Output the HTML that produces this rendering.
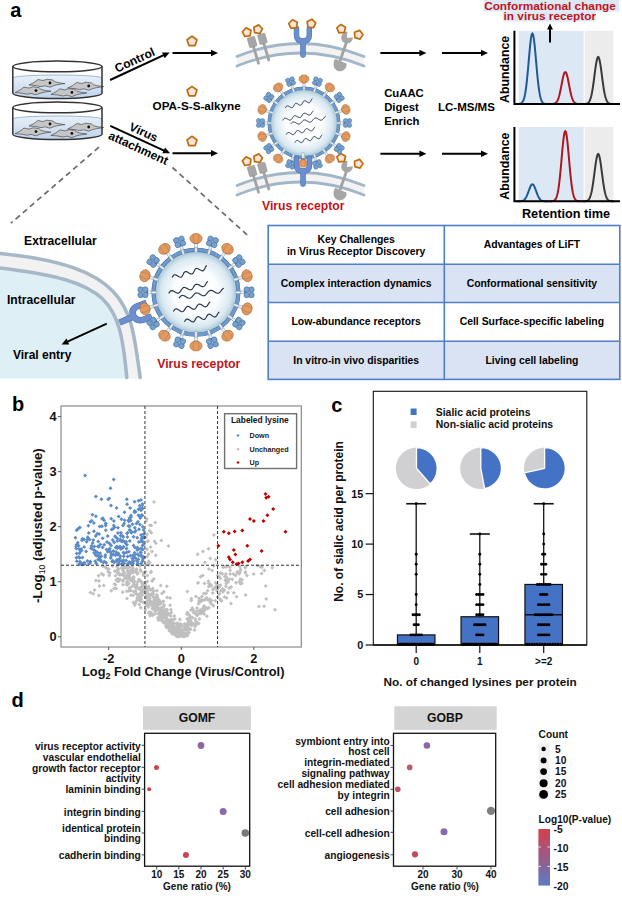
<!DOCTYPE html>
<html><head><meta charset="utf-8"><style>
html,body{margin:0;padding:0;background:#fff;width:622px;height:900px;overflow:hidden}
svg{display:block}
text{font-family:"Liberation Sans",sans-serif}
</style></head><body>
<svg width="622" height="900" viewBox="0 0 622 900">
<defs>
<linearGradient id="liq" x1="0" y1="0" x2="0" y2="1"><stop offset="0" stop-color="#eaf1f9"/><stop offset="1" stop-color="#bdd3ed"/></linearGradient>
<radialGradient id="vir" cx="0.5" cy="0.5" r="0.5"><stop offset="0" stop-color="#ffffff"/><stop offset="0.55" stop-color="#fbfdfe"/><stop offset="0.85" stop-color="#d9e8f0"/><stop offset="1" stop-color="#a8c6d9"/></radialGradient>
<linearGradient id="cbar" x1="0" y1="0" x2="0" y2="1"><stop offset="0" stop-color="#d2404a"/><stop offset="0.5" stop-color="#9b5a86"/><stop offset="1" stop-color="#5a7cc4"/></linearGradient>
</defs>
<rect width="622" height="900" fill="#fff"/>
<text x="10.2" y="17.2" font-size="20" font-weight="bold" fill="#000" text-anchor="start" >a</text>
<path d="M12.799999999999997,66.4 L12.799999999999997,93.2 A44.6,5.3 0 0 0 102.0,93.2 L102.0,66.4 Z" fill="#fff"/>
<path d="M12.799999999999997,78.0 A44.6,3 0 0 1 102.0,78.0 L102.0,93.2 A44.6,5.3 0 0 1 12.799999999999997,93.2 Z" fill="url(#liq)"/>
<path d="M12.799999999999997,78.0 A44.6,3 0 0 1 102.0,78.0" fill="none" stroke="#8fb0d4" stroke-width="0.9"/>
<g transform="translate(50,83.0)"><path d="M-21,2 L-16,-0.5 L-12,-3.5 L-7,-2.5 L-3,-3.8 L3,-3 L5,-1.2 L9,-0.2 L15,0.6 L8,1.6 L4,2.6 L0,4.2 L-5,2.8 L-9,3.6 L-14,2.6 Z" fill="#c6c6c6" stroke="#4d4d4d" stroke-width="0.7" stroke-linejoin="round"/><circle cx="0" cy="0" r="1.4" fill="#111"/></g>
<g transform="translate(88.7,86.0)"><path d="M-21,2 L-16,-0.5 L-12,-3.5 L-7,-2.5 L-3,-3.8 L3,-3 L5,-1.2 L9,-0.2 L15,0.6 L8,1.6 L4,2.6 L0,4.2 L-5,2.8 L-9,3.6 L-14,2.6 Z" fill="#c6c6c6" stroke="#4d4d4d" stroke-width="0.7" stroke-linejoin="round"/><circle cx="0" cy="0" r="1.4" fill="#111"/></g>
<g transform="translate(36,90.60000000000001)"><path d="M-21,2 L-16,-0.5 L-12,-3.5 L-7,-2.5 L-3,-3.8 L3,-3 L5,-1.2 L9,-0.2 L15,0.6 L8,1.6 L4,2.6 L0,4.2 L-5,2.8 L-9,3.6 L-14,2.6 Z" fill="#c6c6c6" stroke="#4d4d4d" stroke-width="0.7" stroke-linejoin="round"/><circle cx="0" cy="0" r="1.4" fill="#111"/></g>
<g transform="translate(71.9,92.4)"><path d="M-21,2 L-16,-0.5 L-12,-3.5 L-7,-2.5 L-3,-3.8 L3,-3 L5,-1.2 L9,-0.2 L15,0.6 L8,1.6 L4,2.6 L0,4.2 L-5,2.8 L-9,3.6 L-14,2.6 Z" fill="#c6c6c6" stroke="#4d4d4d" stroke-width="0.7" stroke-linejoin="round"/><circle cx="0" cy="0" r="1.4" fill="#111"/></g>
<ellipse cx="57.4" cy="66.4" rx="44.6" ry="5.3" fill="#fff" stroke="#333" stroke-width="1.5"/>
<path d="M12.799999999999997,66.4 L12.799999999999997,93.2 A44.6,5.3 0 0 0 102.0,93.2 L102.0,66.4" fill="none" stroke="#333" stroke-width="1.5"/>
<path d="M12.799999999999997,107.4 L12.799999999999997,134.20000000000002 A44.6,5.3 0 0 0 102.0,134.20000000000002 L102.0,107.4 Z" fill="#fff"/>
<path d="M12.799999999999997,119.0 A44.6,3 0 0 1 102.0,119.0 L102.0,134.20000000000002 A44.6,5.3 0 0 1 12.799999999999997,134.20000000000002 Z" fill="url(#liq)"/>
<path d="M12.799999999999997,119.0 A44.6,3 0 0 1 102.0,119.0" fill="none" stroke="#8fb0d4" stroke-width="0.9"/>
<g transform="translate(50,124.0)"><path d="M-21,2 L-16,-0.5 L-12,-3.5 L-7,-2.5 L-3,-3.8 L3,-3 L5,-1.2 L9,-0.2 L15,0.6 L8,1.6 L4,2.6 L0,4.2 L-5,2.8 L-9,3.6 L-14,2.6 Z" fill="#c6c6c6" stroke="#4d4d4d" stroke-width="0.7" stroke-linejoin="round"/><circle cx="0" cy="0" r="1.4" fill="#111"/></g>
<g transform="translate(88.7,127.0)"><path d="M-21,2 L-16,-0.5 L-12,-3.5 L-7,-2.5 L-3,-3.8 L3,-3 L5,-1.2 L9,-0.2 L15,0.6 L8,1.6 L4,2.6 L0,4.2 L-5,2.8 L-9,3.6 L-14,2.6 Z" fill="#c6c6c6" stroke="#4d4d4d" stroke-width="0.7" stroke-linejoin="round"/><circle cx="0" cy="0" r="1.4" fill="#111"/></g>
<g transform="translate(36,131.6)"><path d="M-21,2 L-16,-0.5 L-12,-3.5 L-7,-2.5 L-3,-3.8 L3,-3 L5,-1.2 L9,-0.2 L15,0.6 L8,1.6 L4,2.6 L0,4.2 L-5,2.8 L-9,3.6 L-14,2.6 Z" fill="#c6c6c6" stroke="#4d4d4d" stroke-width="0.7" stroke-linejoin="round"/><circle cx="0" cy="0" r="1.4" fill="#111"/></g>
<g transform="translate(71.9,133.4)"><path d="M-21,2 L-16,-0.5 L-12,-3.5 L-7,-2.5 L-3,-3.8 L3,-3 L5,-1.2 L9,-0.2 L15,0.6 L8,1.6 L4,2.6 L0,4.2 L-5,2.8 L-9,3.6 L-14,2.6 Z" fill="#c6c6c6" stroke="#4d4d4d" stroke-width="0.7" stroke-linejoin="round"/><circle cx="0" cy="0" r="1.4" fill="#111"/></g>
<ellipse cx="57.4" cy="107.4" rx="44.6" ry="5.3" fill="#fff" stroke="#333" stroke-width="1.5"/>
<path d="M12.799999999999997,107.4 L12.799999999999997,134.20000000000002 A44.6,5.3 0 0 0 102.0,134.20000000000002 L102.0,107.4" fill="none" stroke="#333" stroke-width="1.5"/>
<line x1="110.1" y1="80" x2="164.26" y2="54.92" stroke="#000" stroke-width="2"/>
<polygon points="169.70,52.40 164.71,58.29 161.98,52.39" fill="#000"/>
<line x1="110.3" y1="125.9" x2="164.65" y2="150.80" stroke="#000" stroke-width="2"/>
<polygon points="170.10,153.30 162.38,153.34 165.09,147.43" fill="#000"/>
<line x1="172.5" y1="53" x2="212.00" y2="53.00" stroke="#000" stroke-width="2"/>
<polygon points="218.00,53.00 211.00,56.25 211.00,49.75" fill="#000"/>
<line x1="172.5" y1="153.2" x2="212.00" y2="153.20" stroke="#000" stroke-width="2"/>
<polygon points="218.00,153.20 211.00,156.45 211.00,149.95" fill="#000"/>
<polygon points="192.00,36.20 196.95,39.79 195.06,45.61 188.94,45.61 187.05,39.79" fill="#fde3d6" stroke="#b96e12" stroke-width="1.7" stroke-linejoin="round"/>
<polygon points="192.00,86.40 196.95,89.99 195.06,95.81 188.94,95.81 187.05,89.99" fill="#fde3d6" stroke="#b96e12" stroke-width="1.7" stroke-linejoin="round"/>
<polygon points="192.00,136.30 196.95,139.89 195.06,145.71 188.94,145.71 187.05,139.89" fill="#fde3d6" stroke="#b96e12" stroke-width="1.7" stroke-linejoin="round"/>
<text x="0" y="0" font-size="12" font-weight="bold" fill="#000" text-anchor="start" transform="translate(117.1,72.7) rotate(-24.8)">Control</text>
<text x="0" y="0" font-size="12" font-weight="bold" fill="#000" text-anchor="start" transform="translate(128.3,129.7) rotate(24.6)">Virus</text>
<text x="0" y="0" font-size="12" font-weight="bold" fill="#000" text-anchor="start" transform="translate(107.6,138.5) rotate(24.6)">attachment</text>
<text x="152.6" y="110.2" font-size="11.7" font-weight="bold" fill="#000" text-anchor="start" >OPA-S-S-alkyne</text>
<path d="M237,56.5 Q300,30.5 364,56.5 L364,66 Q300,40 237,66 Z" fill="#f3f3f3"/>
<path d="M237,56.5 Q300,30.5 364,56.5" fill="none" stroke="#a2b6ca" stroke-width="2.8" stroke-linecap="round"/>
<path d="M237,66 Q300,40 364,66" fill="none" stroke="#a2b6ca" stroke-width="2.8" stroke-linecap="round"/>
<line x1="252.1" y1="42" x2="258.5" y2="63.2" stroke="#a3a3a3" stroke-width="2.8" stroke-linecap="round"/>
<rect x="-3.8" y="-5" width="7.6" height="10" rx="1" fill="#a6a6a6" stroke="#8c8c8c" stroke-width="0.5" transform="translate(252.1,42) rotate(-16)"/>
<line x1="262.4" y1="38.8" x2="268.8" y2="60" stroke="#a3a3a3" stroke-width="2.8" stroke-linecap="round"/>
<rect x="-3.8" y="-5" width="7.6" height="10" rx="1" fill="#a6a6a6" stroke="#8c8c8c" stroke-width="0.5" transform="translate(262.4,38.8) rotate(-16)"/>
<polygon points="246.10,27.87 250.96,30.24 250.21,35.60 244.88,36.53 242.34,31.76" fill="#fde3d6" stroke="#b96e12" stroke-width="1.7" stroke-linejoin="round"/>
<polygon points="258.70,24.87 262.46,28.76 259.92,33.53 254.59,32.60 253.84,27.24" fill="#fde3d6" stroke="#b96e12" stroke-width="1.7" stroke-linejoin="round"/>
<path d="M296.5,28.5 L296.5,35 Q296.5,41 303,41 Q309.3,41 309.3,35 L309.3,28.5 M303,41 L303,55" fill="none" stroke="#456fa8" stroke-width="5.4" stroke-linecap="round"/>
<path d="M296.5,28.5 L296.5,35 Q296.5,41 303,41 Q309.3,41 309.3,35 L309.3,28.5 M303,41 L303,55" fill="none" stroke="#6a8fcc" stroke-width="4.6" stroke-linecap="round"/>
<polygon points="292.56,19.74 297.33,22.28 296.40,27.61 291.04,28.36 288.67,23.50" fill="#fde3d6" stroke="#b96e12" stroke-width="1.7" stroke-linejoin="round"/>
<polygon points="311.84,19.14 315.73,22.90 313.36,27.76 308.00,27.01 307.07,21.68" fill="#fde3d6" stroke="#b96e12" stroke-width="1.7" stroke-linejoin="round"/>
<line x1="346.5" y1="42" x2="340" y2="61" stroke="#a3a3a3" stroke-width="2.8"/>
<path d="M346.9,38.1 L347.5,31.8 A5.8,5.8 0 1 0 352.8,37.2 Z" fill="#a6a6a6" transform="rotate(0)"/>
<path d="M335.3,59.3 L346.2,63.8 C346.5,69.5 342,71.5 338.5,70.8 C334,70 332.5,64 335.3,59.3 Z" fill="#a6a6a6" stroke="#8f8f8f" stroke-width="0.5"/>
<polygon points="340.90,24.42 345.53,27.20 344.32,32.47 338.93,32.94 336.82,27.97" fill="#fde3d6" stroke="#b96e12" stroke-width="1.7" stroke-linejoin="round"/>
<polygon points="359.59,30.36 362.99,34.56 360.05,39.09 354.83,37.69 354.54,32.29" fill="#fde3d6" stroke="#b96e12" stroke-width="1.7" stroke-linejoin="round"/>
<path d="M237,185.5 Q300,159.5 364,185.5 L364,195 Q300,169 237,195 Z" fill="#f3f3f3"/>
<path d="M237,185.5 Q300,159.5 364,185.5" fill="none" stroke="#a2b6ca" stroke-width="2.8" stroke-linecap="round"/>
<path d="M237,195 Q300,169 364,195" fill="none" stroke="#a2b6ca" stroke-width="2.8" stroke-linecap="round"/>
<line x1="252.1" y1="171" x2="258.5" y2="192.2" stroke="#a3a3a3" stroke-width="2.8" stroke-linecap="round"/>
<rect x="-3.8" y="-5" width="7.6" height="10" rx="1" fill="#a6a6a6" stroke="#8c8c8c" stroke-width="0.5" transform="translate(252.1,171) rotate(-16)"/>
<line x1="262.4" y1="167.8" x2="268.8" y2="189" stroke="#a3a3a3" stroke-width="2.8" stroke-linecap="round"/>
<rect x="-3.8" y="-5" width="7.6" height="10" rx="1" fill="#a6a6a6" stroke="#8c8c8c" stroke-width="0.5" transform="translate(262.4,167.8) rotate(-16)"/>
<polygon points="246.10,156.87 250.96,159.24 250.21,164.60 244.88,165.53 242.34,160.76" fill="#fde3d6" stroke="#b96e12" stroke-width="1.7" stroke-linejoin="round"/>
<polygon points="258.70,153.87 262.46,157.76 259.92,162.53 254.59,161.60 253.84,156.24" fill="#fde3d6" stroke="#b96e12" stroke-width="1.7" stroke-linejoin="round"/>
<line x1="346.5" y1="171" x2="340" y2="190" stroke="#a3a3a3" stroke-width="2.8"/>
<path d="M346.9,167.1 L347.5,160.8 A5.8,5.8 0 1 0 352.8,166.2 Z" fill="#a6a6a6" transform="rotate(0)"/>
<path d="M335.3,188.3 L346.2,192.8 C346.5,198.5 342,200.5 338.5,199.8 C334,199 332.5,193 335.3,188.3 Z" fill="#a6a6a6" stroke="#8f8f8f" stroke-width="0.5"/>
<polygon points="340.90,153.42 345.53,156.20 344.32,161.47 338.93,161.94 336.82,156.97" fill="#fde3d6" stroke="#b96e12" stroke-width="1.7" stroke-linejoin="round"/>
<polygon points="359.59,159.36 362.99,163.56 360.05,168.09 354.83,166.69 354.54,161.29" fill="#fde3d6" stroke="#b96e12" stroke-width="1.7" stroke-linejoin="round"/>
<g transform="translate(304.00,80.00) rotate(0) scale(1.0)"><rect x="-1.1" y="2.2" width="2.2" height="7.5" fill="#eef2f5" stroke="#8e9eac" stroke-width="0.45"/><rect x="-1.6" y="1.8" width="3.2" height="1.4" fill="#3d5f8f"/><ellipse cx="0" cy="-1" rx="5" ry="4.1" fill="#e39a60" stroke="#a9683a" stroke-width="0.5"/><path d="M-1.9,-5.2 Q-2.9,-1.2 -1.9,2.9 M1.9,-5.2 Q2.9,-1.2 1.9,2.9" fill="none" stroke="#c07a45" stroke-width="0.5"/></g><g transform="translate(317.29,82.10) rotate(18) scale(1.0)"><rect x="-1.1" y="2.2" width="2.2" height="7.5" fill="#eef2f5" stroke="#8e9eac" stroke-width="0.45"/><rect x="-1" y="1.5" width="2" height="2" fill="#3d5f8f"/><circle cx="-2.2" cy="-2.4" r="2.3" fill="#76a0cd" stroke="#46709f" stroke-width="0.5"/><circle cx="2.2" cy="-2.4" r="2.3" fill="#76a0cd" stroke="#46709f" stroke-width="0.5"/><circle cx="-2.2" cy="1.4" r="2.3" fill="#76a0cd" stroke="#46709f" stroke-width="0.5"/><circle cx="2.2" cy="1.4" r="2.3" fill="#76a0cd" stroke="#46709f" stroke-width="0.5"/></g><g transform="translate(329.27,88.21) rotate(36) scale(1.0)"><rect x="-1.1" y="2.2" width="2.2" height="7.5" fill="#eef2f5" stroke="#8e9eac" stroke-width="0.45"/><rect x="-1.6" y="1.8" width="3.2" height="1.4" fill="#3d5f8f"/><ellipse cx="0" cy="-1" rx="5" ry="4.1" fill="#e39a60" stroke="#a9683a" stroke-width="0.5"/><path d="M-1.9,-5.2 Q-2.9,-1.2 -1.9,2.9 M1.9,-5.2 Q2.9,-1.2 1.9,2.9" fill="none" stroke="#c07a45" stroke-width="0.5"/></g><g transform="translate(338.79,97.73) rotate(54) scale(1.0)"><rect x="-1.1" y="2.2" width="2.2" height="7.5" fill="#eef2f5" stroke="#8e9eac" stroke-width="0.45"/><rect x="-1" y="1.5" width="2" height="2" fill="#3d5f8f"/><circle cx="-2.2" cy="-2.4" r="2.3" fill="#76a0cd" stroke="#46709f" stroke-width="0.5"/><circle cx="2.2" cy="-2.4" r="2.3" fill="#76a0cd" stroke="#46709f" stroke-width="0.5"/><circle cx="-2.2" cy="1.4" r="2.3" fill="#76a0cd" stroke="#46709f" stroke-width="0.5"/><circle cx="2.2" cy="1.4" r="2.3" fill="#76a0cd" stroke="#46709f" stroke-width="0.5"/></g><g transform="translate(344.90,109.71) rotate(72) scale(1.0)"><rect x="-1.1" y="2.2" width="2.2" height="7.5" fill="#eef2f5" stroke="#8e9eac" stroke-width="0.45"/><rect x="-1.6" y="1.8" width="3.2" height="1.4" fill="#3d5f8f"/><ellipse cx="0" cy="-1" rx="5" ry="4.1" fill="#e39a60" stroke="#a9683a" stroke-width="0.5"/><path d="M-1.9,-5.2 Q-2.9,-1.2 -1.9,2.9 M1.9,-5.2 Q2.9,-1.2 1.9,2.9" fill="none" stroke="#c07a45" stroke-width="0.5"/></g><g transform="translate(347.00,123.00) rotate(90) scale(1.0)"><rect x="-1.1" y="2.2" width="2.2" height="7.5" fill="#eef2f5" stroke="#8e9eac" stroke-width="0.45"/><rect x="-1" y="1.5" width="2" height="2" fill="#3d5f8f"/><circle cx="-2.2" cy="-2.4" r="2.3" fill="#76a0cd" stroke="#46709f" stroke-width="0.5"/><circle cx="2.2" cy="-2.4" r="2.3" fill="#76a0cd" stroke="#46709f" stroke-width="0.5"/><circle cx="-2.2" cy="1.4" r="2.3" fill="#76a0cd" stroke="#46709f" stroke-width="0.5"/><circle cx="2.2" cy="1.4" r="2.3" fill="#76a0cd" stroke="#46709f" stroke-width="0.5"/></g><g transform="translate(344.90,136.29) rotate(108) scale(1.0)"><rect x="-1.1" y="2.2" width="2.2" height="7.5" fill="#eef2f5" stroke="#8e9eac" stroke-width="0.45"/><rect x="-1.6" y="1.8" width="3.2" height="1.4" fill="#3d5f8f"/><ellipse cx="0" cy="-1" rx="5" ry="4.1" fill="#e39a60" stroke="#a9683a" stroke-width="0.5"/><path d="M-1.9,-5.2 Q-2.9,-1.2 -1.9,2.9 M1.9,-5.2 Q2.9,-1.2 1.9,2.9" fill="none" stroke="#c07a45" stroke-width="0.5"/></g><g transform="translate(338.79,148.27) rotate(126) scale(1.0)"><rect x="-1.1" y="2.2" width="2.2" height="7.5" fill="#eef2f5" stroke="#8e9eac" stroke-width="0.45"/><rect x="-1" y="1.5" width="2" height="2" fill="#3d5f8f"/><circle cx="-2.2" cy="-2.4" r="2.3" fill="#76a0cd" stroke="#46709f" stroke-width="0.5"/><circle cx="2.2" cy="-2.4" r="2.3" fill="#76a0cd" stroke="#46709f" stroke-width="0.5"/><circle cx="-2.2" cy="1.4" r="2.3" fill="#76a0cd" stroke="#46709f" stroke-width="0.5"/><circle cx="2.2" cy="1.4" r="2.3" fill="#76a0cd" stroke="#46709f" stroke-width="0.5"/></g><g transform="translate(329.27,157.79) rotate(144) scale(1.0)"><rect x="-1.1" y="2.2" width="2.2" height="7.5" fill="#eef2f5" stroke="#8e9eac" stroke-width="0.45"/><rect x="-1.6" y="1.8" width="3.2" height="1.4" fill="#3d5f8f"/><ellipse cx="0" cy="-1" rx="5" ry="4.1" fill="#e39a60" stroke="#a9683a" stroke-width="0.5"/><path d="M-1.9,-5.2 Q-2.9,-1.2 -1.9,2.9 M1.9,-5.2 Q2.9,-1.2 1.9,2.9" fill="none" stroke="#c07a45" stroke-width="0.5"/></g><g transform="translate(317.29,163.90) rotate(162) scale(1.0)"><rect x="-1.1" y="2.2" width="2.2" height="7.5" fill="#eef2f5" stroke="#8e9eac" stroke-width="0.45"/><rect x="-1" y="1.5" width="2" height="2" fill="#3d5f8f"/><circle cx="-2.2" cy="-2.4" r="2.3" fill="#76a0cd" stroke="#46709f" stroke-width="0.5"/><circle cx="2.2" cy="-2.4" r="2.3" fill="#76a0cd" stroke="#46709f" stroke-width="0.5"/><circle cx="-2.2" cy="1.4" r="2.3" fill="#76a0cd" stroke="#46709f" stroke-width="0.5"/><circle cx="2.2" cy="1.4" r="2.3" fill="#76a0cd" stroke="#46709f" stroke-width="0.5"/></g><g transform="translate(290.71,163.90) rotate(198) scale(1.0)"><rect x="-1.1" y="2.2" width="2.2" height="7.5" fill="#eef2f5" stroke="#8e9eac" stroke-width="0.45"/><rect x="-1" y="1.5" width="2" height="2" fill="#3d5f8f"/><circle cx="-2.2" cy="-2.4" r="2.3" fill="#76a0cd" stroke="#46709f" stroke-width="0.5"/><circle cx="2.2" cy="-2.4" r="2.3" fill="#76a0cd" stroke="#46709f" stroke-width="0.5"/><circle cx="-2.2" cy="1.4" r="2.3" fill="#76a0cd" stroke="#46709f" stroke-width="0.5"/><circle cx="2.2" cy="1.4" r="2.3" fill="#76a0cd" stroke="#46709f" stroke-width="0.5"/></g><g transform="translate(278.73,157.79) rotate(216) scale(1.0)"><rect x="-1.1" y="2.2" width="2.2" height="7.5" fill="#eef2f5" stroke="#8e9eac" stroke-width="0.45"/><rect x="-1.6" y="1.8" width="3.2" height="1.4" fill="#3d5f8f"/><ellipse cx="0" cy="-1" rx="5" ry="4.1" fill="#e39a60" stroke="#a9683a" stroke-width="0.5"/><path d="M-1.9,-5.2 Q-2.9,-1.2 -1.9,2.9 M1.9,-5.2 Q2.9,-1.2 1.9,2.9" fill="none" stroke="#c07a45" stroke-width="0.5"/></g><g transform="translate(269.21,148.27) rotate(234) scale(1.0)"><rect x="-1.1" y="2.2" width="2.2" height="7.5" fill="#eef2f5" stroke="#8e9eac" stroke-width="0.45"/><rect x="-1" y="1.5" width="2" height="2" fill="#3d5f8f"/><circle cx="-2.2" cy="-2.4" r="2.3" fill="#76a0cd" stroke="#46709f" stroke-width="0.5"/><circle cx="2.2" cy="-2.4" r="2.3" fill="#76a0cd" stroke="#46709f" stroke-width="0.5"/><circle cx="-2.2" cy="1.4" r="2.3" fill="#76a0cd" stroke="#46709f" stroke-width="0.5"/><circle cx="2.2" cy="1.4" r="2.3" fill="#76a0cd" stroke="#46709f" stroke-width="0.5"/></g><g transform="translate(263.10,136.29) rotate(252) scale(1.0)"><rect x="-1.1" y="2.2" width="2.2" height="7.5" fill="#eef2f5" stroke="#8e9eac" stroke-width="0.45"/><rect x="-1.6" y="1.8" width="3.2" height="1.4" fill="#3d5f8f"/><ellipse cx="0" cy="-1" rx="5" ry="4.1" fill="#e39a60" stroke="#a9683a" stroke-width="0.5"/><path d="M-1.9,-5.2 Q-2.9,-1.2 -1.9,2.9 M1.9,-5.2 Q2.9,-1.2 1.9,2.9" fill="none" stroke="#c07a45" stroke-width="0.5"/></g><g transform="translate(261.00,123.00) rotate(270) scale(1.0)"><rect x="-1.1" y="2.2" width="2.2" height="7.5" fill="#eef2f5" stroke="#8e9eac" stroke-width="0.45"/><rect x="-1" y="1.5" width="2" height="2" fill="#3d5f8f"/><circle cx="-2.2" cy="-2.4" r="2.3" fill="#76a0cd" stroke="#46709f" stroke-width="0.5"/><circle cx="2.2" cy="-2.4" r="2.3" fill="#76a0cd" stroke="#46709f" stroke-width="0.5"/><circle cx="-2.2" cy="1.4" r="2.3" fill="#76a0cd" stroke="#46709f" stroke-width="0.5"/><circle cx="2.2" cy="1.4" r="2.3" fill="#76a0cd" stroke="#46709f" stroke-width="0.5"/></g><g transform="translate(263.10,109.71) rotate(288) scale(1.0)"><rect x="-1.1" y="2.2" width="2.2" height="7.5" fill="#eef2f5" stroke="#8e9eac" stroke-width="0.45"/><rect x="-1.6" y="1.8" width="3.2" height="1.4" fill="#3d5f8f"/><ellipse cx="0" cy="-1" rx="5" ry="4.1" fill="#e39a60" stroke="#a9683a" stroke-width="0.5"/><path d="M-1.9,-5.2 Q-2.9,-1.2 -1.9,2.9 M1.9,-5.2 Q2.9,-1.2 1.9,2.9" fill="none" stroke="#c07a45" stroke-width="0.5"/></g><g transform="translate(269.21,97.73) rotate(306) scale(1.0)"><rect x="-1.1" y="2.2" width="2.2" height="7.5" fill="#eef2f5" stroke="#8e9eac" stroke-width="0.45"/><rect x="-1" y="1.5" width="2" height="2" fill="#3d5f8f"/><circle cx="-2.2" cy="-2.4" r="2.3" fill="#76a0cd" stroke="#46709f" stroke-width="0.5"/><circle cx="2.2" cy="-2.4" r="2.3" fill="#76a0cd" stroke="#46709f" stroke-width="0.5"/><circle cx="-2.2" cy="1.4" r="2.3" fill="#76a0cd" stroke="#46709f" stroke-width="0.5"/><circle cx="2.2" cy="1.4" r="2.3" fill="#76a0cd" stroke="#46709f" stroke-width="0.5"/></g><g transform="translate(278.73,88.21) rotate(324) scale(1.0)"><rect x="-1.1" y="2.2" width="2.2" height="7.5" fill="#eef2f5" stroke="#8e9eac" stroke-width="0.45"/><rect x="-1.6" y="1.8" width="3.2" height="1.4" fill="#3d5f8f"/><ellipse cx="0" cy="-1" rx="5" ry="4.1" fill="#e39a60" stroke="#a9683a" stroke-width="0.5"/><path d="M-1.9,-5.2 Q-2.9,-1.2 -1.9,2.9 M1.9,-5.2 Q2.9,-1.2 1.9,2.9" fill="none" stroke="#c07a45" stroke-width="0.5"/></g><g transform="translate(290.71,82.10) rotate(342) scale(1.0)"><rect x="-1.1" y="2.2" width="2.2" height="7.5" fill="#eef2f5" stroke="#8e9eac" stroke-width="0.45"/><rect x="-1" y="1.5" width="2" height="2" fill="#3d5f8f"/><circle cx="-2.2" cy="-2.4" r="2.3" fill="#76a0cd" stroke="#46709f" stroke-width="0.5"/><circle cx="2.2" cy="-2.4" r="2.3" fill="#76a0cd" stroke="#46709f" stroke-width="0.5"/><circle cx="-2.2" cy="1.4" r="2.3" fill="#76a0cd" stroke="#46709f" stroke-width="0.5"/><circle cx="2.2" cy="1.4" r="2.3" fill="#76a0cd" stroke="#46709f" stroke-width="0.5"/></g>
<circle cx="304" cy="123" r="33.50" fill="url(#vir)"/>
<circle cx="304" cy="123" r="34.80" fill="none" stroke="#46709c" stroke-width="3.40"/>
<circle cx="304" cy="123" r="34.80" fill="none" stroke="#6e9bcb" stroke-width="2.50"/>
<g transform="translate(304.00,88.20) rotate(0) scale(1.0)"><rect x="-0.9" y="-2" width="1.8" height="4.5" fill="#eef2f5" stroke="#8e9eac" stroke-width="0.4"/></g><g transform="translate(314.75,89.90) rotate(18) scale(1.0)"><rect x="-0.9" y="-2" width="1.8" height="4.5" fill="#eef2f5" stroke="#8e9eac" stroke-width="0.4"/></g><g transform="translate(324.45,94.85) rotate(36) scale(1.0)"><rect x="-0.9" y="-2" width="1.8" height="4.5" fill="#eef2f5" stroke="#8e9eac" stroke-width="0.4"/></g><g transform="translate(332.15,102.55) rotate(54) scale(1.0)"><rect x="-0.9" y="-2" width="1.8" height="4.5" fill="#eef2f5" stroke="#8e9eac" stroke-width="0.4"/></g><g transform="translate(337.10,112.25) rotate(72) scale(1.0)"><rect x="-0.9" y="-2" width="1.8" height="4.5" fill="#eef2f5" stroke="#8e9eac" stroke-width="0.4"/></g><g transform="translate(338.80,123.00) rotate(90) scale(1.0)"><rect x="-0.9" y="-2" width="1.8" height="4.5" fill="#eef2f5" stroke="#8e9eac" stroke-width="0.4"/></g><g transform="translate(337.10,133.75) rotate(108) scale(1.0)"><rect x="-0.9" y="-2" width="1.8" height="4.5" fill="#eef2f5" stroke="#8e9eac" stroke-width="0.4"/></g><g transform="translate(332.15,143.45) rotate(126) scale(1.0)"><rect x="-0.9" y="-2" width="1.8" height="4.5" fill="#eef2f5" stroke="#8e9eac" stroke-width="0.4"/></g><g transform="translate(324.45,151.15) rotate(144) scale(1.0)"><rect x="-0.9" y="-2" width="1.8" height="4.5" fill="#eef2f5" stroke="#8e9eac" stroke-width="0.4"/></g><g transform="translate(314.75,156.10) rotate(162) scale(1.0)"><rect x="-0.9" y="-2" width="1.8" height="4.5" fill="#eef2f5" stroke="#8e9eac" stroke-width="0.4"/></g><g transform="translate(304.00,157.80) rotate(180) scale(1.0)"><rect x="-0.9" y="-2" width="1.8" height="4.5" fill="#eef2f5" stroke="#8e9eac" stroke-width="0.4"/></g><g transform="translate(293.25,156.10) rotate(198) scale(1.0)"><rect x="-0.9" y="-2" width="1.8" height="4.5" fill="#eef2f5" stroke="#8e9eac" stroke-width="0.4"/></g><g transform="translate(283.55,151.15) rotate(216) scale(1.0)"><rect x="-0.9" y="-2" width="1.8" height="4.5" fill="#eef2f5" stroke="#8e9eac" stroke-width="0.4"/></g><g transform="translate(275.85,143.45) rotate(234) scale(1.0)"><rect x="-0.9" y="-2" width="1.8" height="4.5" fill="#eef2f5" stroke="#8e9eac" stroke-width="0.4"/></g><g transform="translate(270.90,133.75) rotate(252) scale(1.0)"><rect x="-0.9" y="-2" width="1.8" height="4.5" fill="#eef2f5" stroke="#8e9eac" stroke-width="0.4"/></g><g transform="translate(269.20,123.00) rotate(270) scale(1.0)"><rect x="-0.9" y="-2" width="1.8" height="4.5" fill="#eef2f5" stroke="#8e9eac" stroke-width="0.4"/></g><g transform="translate(270.90,112.25) rotate(288) scale(1.0)"><rect x="-0.9" y="-2" width="1.8" height="4.5" fill="#eef2f5" stroke="#8e9eac" stroke-width="0.4"/></g><g transform="translate(275.85,102.55) rotate(306) scale(1.0)"><rect x="-0.9" y="-2" width="1.8" height="4.5" fill="#eef2f5" stroke="#8e9eac" stroke-width="0.4"/></g><g transform="translate(283.55,94.85) rotate(324) scale(1.0)"><rect x="-0.9" y="-2" width="1.8" height="4.5" fill="#eef2f5" stroke="#8e9eac" stroke-width="0.4"/></g><g transform="translate(293.25,89.90) rotate(342) scale(1.0)"><rect x="-0.9" y="-2" width="1.8" height="4.5" fill="#eef2f5" stroke="#8e9eac" stroke-width="0.4"/></g>
<polyline transform="translate(285.40,108.00) scale(1.0) rotate(-16.3)" points="0.00,-0.00 0.48,-0.53 0.95,-0.99 1.43,-1.35 1.90,-1.56 2.38,-1.59 2.85,-1.45 3.33,-1.14 3.81,-0.71 4.28,-0.20 4.76,0.33 5.23,0.83 5.71,1.23 6.18,1.50 6.66,1.60 7.14,1.52 7.61,1.27 8.09,0.89 8.56,0.40 9.04,-0.13 9.51,-0.65 9.99,-1.10 10.47,-1.42 10.94,-1.58 11.42,-1.57 11.89,-1.39 12.37,-1.05 12.84,-0.59 13.32,-0.07 13.80,0.46 14.27,0.94 14.75,1.31 15.22,1.54 15.70,1.60 16.17,1.47 16.65,1.19 17.13,0.77 17.60,0.27 18.08,-0.27 18.55,-0.77 19.03,-1.19 19.51,-1.47 19.98,-1.60 20.46,-1.54 20.93,-1.31 21.41,-0.94 21.88,-0.46 22.36,0.07 22.84,0.59 23.31,1.05 23.79,1.39 24.26,1.57 24.74,1.58 25.21,1.42 25.69,1.10 26.17,0.65 26.64,0.13 27.12,-0.40 27.59,-0.89 28.07,-1.27 28.54,-1.52" fill="none" stroke="#26314f" stroke-width="0.9"/>
<polyline transform="translate(282.70,120.40) scale(1.0) rotate(-14.5)" points="0.00,-0.00 0.53,-0.53 1.07,-0.99 1.60,-1.35 2.13,-1.56 2.67,-1.59 3.20,-1.45 3.74,-1.14 4.27,-0.71 4.80,-0.20 5.34,0.33 5.87,0.83 6.40,1.23 6.94,1.50 7.47,1.60 8.00,1.52 8.54,1.27 9.07,0.89 9.60,0.40 10.14,-0.13 10.67,-0.65 11.21,-1.10 11.74,-1.42 12.27,-1.58 12.81,-1.57 13.34,-1.39 13.87,-1.05 14.41,-0.59 14.94,-0.07 15.47,0.46 16.01,0.94 16.54,1.31 17.07,1.54 17.61,1.60 18.14,1.47 18.68,1.19 19.21,0.77 19.74,0.27 20.28,-0.27 20.81,-0.77 21.34,-1.19 21.88,-1.47 22.41,-1.60 22.94,-1.54 23.48,-1.31 24.01,-0.94 24.55,-0.46 25.08,0.07 25.61,0.59 26.15,1.05 26.68,1.39 27.21,1.57 27.75,1.58 28.28,1.42 28.81,1.10 29.35,0.65 29.88,0.13 30.41,-0.40 30.95,-0.89 31.48,-1.27 32.02,-1.52" fill="none" stroke="#26314f" stroke-width="0.9"/>
<polyline transform="translate(290.70,124.00) scale(1.0) rotate(-10.1)" points="0.00,-0.00 0.60,-0.53 1.20,-0.99 1.79,-1.35 2.39,-1.56 2.99,-1.59 3.59,-1.45 4.18,-1.14 4.78,-0.71 5.38,-0.20 5.98,0.33 6.57,0.83 7.17,1.23 7.77,1.50 8.37,1.60 8.96,1.52 9.56,1.27 10.16,0.89 10.76,0.40 11.35,-0.13 11.95,-0.65 12.55,-1.10 13.15,-1.42 13.75,-1.58 14.34,-1.57 14.94,-1.39 15.54,-1.05 16.14,-0.59 16.73,-0.07 17.33,0.46 17.93,0.94 18.53,1.31 19.12,1.54 19.72,1.60 20.32,1.47 20.92,1.19 21.51,0.77 22.11,0.27 22.71,-0.27 23.31,-0.77 23.91,-1.19 24.50,-1.47 25.10,-1.60 25.70,-1.54 26.30,-1.31 26.89,-0.94 27.49,-0.46 28.09,0.07 28.69,0.59 29.28,1.05 29.88,1.39 30.48,1.57 31.08,1.58 31.67,1.42 32.27,1.10 32.87,0.65 33.47,0.13 34.06,-0.40 34.66,-0.89 35.26,-1.27 35.86,-1.52" fill="none" stroke="#26314f" stroke-width="0.9"/>
<polyline transform="translate(286.30,134.50) scale(1.0) rotate(-11.8)" points="0.00,-0.00 0.50,-0.53 0.99,-0.99 1.49,-1.35 1.98,-1.56 2.48,-1.59 2.97,-1.45 3.47,-1.14 3.96,-0.71 4.46,-0.20 4.96,0.33 5.45,0.83 5.95,1.23 6.44,1.50 6.94,1.60 7.43,1.52 7.93,1.27 8.42,0.89 8.92,0.40 9.42,-0.13 9.91,-0.65 10.41,-1.10 10.90,-1.42 11.40,-1.58 11.89,-1.57 12.39,-1.39 12.88,-1.05 13.38,-0.59 13.88,-0.07 14.37,0.46 14.87,0.94 15.36,1.31 15.86,1.54 16.35,1.60 16.85,1.47 17.34,1.19 17.84,0.77 18.34,0.27 18.83,-0.27 19.33,-0.77 19.82,-1.19 20.32,-1.47 20.81,-1.60 21.31,-1.54 21.80,-1.31 22.30,-0.94 22.79,-0.46 23.29,0.07 23.79,0.59 24.28,1.05 24.78,1.39 25.27,1.57 25.77,1.58 26.26,1.42 26.76,1.10 27.25,0.65 27.75,0.13 28.25,-0.40 28.74,-0.89 29.24,-1.27 29.73,-1.52" fill="none" stroke="#26314f" stroke-width="0.9"/>
<polyline transform="translate(295.00,142.50) scale(1.0) rotate(-12.7)" points="0.00,-0.00 0.47,-0.53 0.94,-0.99 1.41,-1.35 1.88,-1.56 2.35,-1.59 2.82,-1.45 3.29,-1.14 3.76,-0.71 4.23,-0.20 4.70,0.33 5.17,0.83 5.64,1.23 6.11,1.50 6.58,1.60 7.05,1.52 7.52,1.27 7.99,0.89 8.46,0.40 8.93,-0.13 9.40,-0.65 9.87,-1.10 10.34,-1.42 10.81,-1.58 11.28,-1.57 11.75,-1.39 12.22,-1.05 12.69,-0.59 13.16,-0.07 13.63,0.46 14.10,0.94 14.56,1.31 15.03,1.54 15.50,1.60 15.97,1.47 16.44,1.19 16.91,0.77 17.38,0.27 17.85,-0.27 18.32,-0.77 18.79,-1.19 19.26,-1.47 19.73,-1.60 20.20,-1.54 20.67,-1.31 21.14,-0.94 21.61,-0.46 22.08,0.07 22.55,0.59 23.02,1.05 23.49,1.39 23.96,1.57 24.43,1.58 24.90,1.42 25.37,1.10 25.84,0.65 26.31,0.13 26.78,-0.40 27.25,-0.89 27.72,-1.27 28.19,-1.52" fill="none" stroke="#26314f" stroke-width="0.9"/>
<g transform="translate(303,161.8)"><rect x="-1.1" y="-9" width="2.2" height="6.5" fill="#eef2f5" stroke="#8e9eac" stroke-width="0.45"/><rect x="-1.8" y="-3.4" width="3.6" height="1.4" fill="#3d5f8f"/><ellipse cx="0" cy="1.6" rx="4.6" ry="3.8" fill="#eb9c5e" stroke="#a9683a" stroke-width="0.5"/><path d="M-1.7,-2 Q-2.5,1.6 -1.7,5.2 M1.7,-2 Q2.5,1.6 1.7,5.2" fill="none" stroke="#c07a45" stroke-width="0.5"/></g>
<path d="M296.5,158.5 L296.5,165 Q296.5,171 303,171 Q309.5,171 309.5,165 L309.5,158.5 M303,171 L303,184" fill="none" stroke="#456fa8" stroke-width="5.4" stroke-linecap="round"/>
<path d="M296.5,158.5 L296.5,165 Q296.5,171 303,171 Q309.5,171 309.5,165 L309.5,158.5 M303,171 L303,184" fill="none" stroke="#6a8fcc" stroke-width="4.4" stroke-linecap="round"/>
<text x="262" y="209.6" font-size="12.2" font-weight="bold" fill="#c0141c" text-anchor="start" >Virus receptor</text>
<line x1="380.4" y1="53" x2="420.40" y2="53.00" stroke="#000" stroke-width="2"/>
<polygon points="426.40,53.00 419.40,56.25 419.40,49.75" fill="#000"/>
<line x1="442" y1="53" x2="482.00" y2="53.00" stroke="#000" stroke-width="2"/>
<polygon points="488.00,53.00 481.00,56.25 481.00,49.75" fill="#000"/>
<line x1="380.4" y1="153.7" x2="420.40" y2="153.70" stroke="#000" stroke-width="2"/>
<polygon points="426.40,153.70 419.40,156.95 419.40,150.45" fill="#000"/>
<line x1="442" y1="153.7" x2="482.00" y2="153.70" stroke="#000" stroke-width="2"/>
<polygon points="488.00,153.70 481.00,156.95 481.00,150.45" fill="#000"/>
<text x="384.2" y="96.5" font-size="11.3" font-weight="bold" fill="#000" text-anchor="start" >CuAAC</text>
<text x="384.2" y="110.5" font-size="11.3" font-weight="bold" fill="#000" text-anchor="start" >Digest</text>
<text x="384.2" y="124.5" font-size="11.3" font-weight="bold" fill="#000" text-anchor="start" >Enrich</text>
<text x="438" y="110.5" font-size="11.5" font-weight="bold" fill="#000" text-anchor="start" >LC-MS/MS</text>
<rect x="518.6" y="30.8" width="65" height="73.2" fill="#dde8f5"/>
<rect x="584.8" y="30.8" width="28.5" height="73.2" fill="#ececec"/>
<polyline points="516.40,103.99 516.80,103.99 517.20,103.98 517.60,103.98 518.00,103.96 518.40,103.95 518.80,103.92 519.20,103.88 519.60,103.82 520.00,103.74 520.40,103.63 520.80,103.48 521.20,103.28 521.60,103.00 522.00,102.64 522.40,102.17 522.80,101.57 523.20,100.80 523.60,99.83 524.00,98.64 524.40,97.19 524.80,95.45 525.20,93.39 525.60,90.98 526.00,88.21 526.40,85.07 526.80,81.57 527.20,77.74 527.60,73.61 528.00,69.24 528.40,64.70 528.80,60.08 529.20,55.50 529.60,51.05 530.00,46.88 530.40,43.08 530.80,39.79 531.20,37.11 531.60,35.13 532.00,33.91 532.40,33.50 532.80,33.91 533.20,35.13 533.60,37.11 534.00,39.79 534.40,43.08 534.80,46.88 535.20,51.05 535.60,55.50 536.00,60.08 536.40,64.70 536.80,69.24 537.20,73.61 537.60,77.74 538.00,81.57 538.40,85.07 538.80,88.21 539.20,90.98 539.60,93.39 540.00,95.45 540.40,97.19 540.80,98.64 541.20,99.83 541.60,100.80 542.00,101.57 542.40,102.17 542.80,102.64 543.20,103.00 543.60,103.28 544.00,103.48 544.40,103.63 544.80,103.74 545.20,103.82 545.60,103.88 546.00,103.92 546.40,103.95 546.80,103.96 547.20,103.98 547.60,103.98 548.00,103.99 548.40,103.99" fill="none" stroke="#1f5a96" stroke-width="2"/>
<polyline points="549.30,104.00 549.70,104.00 550.10,103.99 550.50,103.99 550.90,103.98 551.30,103.98 551.70,103.96 552.10,103.94 552.50,103.92 552.90,103.88 553.30,103.83 553.70,103.77 554.10,103.67 554.50,103.55 554.90,103.38 555.30,103.17 555.70,102.90 556.10,102.55 556.50,102.11 556.90,101.57 557.30,100.91 557.70,100.12 558.10,99.18 558.50,98.09 558.90,96.83 559.30,95.41 559.70,93.82 560.10,92.08 560.50,90.21 560.90,88.22 561.30,86.16 561.70,84.07 562.10,81.98 562.50,79.97 562.90,78.07 563.30,76.35 563.70,74.86 564.10,73.64 564.50,72.74 564.90,72.19 565.30,72.00 565.70,72.19 566.10,72.74 566.50,73.64 566.90,74.86 567.30,76.35 567.70,78.07 568.10,79.97 568.50,81.98 568.90,84.07 569.30,86.16 569.70,88.22 570.10,90.21 570.50,92.08 570.90,93.82 571.30,95.41 571.70,96.83 572.10,98.09 572.50,99.18 572.90,100.12 573.30,100.91 573.70,101.57 574.10,102.11 574.50,102.55 574.90,102.90 575.30,103.17 575.70,103.38 576.10,103.55 576.50,103.67 576.90,103.77 577.30,103.83 577.70,103.88 578.10,103.92 578.50,103.94 578.90,103.96 579.30,103.98 579.70,103.98 580.10,103.99 580.50,103.99 580.90,104.00 581.30,104.00" fill="none" stroke="#b0161e" stroke-width="2"/>
<polyline points="582.20,104.00 582.60,103.99 583.00,103.99 583.40,103.98 583.80,103.98 584.20,103.96 584.60,103.95 585.00,103.92 585.40,103.88 585.80,103.83 586.20,103.76 586.60,103.66 587.00,103.52 587.40,103.34 587.80,103.10 588.20,102.78 588.60,102.38 589.00,101.86 589.40,101.22 589.80,100.43 590.20,99.46 590.60,98.30 591.00,96.92 591.40,95.32 591.80,93.47 592.20,91.38 592.60,89.05 593.00,86.49 593.40,83.74 593.80,80.83 594.20,77.80 594.60,74.72 595.00,71.66 595.40,68.70 595.80,65.92 596.20,63.39 596.60,61.20 597.00,59.41 597.40,58.09 597.80,57.27 598.20,57.00 598.60,57.27 599.00,58.09 599.40,59.41 599.80,61.20 600.20,63.39 600.60,65.92 601.00,68.70 601.40,71.66 601.80,74.72 602.20,77.80 602.60,80.83 603.00,83.74 603.40,86.49 603.80,89.05 604.20,91.38 604.60,93.47 605.00,95.32 605.40,96.92 605.80,98.30 606.20,99.46 606.60,100.43 607.00,101.22 607.40,101.86 607.80,102.38 608.20,102.78 608.60,103.10 609.00,103.34 609.40,103.52 609.80,103.66 610.20,103.76 610.60,103.83 611.00,103.88 611.40,103.92 611.80,103.95 612.20,103.96 612.60,103.98 613.00,103.98 613.40,103.99 613.80,103.99 614.20,104.00" fill="none" stroke="#3a3a3a" stroke-width="2"/>
<path d="M514.4,30.8 L514.4,104 L620,104" fill="none" stroke="#000" stroke-width="2"/>
<text x="0" y="0" font-size="12.3" font-weight="bold" fill="#000" text-anchor="middle" transform="translate(508.9,69.4) rotate(-90)">Abundance</text>
<rect x="518.6" y="127" width="65" height="74.30000000000001" fill="#dde8f5"/>
<rect x="584.8" y="127" width="28.5" height="74.30000000000001" fill="#ececec"/>
<polyline points="516.40,201.30 516.80,201.30 517.20,201.30 517.60,201.29 518.00,201.29 518.40,201.29 518.80,201.28 519.20,201.27 519.60,201.26 520.00,201.24 520.40,201.21 520.80,201.18 521.20,201.13 521.60,201.06 522.00,200.97 522.40,200.86 522.80,200.71 523.20,200.53 523.60,200.30 524.00,200.01 524.40,199.66 524.80,199.24 525.20,198.74 525.60,198.16 526.00,197.49 526.40,196.74 526.80,195.89 527.20,194.97 527.60,193.97 528.00,192.92 528.40,191.82 528.80,190.71 529.20,189.60 529.60,188.53 530.00,187.53 530.40,186.61 530.80,185.82 531.20,185.17 531.60,184.69 532.00,184.40 532.40,184.30 532.80,184.40 533.20,184.69 533.60,185.17 534.00,185.82 534.40,186.61 534.80,187.53 535.20,188.53 535.60,189.60 536.00,190.71 536.40,191.82 536.80,192.92 537.20,193.97 537.60,194.97 538.00,195.89 538.40,196.74 538.80,197.49 539.20,198.16 539.60,198.74 540.00,199.24 540.40,199.66 540.80,200.01 541.20,200.30 541.60,200.53 542.00,200.71 542.40,200.86 542.80,200.97 543.20,201.06 543.60,201.13 544.00,201.18 544.40,201.21 544.80,201.24 545.20,201.26 545.60,201.27 546.00,201.28 546.40,201.29 546.80,201.29 547.20,201.29 547.60,201.30 548.00,201.30 548.40,201.30" fill="none" stroke="#1f5a96" stroke-width="2"/>
<polyline points="549.30,201.29 549.70,201.29 550.10,201.28 550.50,201.28 550.90,201.26 551.30,201.25 551.70,201.22 552.10,201.18 552.50,201.12 552.90,201.04 553.30,200.94 553.70,200.79 554.10,200.58 554.50,200.31 554.90,199.95 555.30,199.48 555.70,198.88 556.10,198.11 556.50,197.16 556.90,195.97 557.30,194.53 557.70,192.80 558.10,190.75 558.50,188.35 558.90,185.60 559.30,182.48 559.70,179.00 560.10,175.19 560.50,171.08 560.90,166.74 561.30,162.22 561.70,157.63 562.10,153.07 562.50,148.65 562.90,144.50 563.30,140.73 563.70,137.46 564.10,134.79 564.50,132.82 564.90,131.61 565.30,131.20 565.70,131.61 566.10,132.82 566.50,134.79 566.90,137.46 567.30,140.73 567.70,144.50 568.10,148.65 568.50,153.07 568.90,157.63 569.30,162.22 569.70,166.74 570.10,171.08 570.50,175.19 570.90,179.00 571.30,182.48 571.70,185.60 572.10,188.35 572.50,190.75 572.90,192.80 573.30,194.53 573.70,195.97 574.10,197.16 574.50,198.11 574.90,198.88 575.30,199.48 575.70,199.95 576.10,200.31 576.50,200.58 576.90,200.79 577.30,200.94 577.70,201.04 578.10,201.12 578.50,201.18 578.90,201.22 579.30,201.25 579.70,201.26 580.10,201.28 580.50,201.28 580.90,201.29 581.30,201.29" fill="none" stroke="#b0161e" stroke-width="2"/>
<polyline points="582.20,201.30 582.60,201.29 583.00,201.29 583.40,201.28 583.80,201.28 584.20,201.26 584.60,201.24 585.00,201.22 585.40,201.18 585.80,201.13 586.20,201.05 586.60,200.95 587.00,200.82 587.40,200.63 587.80,200.39 588.20,200.07 588.60,199.67 589.00,199.15 589.40,198.50 589.80,197.71 590.20,196.73 590.60,195.56 591.00,194.18 591.40,192.56 591.80,190.70 592.20,188.60 592.60,186.25 593.00,183.68 593.40,180.91 593.80,177.98 594.20,174.93 594.60,171.84 595.00,168.76 595.40,165.78 595.80,162.97 596.20,160.43 596.60,158.22 597.00,156.42 597.40,155.09 597.80,154.28 598.20,154.00 598.60,154.28 599.00,155.09 599.40,156.42 599.80,158.22 600.20,160.43 600.60,162.97 601.00,165.78 601.40,168.76 601.80,171.84 602.20,174.93 602.60,177.98 603.00,180.91 603.40,183.68 603.80,186.25 604.20,188.60 604.60,190.70 605.00,192.56 605.40,194.18 605.80,195.56 606.20,196.73 606.60,197.71 607.00,198.50 607.40,199.15 607.80,199.67 608.20,200.07 608.60,200.39 609.00,200.63 609.40,200.82 609.80,200.95 610.20,201.05 610.60,201.13 611.00,201.18 611.40,201.22 611.80,201.24 612.20,201.26 612.60,201.28 613.00,201.28 613.40,201.29 613.80,201.29 614.20,201.30" fill="none" stroke="#3a3a3a" stroke-width="2"/>
<path d="M514.4,127 L514.4,201.3 L620,201.3" fill="none" stroke="#000" stroke-width="2"/>
<text x="0" y="0" font-size="12.3" font-weight="bold" fill="#000" text-anchor="middle" transform="translate(508.9,166.15) rotate(-90)">Abundance</text>
<rect x="484" y="0" width="135" height="11.5" fill="#dde8f5"/>
<rect x="503" y="11.5" width="93" height="10" fill="#dde8f5"/>
<text x="550" y="9.8" font-size="11.8" font-weight="bold" fill="#c0141c" text-anchor="middle" >Conformational change</text>
<text x="549.8" y="19.6" font-size="11.8" font-weight="bold" fill="#c0141c" text-anchor="middle" >in virus receptor</text>
<line x1="550" y1="42.4" x2="550.00" y2="28.50" stroke="#000" stroke-width="2"/>
<polygon points="550.00,23.50 553.00,29.50 547.00,29.50" fill="#000"/>
<text x="566" y="218" font-size="12.7" font-weight="bold" fill="#000" text-anchor="middle" >Retention time</text>
<line x1="98.9" y1="147.2" x2="10.9" y2="223.2" stroke="#6a6a6a" stroke-width="1.7" stroke-dasharray="5.5,4"/>
<line x1="172.5" y1="167.5" x2="248.4" y2="236" stroke="#6a6a6a" stroke-width="1.7" stroke-dasharray="5.5,4"/>
<path d="M0,267.9 C110.5,281.2 119.6,299.9 126.8,378.5 L0,378.5 Z" fill="#deeff6"/>
<path d="M0,253.4 C133.9,266.5 130.4,311.2 140.2,378.5 L126.8,378.5 C119.6,299.9 110.5,281.2 0,267.9 Z" fill="#f2f2f2"/>
<path d="M0,253.4 C133.9,266.5 130.4,311.2 140.2,377.5" fill="none" stroke="#a6b7c8" stroke-width="3.5" stroke-linecap="round"/>
<path d="M0,267.9 C110.5,281.2 119.6,299.9 126.8,377.5" fill="none" stroke="#a6b7c8" stroke-width="3.5" stroke-linecap="round"/>
<text x="24.1" y="244.8" font-size="12.1" font-weight="bold" fill="#000" text-anchor="start" >Extracellular</text>
<text x="7" y="303.8" font-size="12.1" font-weight="bold" fill="#000" text-anchor="start" >Intracellular</text>
<text x="12.9" y="358.8" font-size="12" font-weight="bold" fill="#000" text-anchor="start" >Viral entry</text>
<line x1="106.8" y1="323.6" x2="66.95" y2="341.90" stroke="#000" stroke-width="1.9"/>
<polygon points="61.50,344.40 66.51,338.53 69.22,344.43" fill="#000"/>
<path d="M119.5,322.6 L134,316.2 M146.5,302.8 L137.5,306.2 Q130.5,309.5 133.5,316 Q136.8,322 144,319.5 L151.8,316.5" fill="none" stroke="#4a6ea8" stroke-width="6.4" stroke-linecap="butt" stroke-linejoin="round"/>
<path d="M119.5,322.6 L134,316.2 M146.5,302.8 L137.5,306.2 Q130.5,309.5 133.5,316 Q136.8,322 144,319.5 L151.8,316.5" fill="none" stroke="#6d8fd0" stroke-width="5.4" stroke-linecap="butt" stroke-linejoin="round"/>
<g transform="translate(196.00,239.84) rotate(0) scale(1.22)"><rect x="-1.1" y="2.2" width="2.2" height="7.5" fill="#eef2f5" stroke="#8e9eac" stroke-width="0.45"/><rect x="-1.6" y="1.8" width="3.2" height="1.4" fill="#3d5f8f"/><ellipse cx="0" cy="-1" rx="5" ry="4.1" fill="#e39a60" stroke="#a9683a" stroke-width="0.5"/><path d="M-1.9,-5.2 Q-2.9,-1.2 -1.9,2.9 M1.9,-5.2 Q2.9,-1.2 1.9,2.9" fill="none" stroke="#c07a45" stroke-width="0.5"/></g><g transform="translate(212.21,242.41) rotate(18) scale(1.22)"><rect x="-1.1" y="2.2" width="2.2" height="7.5" fill="#eef2f5" stroke="#8e9eac" stroke-width="0.45"/><rect x="-1" y="1.5" width="2" height="2" fill="#3d5f8f"/><circle cx="-2.2" cy="-2.4" r="2.3" fill="#76a0cd" stroke="#46709f" stroke-width="0.5"/><circle cx="2.2" cy="-2.4" r="2.3" fill="#76a0cd" stroke="#46709f" stroke-width="0.5"/><circle cx="-2.2" cy="1.4" r="2.3" fill="#76a0cd" stroke="#46709f" stroke-width="0.5"/><circle cx="2.2" cy="1.4" r="2.3" fill="#76a0cd" stroke="#46709f" stroke-width="0.5"/></g><g transform="translate(226.84,249.86) rotate(36) scale(1.22)"><rect x="-1.1" y="2.2" width="2.2" height="7.5" fill="#eef2f5" stroke="#8e9eac" stroke-width="0.45"/><rect x="-1.6" y="1.8" width="3.2" height="1.4" fill="#3d5f8f"/><ellipse cx="0" cy="-1" rx="5" ry="4.1" fill="#e39a60" stroke="#a9683a" stroke-width="0.5"/><path d="M-1.9,-5.2 Q-2.9,-1.2 -1.9,2.9 M1.9,-5.2 Q2.9,-1.2 1.9,2.9" fill="none" stroke="#c07a45" stroke-width="0.5"/></g><g transform="translate(238.44,261.46) rotate(54) scale(1.22)"><rect x="-1.1" y="2.2" width="2.2" height="7.5" fill="#eef2f5" stroke="#8e9eac" stroke-width="0.45"/><rect x="-1" y="1.5" width="2" height="2" fill="#3d5f8f"/><circle cx="-2.2" cy="-2.4" r="2.3" fill="#76a0cd" stroke="#46709f" stroke-width="0.5"/><circle cx="2.2" cy="-2.4" r="2.3" fill="#76a0cd" stroke="#46709f" stroke-width="0.5"/><circle cx="-2.2" cy="1.4" r="2.3" fill="#76a0cd" stroke="#46709f" stroke-width="0.5"/><circle cx="2.2" cy="1.4" r="2.3" fill="#76a0cd" stroke="#46709f" stroke-width="0.5"/></g><g transform="translate(245.89,276.09) rotate(72) scale(1.22)"><rect x="-1.1" y="2.2" width="2.2" height="7.5" fill="#eef2f5" stroke="#8e9eac" stroke-width="0.45"/><rect x="-1.6" y="1.8" width="3.2" height="1.4" fill="#3d5f8f"/><ellipse cx="0" cy="-1" rx="5" ry="4.1" fill="#e39a60" stroke="#a9683a" stroke-width="0.5"/><path d="M-1.9,-5.2 Q-2.9,-1.2 -1.9,2.9 M1.9,-5.2 Q2.9,-1.2 1.9,2.9" fill="none" stroke="#c07a45" stroke-width="0.5"/></g><g transform="translate(248.46,292.30) rotate(90) scale(1.22)"><rect x="-1.1" y="2.2" width="2.2" height="7.5" fill="#eef2f5" stroke="#8e9eac" stroke-width="0.45"/><rect x="-1" y="1.5" width="2" height="2" fill="#3d5f8f"/><circle cx="-2.2" cy="-2.4" r="2.3" fill="#76a0cd" stroke="#46709f" stroke-width="0.5"/><circle cx="2.2" cy="-2.4" r="2.3" fill="#76a0cd" stroke="#46709f" stroke-width="0.5"/><circle cx="-2.2" cy="1.4" r="2.3" fill="#76a0cd" stroke="#46709f" stroke-width="0.5"/><circle cx="2.2" cy="1.4" r="2.3" fill="#76a0cd" stroke="#46709f" stroke-width="0.5"/></g><g transform="translate(245.89,308.51) rotate(108) scale(1.22)"><rect x="-1.1" y="2.2" width="2.2" height="7.5" fill="#eef2f5" stroke="#8e9eac" stroke-width="0.45"/><rect x="-1.6" y="1.8" width="3.2" height="1.4" fill="#3d5f8f"/><ellipse cx="0" cy="-1" rx="5" ry="4.1" fill="#e39a60" stroke="#a9683a" stroke-width="0.5"/><path d="M-1.9,-5.2 Q-2.9,-1.2 -1.9,2.9 M1.9,-5.2 Q2.9,-1.2 1.9,2.9" fill="none" stroke="#c07a45" stroke-width="0.5"/></g><g transform="translate(238.44,323.14) rotate(126) scale(1.22)"><rect x="-1.1" y="2.2" width="2.2" height="7.5" fill="#eef2f5" stroke="#8e9eac" stroke-width="0.45"/><rect x="-1" y="1.5" width="2" height="2" fill="#3d5f8f"/><circle cx="-2.2" cy="-2.4" r="2.3" fill="#76a0cd" stroke="#46709f" stroke-width="0.5"/><circle cx="2.2" cy="-2.4" r="2.3" fill="#76a0cd" stroke="#46709f" stroke-width="0.5"/><circle cx="-2.2" cy="1.4" r="2.3" fill="#76a0cd" stroke="#46709f" stroke-width="0.5"/><circle cx="2.2" cy="1.4" r="2.3" fill="#76a0cd" stroke="#46709f" stroke-width="0.5"/></g><g transform="translate(226.84,334.74) rotate(144) scale(1.22)"><rect x="-1.1" y="2.2" width="2.2" height="7.5" fill="#eef2f5" stroke="#8e9eac" stroke-width="0.45"/><rect x="-1.6" y="1.8" width="3.2" height="1.4" fill="#3d5f8f"/><ellipse cx="0" cy="-1" rx="5" ry="4.1" fill="#e39a60" stroke="#a9683a" stroke-width="0.5"/><path d="M-1.9,-5.2 Q-2.9,-1.2 -1.9,2.9 M1.9,-5.2 Q2.9,-1.2 1.9,2.9" fill="none" stroke="#c07a45" stroke-width="0.5"/></g><g transform="translate(212.21,342.19) rotate(162) scale(1.22)"><rect x="-1.1" y="2.2" width="2.2" height="7.5" fill="#eef2f5" stroke="#8e9eac" stroke-width="0.45"/><rect x="-1" y="1.5" width="2" height="2" fill="#3d5f8f"/><circle cx="-2.2" cy="-2.4" r="2.3" fill="#76a0cd" stroke="#46709f" stroke-width="0.5"/><circle cx="2.2" cy="-2.4" r="2.3" fill="#76a0cd" stroke="#46709f" stroke-width="0.5"/><circle cx="-2.2" cy="1.4" r="2.3" fill="#76a0cd" stroke="#46709f" stroke-width="0.5"/><circle cx="2.2" cy="1.4" r="2.3" fill="#76a0cd" stroke="#46709f" stroke-width="0.5"/></g><g transform="translate(196.00,344.76) rotate(180) scale(1.22)"><rect x="-1.1" y="2.2" width="2.2" height="7.5" fill="#eef2f5" stroke="#8e9eac" stroke-width="0.45"/><rect x="-1.6" y="1.8" width="3.2" height="1.4" fill="#3d5f8f"/><ellipse cx="0" cy="-1" rx="5" ry="4.1" fill="#e39a60" stroke="#a9683a" stroke-width="0.5"/><path d="M-1.9,-5.2 Q-2.9,-1.2 -1.9,2.9 M1.9,-5.2 Q2.9,-1.2 1.9,2.9" fill="none" stroke="#c07a45" stroke-width="0.5"/></g><g transform="translate(179.79,342.19) rotate(198) scale(1.22)"><rect x="-1.1" y="2.2" width="2.2" height="7.5" fill="#eef2f5" stroke="#8e9eac" stroke-width="0.45"/><rect x="-1" y="1.5" width="2" height="2" fill="#3d5f8f"/><circle cx="-2.2" cy="-2.4" r="2.3" fill="#76a0cd" stroke="#46709f" stroke-width="0.5"/><circle cx="2.2" cy="-2.4" r="2.3" fill="#76a0cd" stroke="#46709f" stroke-width="0.5"/><circle cx="-2.2" cy="1.4" r="2.3" fill="#76a0cd" stroke="#46709f" stroke-width="0.5"/><circle cx="2.2" cy="1.4" r="2.3" fill="#76a0cd" stroke="#46709f" stroke-width="0.5"/></g><g transform="translate(165.16,334.74) rotate(216) scale(1.22)"><rect x="-1.1" y="2.2" width="2.2" height="7.5" fill="#eef2f5" stroke="#8e9eac" stroke-width="0.45"/><rect x="-1.6" y="1.8" width="3.2" height="1.4" fill="#3d5f8f"/><ellipse cx="0" cy="-1" rx="5" ry="4.1" fill="#e39a60" stroke="#a9683a" stroke-width="0.5"/><path d="M-1.9,-5.2 Q-2.9,-1.2 -1.9,2.9 M1.9,-5.2 Q2.9,-1.2 1.9,2.9" fill="none" stroke="#c07a45" stroke-width="0.5"/></g><g transform="translate(153.56,323.14) rotate(234) scale(1.22)"><rect x="-1.1" y="2.2" width="2.2" height="7.5" fill="#eef2f5" stroke="#8e9eac" stroke-width="0.45"/><rect x="-1" y="1.5" width="2" height="2" fill="#3d5f8f"/><circle cx="-2.2" cy="-2.4" r="2.3" fill="#76a0cd" stroke="#46709f" stroke-width="0.5"/><circle cx="2.2" cy="-2.4" r="2.3" fill="#76a0cd" stroke="#46709f" stroke-width="0.5"/><circle cx="-2.2" cy="1.4" r="2.3" fill="#76a0cd" stroke="#46709f" stroke-width="0.5"/><circle cx="2.2" cy="1.4" r="2.3" fill="#76a0cd" stroke="#46709f" stroke-width="0.5"/></g><g transform="translate(146.11,308.51) rotate(252) scale(1.22)"><rect x="-1.1" y="2.2" width="2.2" height="7.5" fill="#eef2f5" stroke="#8e9eac" stroke-width="0.45"/><rect x="-1.6" y="1.8" width="3.2" height="1.4" fill="#3d5f8f"/><ellipse cx="0" cy="-1" rx="5" ry="4.1" fill="#e39a60" stroke="#a9683a" stroke-width="0.5"/><path d="M-1.9,-5.2 Q-2.9,-1.2 -1.9,2.9 M1.9,-5.2 Q2.9,-1.2 1.9,2.9" fill="none" stroke="#c07a45" stroke-width="0.5"/></g><g transform="translate(143.54,292.30) rotate(270) scale(1.22)"><rect x="-1.1" y="2.2" width="2.2" height="7.5" fill="#eef2f5" stroke="#8e9eac" stroke-width="0.45"/><rect x="-1" y="1.5" width="2" height="2" fill="#3d5f8f"/><circle cx="-2.2" cy="-2.4" r="2.3" fill="#76a0cd" stroke="#46709f" stroke-width="0.5"/><circle cx="2.2" cy="-2.4" r="2.3" fill="#76a0cd" stroke="#46709f" stroke-width="0.5"/><circle cx="-2.2" cy="1.4" r="2.3" fill="#76a0cd" stroke="#46709f" stroke-width="0.5"/><circle cx="2.2" cy="1.4" r="2.3" fill="#76a0cd" stroke="#46709f" stroke-width="0.5"/></g><g transform="translate(146.11,276.09) rotate(288) scale(1.22)"><rect x="-1.1" y="2.2" width="2.2" height="7.5" fill="#eef2f5" stroke="#8e9eac" stroke-width="0.45"/><rect x="-1.6" y="1.8" width="3.2" height="1.4" fill="#3d5f8f"/><ellipse cx="0" cy="-1" rx="5" ry="4.1" fill="#e39a60" stroke="#a9683a" stroke-width="0.5"/><path d="M-1.9,-5.2 Q-2.9,-1.2 -1.9,2.9 M1.9,-5.2 Q2.9,-1.2 1.9,2.9" fill="none" stroke="#c07a45" stroke-width="0.5"/></g><g transform="translate(153.56,261.46) rotate(306) scale(1.22)"><rect x="-1.1" y="2.2" width="2.2" height="7.5" fill="#eef2f5" stroke="#8e9eac" stroke-width="0.45"/><rect x="-1" y="1.5" width="2" height="2" fill="#3d5f8f"/><circle cx="-2.2" cy="-2.4" r="2.3" fill="#76a0cd" stroke="#46709f" stroke-width="0.5"/><circle cx="2.2" cy="-2.4" r="2.3" fill="#76a0cd" stroke="#46709f" stroke-width="0.5"/><circle cx="-2.2" cy="1.4" r="2.3" fill="#76a0cd" stroke="#46709f" stroke-width="0.5"/><circle cx="2.2" cy="1.4" r="2.3" fill="#76a0cd" stroke="#46709f" stroke-width="0.5"/></g><g transform="translate(165.16,249.86) rotate(324) scale(1.22)"><rect x="-1.1" y="2.2" width="2.2" height="7.5" fill="#eef2f5" stroke="#8e9eac" stroke-width="0.45"/><rect x="-1.6" y="1.8" width="3.2" height="1.4" fill="#3d5f8f"/><ellipse cx="0" cy="-1" rx="5" ry="4.1" fill="#e39a60" stroke="#a9683a" stroke-width="0.5"/><path d="M-1.9,-5.2 Q-2.9,-1.2 -1.9,2.9 M1.9,-5.2 Q2.9,-1.2 1.9,2.9" fill="none" stroke="#c07a45" stroke-width="0.5"/></g><g transform="translate(179.79,242.41) rotate(342) scale(1.22)"><rect x="-1.1" y="2.2" width="2.2" height="7.5" fill="#eef2f5" stroke="#8e9eac" stroke-width="0.45"/><rect x="-1" y="1.5" width="2" height="2" fill="#3d5f8f"/><circle cx="-2.2" cy="-2.4" r="2.3" fill="#76a0cd" stroke="#46709f" stroke-width="0.5"/><circle cx="2.2" cy="-2.4" r="2.3" fill="#76a0cd" stroke="#46709f" stroke-width="0.5"/><circle cx="-2.2" cy="1.4" r="2.3" fill="#76a0cd" stroke="#46709f" stroke-width="0.5"/><circle cx="2.2" cy="1.4" r="2.3" fill="#76a0cd" stroke="#46709f" stroke-width="0.5"/></g>
<circle cx="196" cy="292.3" r="40.87" fill="url(#vir)"/>
<circle cx="196" cy="292.3" r="42.46" fill="none" stroke="#46709c" stroke-width="4.15"/>
<circle cx="196" cy="292.3" r="42.46" fill="none" stroke="#6e9bcb" stroke-width="3.05"/>
<g transform="translate(196.00,249.84) rotate(0) scale(1.22)"><rect x="-0.9" y="-2" width="1.8" height="4.5" fill="#eef2f5" stroke="#8e9eac" stroke-width="0.4"/></g><g transform="translate(209.12,251.92) rotate(18) scale(1.22)"><rect x="-0.9" y="-2" width="1.8" height="4.5" fill="#eef2f5" stroke="#8e9eac" stroke-width="0.4"/></g><g transform="translate(220.96,257.95) rotate(36) scale(1.22)"><rect x="-0.9" y="-2" width="1.8" height="4.5" fill="#eef2f5" stroke="#8e9eac" stroke-width="0.4"/></g><g transform="translate(230.35,267.34) rotate(54) scale(1.22)"><rect x="-0.9" y="-2" width="1.8" height="4.5" fill="#eef2f5" stroke="#8e9eac" stroke-width="0.4"/></g><g transform="translate(236.38,279.18) rotate(72) scale(1.22)"><rect x="-0.9" y="-2" width="1.8" height="4.5" fill="#eef2f5" stroke="#8e9eac" stroke-width="0.4"/></g><g transform="translate(238.46,292.30) rotate(90) scale(1.22)"><rect x="-0.9" y="-2" width="1.8" height="4.5" fill="#eef2f5" stroke="#8e9eac" stroke-width="0.4"/></g><g transform="translate(236.38,305.42) rotate(108) scale(1.22)"><rect x="-0.9" y="-2" width="1.8" height="4.5" fill="#eef2f5" stroke="#8e9eac" stroke-width="0.4"/></g><g transform="translate(230.35,317.26) rotate(126) scale(1.22)"><rect x="-0.9" y="-2" width="1.8" height="4.5" fill="#eef2f5" stroke="#8e9eac" stroke-width="0.4"/></g><g transform="translate(220.96,326.65) rotate(144) scale(1.22)"><rect x="-0.9" y="-2" width="1.8" height="4.5" fill="#eef2f5" stroke="#8e9eac" stroke-width="0.4"/></g><g transform="translate(209.12,332.68) rotate(162) scale(1.22)"><rect x="-0.9" y="-2" width="1.8" height="4.5" fill="#eef2f5" stroke="#8e9eac" stroke-width="0.4"/></g><g transform="translate(196.00,334.76) rotate(180) scale(1.22)"><rect x="-0.9" y="-2" width="1.8" height="4.5" fill="#eef2f5" stroke="#8e9eac" stroke-width="0.4"/></g><g transform="translate(182.88,332.68) rotate(198) scale(1.22)"><rect x="-0.9" y="-2" width="1.8" height="4.5" fill="#eef2f5" stroke="#8e9eac" stroke-width="0.4"/></g><g transform="translate(171.04,326.65) rotate(216) scale(1.22)"><rect x="-0.9" y="-2" width="1.8" height="4.5" fill="#eef2f5" stroke="#8e9eac" stroke-width="0.4"/></g><g transform="translate(161.65,317.26) rotate(234) scale(1.22)"><rect x="-0.9" y="-2" width="1.8" height="4.5" fill="#eef2f5" stroke="#8e9eac" stroke-width="0.4"/></g><g transform="translate(155.62,305.42) rotate(252) scale(1.22)"><rect x="-0.9" y="-2" width="1.8" height="4.5" fill="#eef2f5" stroke="#8e9eac" stroke-width="0.4"/></g><g transform="translate(153.54,292.30) rotate(270) scale(1.22)"><rect x="-0.9" y="-2" width="1.8" height="4.5" fill="#eef2f5" stroke="#8e9eac" stroke-width="0.4"/></g><g transform="translate(155.62,279.18) rotate(288) scale(1.22)"><rect x="-0.9" y="-2" width="1.8" height="4.5" fill="#eef2f5" stroke="#8e9eac" stroke-width="0.4"/></g><g transform="translate(161.65,267.34) rotate(306) scale(1.22)"><rect x="-0.9" y="-2" width="1.8" height="4.5" fill="#eef2f5" stroke="#8e9eac" stroke-width="0.4"/></g><g transform="translate(171.04,257.95) rotate(324) scale(1.22)"><rect x="-0.9" y="-2" width="1.8" height="4.5" fill="#eef2f5" stroke="#8e9eac" stroke-width="0.4"/></g><g transform="translate(182.88,251.92) rotate(342) scale(1.22)"><rect x="-0.9" y="-2" width="1.8" height="4.5" fill="#eef2f5" stroke="#8e9eac" stroke-width="0.4"/></g>
<polyline transform="translate(172.19,277.60) scale(1.28) rotate(-16.3)" points="0.00,-0.00 0.48,-0.53 0.95,-0.99 1.43,-1.35 1.90,-1.56 2.38,-1.59 2.85,-1.45 3.33,-1.14 3.81,-0.71 4.28,-0.20 4.76,0.33 5.23,0.83 5.71,1.23 6.18,1.50 6.66,1.60 7.14,1.52 7.61,1.27 8.09,0.89 8.56,0.40 9.04,-0.13 9.51,-0.65 9.99,-1.10 10.47,-1.42 10.94,-1.58 11.42,-1.57 11.89,-1.39 12.37,-1.05 12.84,-0.59 13.32,-0.07 13.80,0.46 14.27,0.94 14.75,1.31 15.22,1.54 15.70,1.60 16.17,1.47 16.65,1.19 17.13,0.77 17.60,0.27 18.08,-0.27 18.55,-0.77 19.03,-1.19 19.51,-1.47 19.98,-1.60 20.46,-1.54 20.93,-1.31 21.41,-0.94 21.88,-0.46 22.36,0.07 22.84,0.59 23.31,1.05 23.79,1.39 24.26,1.57 24.74,1.58 25.21,1.42 25.69,1.10 26.17,0.65 26.64,0.13 27.12,-0.40 27.59,-0.89 28.07,-1.27 28.54,-1.52" fill="none" stroke="#26314f" stroke-width="0.9"/>
<polyline transform="translate(168.74,293.47) scale(1.28) rotate(-14.5)" points="0.00,-0.00 0.53,-0.53 1.07,-0.99 1.60,-1.35 2.13,-1.56 2.67,-1.59 3.20,-1.45 3.74,-1.14 4.27,-0.71 4.80,-0.20 5.34,0.33 5.87,0.83 6.40,1.23 6.94,1.50 7.47,1.60 8.00,1.52 8.54,1.27 9.07,0.89 9.60,0.40 10.14,-0.13 10.67,-0.65 11.21,-1.10 11.74,-1.42 12.27,-1.58 12.81,-1.57 13.34,-1.39 13.87,-1.05 14.41,-0.59 14.94,-0.07 15.47,0.46 16.01,0.94 16.54,1.31 17.07,1.54 17.61,1.60 18.14,1.47 18.68,1.19 19.21,0.77 19.74,0.27 20.28,-0.27 20.81,-0.77 21.34,-1.19 21.88,-1.47 22.41,-1.60 22.94,-1.54 23.48,-1.31 24.01,-0.94 24.55,-0.46 25.08,0.07 25.61,0.59 26.15,1.05 26.68,1.39 27.21,1.57 27.75,1.58 28.28,1.42 28.81,1.10 29.35,0.65 29.88,0.13 30.41,-0.40 30.95,-0.89 31.48,-1.27 32.02,-1.52" fill="none" stroke="#26314f" stroke-width="0.9"/>
<polyline transform="translate(178.98,298.08) scale(1.28) rotate(-10.1)" points="0.00,-0.00 0.60,-0.53 1.20,-0.99 1.79,-1.35 2.39,-1.56 2.99,-1.59 3.59,-1.45 4.18,-1.14 4.78,-0.71 5.38,-0.20 5.98,0.33 6.57,0.83 7.17,1.23 7.77,1.50 8.37,1.60 8.96,1.52 9.56,1.27 10.16,0.89 10.76,0.40 11.35,-0.13 11.95,-0.65 12.55,-1.10 13.15,-1.42 13.75,-1.58 14.34,-1.57 14.94,-1.39 15.54,-1.05 16.14,-0.59 16.73,-0.07 17.33,0.46 17.93,0.94 18.53,1.31 19.12,1.54 19.72,1.60 20.32,1.47 20.92,1.19 21.51,0.77 22.11,0.27 22.71,-0.27 23.31,-0.77 23.91,-1.19 24.50,-1.47 25.10,-1.60 25.70,-1.54 26.30,-1.31 26.89,-0.94 27.49,-0.46 28.09,0.07 28.69,0.59 29.28,1.05 29.88,1.39 30.48,1.57 31.08,1.58 31.67,1.42 32.27,1.10 32.87,0.65 33.47,0.13 34.06,-0.40 34.66,-0.89 35.26,-1.27 35.86,-1.52" fill="none" stroke="#26314f" stroke-width="0.9"/>
<polyline transform="translate(173.34,311.52) scale(1.28) rotate(-11.8)" points="0.00,-0.00 0.50,-0.53 0.99,-0.99 1.49,-1.35 1.98,-1.56 2.48,-1.59 2.97,-1.45 3.47,-1.14 3.96,-0.71 4.46,-0.20 4.96,0.33 5.45,0.83 5.95,1.23 6.44,1.50 6.94,1.60 7.43,1.52 7.93,1.27 8.42,0.89 8.92,0.40 9.42,-0.13 9.91,-0.65 10.41,-1.10 10.90,-1.42 11.40,-1.58 11.89,-1.57 12.39,-1.39 12.88,-1.05 13.38,-0.59 13.88,-0.07 14.37,0.46 14.87,0.94 15.36,1.31 15.86,1.54 16.35,1.60 16.85,1.47 17.34,1.19 17.84,0.77 18.34,0.27 18.83,-0.27 19.33,-0.77 19.82,-1.19 20.32,-1.47 20.81,-1.60 21.31,-1.54 21.80,-1.31 22.30,-0.94 22.79,-0.46 23.29,0.07 23.79,0.59 24.28,1.05 24.78,1.39 25.27,1.57 25.77,1.58 26.26,1.42 26.76,1.10 27.25,0.65 27.75,0.13 28.25,-0.40 28.74,-0.89 29.24,-1.27 29.73,-1.52" fill="none" stroke="#26314f" stroke-width="0.9"/>
<polyline transform="translate(184.48,321.76) scale(1.28) rotate(-12.7)" points="0.00,-0.00 0.47,-0.53 0.94,-0.99 1.41,-1.35 1.88,-1.56 2.35,-1.59 2.82,-1.45 3.29,-1.14 3.76,-0.71 4.23,-0.20 4.70,0.33 5.17,0.83 5.64,1.23 6.11,1.50 6.58,1.60 7.05,1.52 7.52,1.27 7.99,0.89 8.46,0.40 8.93,-0.13 9.40,-0.65 9.87,-1.10 10.34,-1.42 10.81,-1.58 11.28,-1.57 11.75,-1.39 12.22,-1.05 12.69,-0.59 13.16,-0.07 13.63,0.46 14.10,0.94 14.56,1.31 15.03,1.54 15.50,1.60 15.97,1.47 16.44,1.19 16.91,0.77 17.38,0.27 17.85,-0.27 18.32,-0.77 18.79,-1.19 19.26,-1.47 19.73,-1.60 20.20,-1.54 20.67,-1.31 21.14,-0.94 21.61,-0.46 22.08,0.07 22.55,0.59 23.02,1.05 23.49,1.39 23.96,1.57 24.43,1.58 24.90,1.42 25.37,1.10 25.84,0.65 26.31,0.13 26.78,-0.40 27.25,-0.89 27.72,-1.27 28.19,-1.52" fill="none" stroke="#26314f" stroke-width="0.9"/>
<text x="157.2" y="367.8" font-size="12.3" font-weight="bold" fill="#c0141c" text-anchor="start" >Virus receptor</text>
<rect x="268.2" y="264.3" width="351.59999999999997" height="38.19999999999999" fill="#dae3f3"/>
<rect x="268.2" y="341.3" width="351.59999999999997" height="38.099999999999966" fill="#dae3f3"/>
<rect x="268.2" y="225.5" width="351.59999999999997" height="153.89999999999998" fill="none" stroke="#4f7fc8" stroke-width="1.6"/>
<line x1="268.2" y1="264.3" x2="619.8" y2="264.3" stroke="#4f7fc8" stroke-width="1.6"/>
<line x1="268.2" y1="302.5" x2="619.8" y2="302.5" stroke="#4f7fc8" stroke-width="1.6"/>
<line x1="268.2" y1="341.3" x2="619.8" y2="341.3" stroke="#4f7fc8" stroke-width="1.6"/>
<line x1="444.3" y1="225.5" x2="444.3" y2="379.4" stroke="#4f7fc8" stroke-width="1.6"/>
<text x="356.2" y="242.9" font-size="10.4" font-weight="bold" fill="#000" text-anchor="middle" >Key Challenges</text>
<text x="356.2" y="254.5" font-size="10.4" font-weight="bold" fill="#000" text-anchor="middle" >in Virus Receptor Discovery</text>
<text x="531.9" y="248.4" font-size="10.4" font-weight="bold" fill="#000" text-anchor="middle" >Advantages of LiFT</text>
<text x="356.2" y="287.2" font-size="10.4" font-weight="bold" fill="#000" text-anchor="middle" >Complex interaction dynamics</text>
<text x="531.9" y="287.2" font-size="10.4" font-weight="bold" fill="#000" text-anchor="middle" >Conformational sensitivity</text>
<text x="356.2" y="325.2" font-size="10.4" font-weight="bold" fill="#000" text-anchor="middle" >Low-abundance receptors</text>
<text x="531.9" y="325.2" font-size="10.4" font-weight="bold" fill="#000" text-anchor="middle" >Cell Surface-specific labeling</text>
<text x="356.2" y="364.1" font-size="10.4" font-weight="bold" fill="#000" text-anchor="middle" >In vitro-in vivo disparities</text>
<text x="531.9" y="364.1" font-size="10.4" font-weight="bold" fill="#000" text-anchor="middle" >Living cell labeling</text>
<text x="12.1" y="410.6" font-size="20" font-weight="bold" fill="#000" text-anchor="start" >b</text>
<path d="M145.4,607.8l2.0,2.0l-2.0,2.0l-2.0,-2.0zM152.7,606.8l2.0,2.0l-2.0,2.0l-2.0,-2.0zM151.8,603.6l2.0,2.0l-2.0,2.0l-2.0,-2.0zM153.0,603.3l2.0,2.0l-2.0,2.0l-2.0,-2.0zM148.6,594.0l2.0,2.0l-2.0,2.0l-2.0,-2.0zM165.6,618.4l2.0,2.0l-2.0,2.0l-2.0,-2.0zM180.2,631.2l2.0,2.0l-2.0,2.0l-2.0,-2.0zM175.7,633.4l2.0,2.0l-2.0,2.0l-2.0,-2.0zM146.0,595.2l2.0,2.0l-2.0,2.0l-2.0,-2.0zM180.0,627.6l2.0,2.0l-2.0,2.0l-2.0,-2.0zM179.9,632.7l2.0,2.0l-2.0,2.0l-2.0,-2.0zM173.8,625.7l2.0,2.0l-2.0,2.0l-2.0,-2.0zM159.9,607.0l2.0,2.0l-2.0,2.0l-2.0,-2.0zM164.0,608.7l2.0,2.0l-2.0,2.0l-2.0,-2.0zM138.5,593.2l2.0,2.0l-2.0,2.0l-2.0,-2.0zM152.1,604.3l2.0,2.0l-2.0,2.0l-2.0,-2.0zM164.6,620.1l2.0,2.0l-2.0,2.0l-2.0,-2.0zM145.4,562.3l2.0,2.0l-2.0,2.0l-2.0,-2.0zM141.9,587.6l2.0,2.0l-2.0,2.0l-2.0,-2.0zM167.6,617.6l2.0,2.0l-2.0,2.0l-2.0,-2.0zM181.7,632.2l2.0,2.0l-2.0,2.0l-2.0,-2.0zM123.0,582.7l2.0,2.0l-2.0,2.0l-2.0,-2.0zM169.6,612.7l2.0,2.0l-2.0,2.0l-2.0,-2.0zM124.7,565.9l2.0,2.0l-2.0,2.0l-2.0,-2.0zM172.6,624.5l2.0,2.0l-2.0,2.0l-2.0,-2.0zM165.5,611.9l2.0,2.0l-2.0,2.0l-2.0,-2.0zM175.1,632.0l2.0,2.0l-2.0,2.0l-2.0,-2.0zM163.6,620.7l2.0,2.0l-2.0,2.0l-2.0,-2.0zM174.1,631.4l2.0,2.0l-2.0,2.0l-2.0,-2.0zM160.6,583.4l2.0,2.0l-2.0,2.0l-2.0,-2.0zM177.1,629.8l2.0,2.0l-2.0,2.0l-2.0,-2.0zM180.9,632.6l2.0,2.0l-2.0,2.0l-2.0,-2.0zM141.8,580.1l2.0,2.0l-2.0,2.0l-2.0,-2.0zM166.7,608.2l2.0,2.0l-2.0,2.0l-2.0,-2.0zM173.5,625.6l2.0,2.0l-2.0,2.0l-2.0,-2.0zM142.3,592.9l2.0,2.0l-2.0,2.0l-2.0,-2.0zM175.0,629.9l2.0,2.0l-2.0,2.0l-2.0,-2.0zM171.2,620.7l2.0,2.0l-2.0,2.0l-2.0,-2.0zM126.9,564.8l2.0,2.0l-2.0,2.0l-2.0,-2.0zM120.9,572.4l2.0,2.0l-2.0,2.0l-2.0,-2.0zM166.1,624.4l2.0,2.0l-2.0,2.0l-2.0,-2.0zM157.0,593.1l2.0,2.0l-2.0,2.0l-2.0,-2.0zM180.2,630.7l2.0,2.0l-2.0,2.0l-2.0,-2.0zM170.0,621.4l2.0,2.0l-2.0,2.0l-2.0,-2.0zM133.9,582.2l2.0,2.0l-2.0,2.0l-2.0,-2.0zM181.4,632.0l2.0,2.0l-2.0,2.0l-2.0,-2.0zM176.1,631.2l2.0,2.0l-2.0,2.0l-2.0,-2.0zM146.6,596.3l2.0,2.0l-2.0,2.0l-2.0,-2.0zM150.1,613.7l2.0,2.0l-2.0,2.0l-2.0,-2.0zM162.0,605.5l2.0,2.0l-2.0,2.0l-2.0,-2.0zM154.6,598.4l2.0,2.0l-2.0,2.0l-2.0,-2.0zM173.7,627.8l2.0,2.0l-2.0,2.0l-2.0,-2.0zM131.7,570.4l2.0,2.0l-2.0,2.0l-2.0,-2.0zM170.9,625.7l2.0,2.0l-2.0,2.0l-2.0,-2.0zM146.0,585.0l2.0,2.0l-2.0,2.0l-2.0,-2.0zM122.2,566.6l2.0,2.0l-2.0,2.0l-2.0,-2.0zM120.8,572.7l2.0,2.0l-2.0,2.0l-2.0,-2.0zM175.5,630.5l2.0,2.0l-2.0,2.0l-2.0,-2.0zM182.4,633.6l2.0,2.0l-2.0,2.0l-2.0,-2.0zM141.0,587.9l2.0,2.0l-2.0,2.0l-2.0,-2.0zM173.1,621.5l2.0,2.0l-2.0,2.0l-2.0,-2.0zM162.3,619.1l2.0,2.0l-2.0,2.0l-2.0,-2.0zM174.2,626.5l2.0,2.0l-2.0,2.0l-2.0,-2.0zM170.2,623.3l2.0,2.0l-2.0,2.0l-2.0,-2.0zM158.5,599.6l2.0,2.0l-2.0,2.0l-2.0,-2.0zM163.7,620.0l2.0,2.0l-2.0,2.0l-2.0,-2.0zM128.1,569.6l2.0,2.0l-2.0,2.0l-2.0,-2.0zM170.5,620.7l2.0,2.0l-2.0,2.0l-2.0,-2.0zM163.1,608.3l2.0,2.0l-2.0,2.0l-2.0,-2.0zM165.3,613.9l2.0,2.0l-2.0,2.0l-2.0,-2.0zM156.4,598.6l2.0,2.0l-2.0,2.0l-2.0,-2.0zM137.2,571.9l2.0,2.0l-2.0,2.0l-2.0,-2.0zM112.4,563.9l2.0,2.0l-2.0,2.0l-2.0,-2.0zM140.7,597.7l2.0,2.0l-2.0,2.0l-2.0,-2.0zM176.8,628.6l2.0,2.0l-2.0,2.0l-2.0,-2.0zM128.5,570.2l2.0,2.0l-2.0,2.0l-2.0,-2.0zM144.7,588.2l2.0,2.0l-2.0,2.0l-2.0,-2.0zM146.8,593.5l2.0,2.0l-2.0,2.0l-2.0,-2.0zM156.5,605.6l2.0,2.0l-2.0,2.0l-2.0,-2.0zM173.7,631.9l2.0,2.0l-2.0,2.0l-2.0,-2.0zM123.5,571.1l2.0,2.0l-2.0,2.0l-2.0,-2.0zM135.5,585.2l2.0,2.0l-2.0,2.0l-2.0,-2.0zM108.1,569.8l2.0,2.0l-2.0,2.0l-2.0,-2.0zM160.3,615.1l2.0,2.0l-2.0,2.0l-2.0,-2.0zM109.2,573.6l2.0,2.0l-2.0,2.0l-2.0,-2.0zM164.2,610.4l2.0,2.0l-2.0,2.0l-2.0,-2.0zM136.6,598.6l2.0,2.0l-2.0,2.0l-2.0,-2.0zM139.9,594.4l2.0,2.0l-2.0,2.0l-2.0,-2.0zM156.2,595.7l2.0,2.0l-2.0,2.0l-2.0,-2.0zM172.0,631.7l2.0,2.0l-2.0,2.0l-2.0,-2.0zM103.3,572.9l2.0,2.0l-2.0,2.0l-2.0,-2.0zM129.3,585.9l2.0,2.0l-2.0,2.0l-2.0,-2.0zM159.0,597.9l2.0,2.0l-2.0,2.0l-2.0,-2.0zM161.2,608.7l2.0,2.0l-2.0,2.0l-2.0,-2.0zM136.0,584.1l2.0,2.0l-2.0,2.0l-2.0,-2.0zM177.7,633.9l2.0,2.0l-2.0,2.0l-2.0,-2.0zM168.7,623.2l2.0,2.0l-2.0,2.0l-2.0,-2.0zM130.6,588.4l2.0,2.0l-2.0,2.0l-2.0,-2.0zM127.5,569.3l2.0,2.0l-2.0,2.0l-2.0,-2.0zM174.3,621.6l2.0,2.0l-2.0,2.0l-2.0,-2.0zM144.9,590.1l2.0,2.0l-2.0,2.0l-2.0,-2.0zM177.5,624.9l2.0,2.0l-2.0,2.0l-2.0,-2.0zM162.0,591.6l2.0,2.0l-2.0,2.0l-2.0,-2.0zM164.1,608.6l2.0,2.0l-2.0,2.0l-2.0,-2.0zM140.4,591.1l2.0,2.0l-2.0,2.0l-2.0,-2.0zM166.5,625.2l2.0,2.0l-2.0,2.0l-2.0,-2.0zM136.4,569.8l2.0,2.0l-2.0,2.0l-2.0,-2.0zM119.2,572.8l2.0,2.0l-2.0,2.0l-2.0,-2.0zM171.6,617.6l2.0,2.0l-2.0,2.0l-2.0,-2.0zM169.3,628.8l2.0,2.0l-2.0,2.0l-2.0,-2.0zM132.9,575.6l2.0,2.0l-2.0,2.0l-2.0,-2.0zM149.1,587.3l2.0,2.0l-2.0,2.0l-2.0,-2.0zM173.8,626.9l2.0,2.0l-2.0,2.0l-2.0,-2.0zM158.4,608.0l2.0,2.0l-2.0,2.0l-2.0,-2.0zM165.5,610.7l2.0,2.0l-2.0,2.0l-2.0,-2.0zM140.8,594.4l2.0,2.0l-2.0,2.0l-2.0,-2.0zM133.5,576.4l2.0,2.0l-2.0,2.0l-2.0,-2.0zM180.8,633.8l2.0,2.0l-2.0,2.0l-2.0,-2.0zM147.4,573.5l2.0,2.0l-2.0,2.0l-2.0,-2.0zM154.6,598.8l2.0,2.0l-2.0,2.0l-2.0,-2.0zM167.7,618.1l2.0,2.0l-2.0,2.0l-2.0,-2.0zM175.6,628.8l2.0,2.0l-2.0,2.0l-2.0,-2.0zM170.9,607.7l2.0,2.0l-2.0,2.0l-2.0,-2.0zM172.6,622.8l2.0,2.0l-2.0,2.0l-2.0,-2.0zM181.1,628.5l2.0,2.0l-2.0,2.0l-2.0,-2.0zM162.0,608.3l2.0,2.0l-2.0,2.0l-2.0,-2.0zM139.2,594.0l2.0,2.0l-2.0,2.0l-2.0,-2.0zM106.4,565.9l2.0,2.0l-2.0,2.0l-2.0,-2.0zM147.1,589.6l2.0,2.0l-2.0,2.0l-2.0,-2.0zM178.6,626.4l2.0,2.0l-2.0,2.0l-2.0,-2.0zM176.5,634.2l2.0,2.0l-2.0,2.0l-2.0,-2.0zM175.4,626.3l2.0,2.0l-2.0,2.0l-2.0,-2.0zM165.3,620.5l2.0,2.0l-2.0,2.0l-2.0,-2.0zM163.9,602.7l2.0,2.0l-2.0,2.0l-2.0,-2.0zM149.0,595.3l2.0,2.0l-2.0,2.0l-2.0,-2.0zM126.4,580.5l2.0,2.0l-2.0,2.0l-2.0,-2.0zM150.8,570.5l2.0,2.0l-2.0,2.0l-2.0,-2.0zM152.6,586.4l2.0,2.0l-2.0,2.0l-2.0,-2.0zM171.7,629.1l2.0,2.0l-2.0,2.0l-2.0,-2.0zM132.6,570.2l2.0,2.0l-2.0,2.0l-2.0,-2.0zM152.9,613.3l2.0,2.0l-2.0,2.0l-2.0,-2.0zM127.4,580.1l2.0,2.0l-2.0,2.0l-2.0,-2.0zM108.8,567.2l2.0,2.0l-2.0,2.0l-2.0,-2.0zM174.4,624.8l2.0,2.0l-2.0,2.0l-2.0,-2.0zM146.9,586.4l2.0,2.0l-2.0,2.0l-2.0,-2.0zM129.7,586.8l2.0,2.0l-2.0,2.0l-2.0,-2.0zM182.3,624.3l2.0,2.0l-2.0,2.0l-2.0,-2.0zM102.9,564.2l2.0,2.0l-2.0,2.0l-2.0,-2.0zM155.3,601.4l2.0,2.0l-2.0,2.0l-2.0,-2.0zM118.3,570.2l2.0,2.0l-2.0,2.0l-2.0,-2.0zM129.3,575.0l2.0,2.0l-2.0,2.0l-2.0,-2.0zM161.9,608.7l2.0,2.0l-2.0,2.0l-2.0,-2.0zM153.8,600.4l2.0,2.0l-2.0,2.0l-2.0,-2.0zM177.1,634.0l2.0,2.0l-2.0,2.0l-2.0,-2.0zM152.2,579.0l2.0,2.0l-2.0,2.0l-2.0,-2.0zM177.4,626.7l2.0,2.0l-2.0,2.0l-2.0,-2.0zM166.7,616.3l2.0,2.0l-2.0,2.0l-2.0,-2.0zM173.7,628.1l2.0,2.0l-2.0,2.0l-2.0,-2.0zM152.8,603.0l2.0,2.0l-2.0,2.0l-2.0,-2.0zM126.8,589.2l2.0,2.0l-2.0,2.0l-2.0,-2.0zM178.8,631.4l2.0,2.0l-2.0,2.0l-2.0,-2.0zM168.6,623.8l2.0,2.0l-2.0,2.0l-2.0,-2.0zM139.6,585.9l2.0,2.0l-2.0,2.0l-2.0,-2.0zM131.1,593.3l2.0,2.0l-2.0,2.0l-2.0,-2.0zM150.2,599.6l2.0,2.0l-2.0,2.0l-2.0,-2.0zM160.0,617.9l2.0,2.0l-2.0,2.0l-2.0,-2.0zM143.5,571.1l2.0,2.0l-2.0,2.0l-2.0,-2.0zM179.4,624.6l2.0,2.0l-2.0,2.0l-2.0,-2.0zM139.3,602.4l2.0,2.0l-2.0,2.0l-2.0,-2.0zM154.3,598.6l2.0,2.0l-2.0,2.0l-2.0,-2.0zM164.1,604.0l2.0,2.0l-2.0,2.0l-2.0,-2.0zM170.1,596.0l2.0,2.0l-2.0,2.0l-2.0,-2.0zM158.3,603.0l2.0,2.0l-2.0,2.0l-2.0,-2.0zM164.6,611.6l2.0,2.0l-2.0,2.0l-2.0,-2.0zM148.3,604.9l2.0,2.0l-2.0,2.0l-2.0,-2.0zM153.7,589.0l2.0,2.0l-2.0,2.0l-2.0,-2.0zM164.4,610.7l2.0,2.0l-2.0,2.0l-2.0,-2.0zM133.0,566.0l2.0,2.0l-2.0,2.0l-2.0,-2.0zM155.3,606.3l2.0,2.0l-2.0,2.0l-2.0,-2.0zM170.6,629.3l2.0,2.0l-2.0,2.0l-2.0,-2.0zM137.1,571.1l2.0,2.0l-2.0,2.0l-2.0,-2.0zM155.7,606.0l2.0,2.0l-2.0,2.0l-2.0,-2.0zM153.3,595.0l2.0,2.0l-2.0,2.0l-2.0,-2.0zM140.8,568.9l2.0,2.0l-2.0,2.0l-2.0,-2.0zM184.5,634.2l2.0,2.0l-2.0,2.0l-2.0,-2.0zM174.4,625.4l2.0,2.0l-2.0,2.0l-2.0,-2.0zM174.6,617.2l2.0,2.0l-2.0,2.0l-2.0,-2.0zM162.9,614.9l2.0,2.0l-2.0,2.0l-2.0,-2.0zM137.8,585.7l2.0,2.0l-2.0,2.0l-2.0,-2.0zM174.2,629.5l2.0,2.0l-2.0,2.0l-2.0,-2.0zM173.1,625.2l2.0,2.0l-2.0,2.0l-2.0,-2.0zM147.7,601.9l2.0,2.0l-2.0,2.0l-2.0,-2.0zM163.7,610.7l2.0,2.0l-2.0,2.0l-2.0,-2.0zM156.8,602.0l2.0,2.0l-2.0,2.0l-2.0,-2.0zM152.3,593.9l2.0,2.0l-2.0,2.0l-2.0,-2.0zM131.0,593.3l2.0,2.0l-2.0,2.0l-2.0,-2.0zM145.9,595.5l2.0,2.0l-2.0,2.0l-2.0,-2.0zM133.8,574.9l2.0,2.0l-2.0,2.0l-2.0,-2.0zM152.0,578.9l2.0,2.0l-2.0,2.0l-2.0,-2.0zM124.6,570.9l2.0,2.0l-2.0,2.0l-2.0,-2.0zM136.3,569.1l2.0,2.0l-2.0,2.0l-2.0,-2.0zM181.4,624.0l2.0,2.0l-2.0,2.0l-2.0,-2.0zM176.3,628.9l2.0,2.0l-2.0,2.0l-2.0,-2.0zM170.7,622.6l2.0,2.0l-2.0,2.0l-2.0,-2.0zM175.4,630.9l2.0,2.0l-2.0,2.0l-2.0,-2.0zM117.3,577.0l2.0,2.0l-2.0,2.0l-2.0,-2.0zM179.8,629.3l2.0,2.0l-2.0,2.0l-2.0,-2.0zM161.6,611.5l2.0,2.0l-2.0,2.0l-2.0,-2.0zM172.5,625.0l2.0,2.0l-2.0,2.0l-2.0,-2.0zM163.8,589.7l2.0,2.0l-2.0,2.0l-2.0,-2.0zM172.3,629.9l2.0,2.0l-2.0,2.0l-2.0,-2.0zM156.1,603.8l2.0,2.0l-2.0,2.0l-2.0,-2.0zM133.4,589.5l2.0,2.0l-2.0,2.0l-2.0,-2.0zM175.5,625.7l2.0,2.0l-2.0,2.0l-2.0,-2.0zM180.9,633.6l2.0,2.0l-2.0,2.0l-2.0,-2.0zM143.1,600.3l2.0,2.0l-2.0,2.0l-2.0,-2.0zM175.4,628.2l2.0,2.0l-2.0,2.0l-2.0,-2.0zM176.2,626.0l2.0,2.0l-2.0,2.0l-2.0,-2.0zM130.2,568.7l2.0,2.0l-2.0,2.0l-2.0,-2.0zM127.4,566.5l2.0,2.0l-2.0,2.0l-2.0,-2.0zM159.0,607.1l2.0,2.0l-2.0,2.0l-2.0,-2.0zM152.3,606.8l2.0,2.0l-2.0,2.0l-2.0,-2.0zM146.4,603.1l2.0,2.0l-2.0,2.0l-2.0,-2.0zM182.7,634.2l2.0,2.0l-2.0,2.0l-2.0,-2.0zM146.0,588.2l2.0,2.0l-2.0,2.0l-2.0,-2.0zM155.5,607.7l2.0,2.0l-2.0,2.0l-2.0,-2.0zM135.0,585.0l2.0,2.0l-2.0,2.0l-2.0,-2.0zM176.4,627.2l2.0,2.0l-2.0,2.0l-2.0,-2.0zM170.1,603.3l2.0,2.0l-2.0,2.0l-2.0,-2.0zM137.9,579.7l2.0,2.0l-2.0,2.0l-2.0,-2.0zM150.8,587.9l2.0,2.0l-2.0,2.0l-2.0,-2.0zM155.4,611.4l2.0,2.0l-2.0,2.0l-2.0,-2.0zM127.0,596.5l2.0,2.0l-2.0,2.0l-2.0,-2.0zM134.8,579.4l2.0,2.0l-2.0,2.0l-2.0,-2.0zM176.8,621.4l2.0,2.0l-2.0,2.0l-2.0,-2.0zM128.8,581.7l2.0,2.0l-2.0,2.0l-2.0,-2.0zM116.7,578.6l2.0,2.0l-2.0,2.0l-2.0,-2.0zM143.4,572.9l2.0,2.0l-2.0,2.0l-2.0,-2.0zM144.9,588.7l2.0,2.0l-2.0,2.0l-2.0,-2.0zM151.7,611.3l2.0,2.0l-2.0,2.0l-2.0,-2.0zM149.0,586.4l2.0,2.0l-2.0,2.0l-2.0,-2.0zM160.6,606.6l2.0,2.0l-2.0,2.0l-2.0,-2.0zM178.5,634.2l2.0,2.0l-2.0,2.0l-2.0,-2.0zM157.3,594.5l2.0,2.0l-2.0,2.0l-2.0,-2.0zM177.8,623.1l2.0,2.0l-2.0,2.0l-2.0,-2.0zM163.1,616.1l2.0,2.0l-2.0,2.0l-2.0,-2.0zM136.0,591.6l2.0,2.0l-2.0,2.0l-2.0,-2.0zM159.8,612.4l2.0,2.0l-2.0,2.0l-2.0,-2.0zM126.8,583.1l2.0,2.0l-2.0,2.0l-2.0,-2.0zM139.6,563.9l2.0,2.0l-2.0,2.0l-2.0,-2.0zM142.1,585.0l2.0,2.0l-2.0,2.0l-2.0,-2.0zM169.1,621.5l2.0,2.0l-2.0,2.0l-2.0,-2.0zM174.2,625.4l2.0,2.0l-2.0,2.0l-2.0,-2.0zM167.2,613.4l2.0,2.0l-2.0,2.0l-2.0,-2.0zM133.3,570.6l2.0,2.0l-2.0,2.0l-2.0,-2.0zM133.4,600.4l2.0,2.0l-2.0,2.0l-2.0,-2.0zM150.7,599.0l2.0,2.0l-2.0,2.0l-2.0,-2.0zM174.3,631.9l2.0,2.0l-2.0,2.0l-2.0,-2.0zM149.9,596.6l2.0,2.0l-2.0,2.0l-2.0,-2.0zM123.0,568.4l2.0,2.0l-2.0,2.0l-2.0,-2.0zM172.9,627.5l2.0,2.0l-2.0,2.0l-2.0,-2.0zM157.1,604.6l2.0,2.0l-2.0,2.0l-2.0,-2.0zM167.1,595.5l2.0,2.0l-2.0,2.0l-2.0,-2.0zM166.3,610.2l2.0,2.0l-2.0,2.0l-2.0,-2.0zM148.8,602.2l2.0,2.0l-2.0,2.0l-2.0,-2.0zM166.0,619.6l2.0,2.0l-2.0,2.0l-2.0,-2.0zM139.5,592.0l2.0,2.0l-2.0,2.0l-2.0,-2.0zM139.0,586.9l2.0,2.0l-2.0,2.0l-2.0,-2.0zM171.9,618.9l2.0,2.0l-2.0,2.0l-2.0,-2.0zM180.3,633.4l2.0,2.0l-2.0,2.0l-2.0,-2.0zM175.5,627.6l2.0,2.0l-2.0,2.0l-2.0,-2.0zM117.7,571.3l2.0,2.0l-2.0,2.0l-2.0,-2.0zM166.8,584.2l2.0,2.0l-2.0,2.0l-2.0,-2.0zM136.5,567.1l2.0,2.0l-2.0,2.0l-2.0,-2.0zM181.8,632.0l2.0,2.0l-2.0,2.0l-2.0,-2.0zM153.5,605.9l2.0,2.0l-2.0,2.0l-2.0,-2.0zM123.9,564.6l2.0,2.0l-2.0,2.0l-2.0,-2.0zM140.3,567.8l2.0,2.0l-2.0,2.0l-2.0,-2.0zM116.1,586.4l2.0,2.0l-2.0,2.0l-2.0,-2.0zM140.4,578.4l2.0,2.0l-2.0,2.0l-2.0,-2.0zM157.8,596.1l2.0,2.0l-2.0,2.0l-2.0,-2.0zM164.8,607.6l2.0,2.0l-2.0,2.0l-2.0,-2.0zM177.9,624.9l2.0,2.0l-2.0,2.0l-2.0,-2.0zM178.3,629.4l2.0,2.0l-2.0,2.0l-2.0,-2.0zM156.1,608.5l2.0,2.0l-2.0,2.0l-2.0,-2.0zM165.5,621.2l2.0,2.0l-2.0,2.0l-2.0,-2.0zM139.0,597.8l2.0,2.0l-2.0,2.0l-2.0,-2.0zM160.2,601.9l2.0,2.0l-2.0,2.0l-2.0,-2.0zM169.1,622.7l2.0,2.0l-2.0,2.0l-2.0,-2.0zM182.1,630.0l2.0,2.0l-2.0,2.0l-2.0,-2.0zM139.0,594.4l2.0,2.0l-2.0,2.0l-2.0,-2.0zM163.5,614.6l2.0,2.0l-2.0,2.0l-2.0,-2.0zM163.4,599.2l2.0,2.0l-2.0,2.0l-2.0,-2.0zM141.3,597.1l2.0,2.0l-2.0,2.0l-2.0,-2.0zM168.6,625.7l2.0,2.0l-2.0,2.0l-2.0,-2.0zM180.8,622.0l2.0,2.0l-2.0,2.0l-2.0,-2.0zM127.2,573.0l2.0,2.0l-2.0,2.0l-2.0,-2.0zM182.5,633.5l2.0,2.0l-2.0,2.0l-2.0,-2.0zM162.5,609.9l2.0,2.0l-2.0,2.0l-2.0,-2.0zM156.3,594.6l2.0,2.0l-2.0,2.0l-2.0,-2.0zM181.4,632.1l2.0,2.0l-2.0,2.0l-2.0,-2.0zM176.5,631.4l2.0,2.0l-2.0,2.0l-2.0,-2.0zM138.2,593.9l2.0,2.0l-2.0,2.0l-2.0,-2.0zM159.9,613.6l2.0,2.0l-2.0,2.0l-2.0,-2.0zM166.0,615.7l2.0,2.0l-2.0,2.0l-2.0,-2.0zM141.8,584.5l2.0,2.0l-2.0,2.0l-2.0,-2.0zM175.8,629.7l2.0,2.0l-2.0,2.0l-2.0,-2.0zM122.8,579.0l2.0,2.0l-2.0,2.0l-2.0,-2.0zM167.4,624.3l2.0,2.0l-2.0,2.0l-2.0,-2.0zM160.2,609.9l2.0,2.0l-2.0,2.0l-2.0,-2.0zM174.3,613.9l2.0,2.0l-2.0,2.0l-2.0,-2.0zM153.6,592.1l2.0,2.0l-2.0,2.0l-2.0,-2.0zM152.5,600.5l2.0,2.0l-2.0,2.0l-2.0,-2.0zM148.6,584.4l2.0,2.0l-2.0,2.0l-2.0,-2.0zM161.2,613.9l2.0,2.0l-2.0,2.0l-2.0,-2.0zM179.0,630.9l2.0,2.0l-2.0,2.0l-2.0,-2.0zM177.6,631.6l2.0,2.0l-2.0,2.0l-2.0,-2.0zM140.5,599.3l2.0,2.0l-2.0,2.0l-2.0,-2.0zM168.7,618.7l2.0,2.0l-2.0,2.0l-2.0,-2.0zM143.7,581.9l2.0,2.0l-2.0,2.0l-2.0,-2.0zM148.2,591.4l2.0,2.0l-2.0,2.0l-2.0,-2.0zM176.9,631.6l2.0,2.0l-2.0,2.0l-2.0,-2.0zM156.9,588.8l2.0,2.0l-2.0,2.0l-2.0,-2.0zM171.8,619.8l2.0,2.0l-2.0,2.0l-2.0,-2.0zM148.0,586.1l2.0,2.0l-2.0,2.0l-2.0,-2.0zM170.7,614.1l2.0,2.0l-2.0,2.0l-2.0,-2.0zM159.7,598.9l2.0,2.0l-2.0,2.0l-2.0,-2.0zM151.1,569.5l2.0,2.0l-2.0,2.0l-2.0,-2.0zM154.8,608.9l2.0,2.0l-2.0,2.0l-2.0,-2.0zM132.7,579.6l2.0,2.0l-2.0,2.0l-2.0,-2.0zM167.1,611.7l2.0,2.0l-2.0,2.0l-2.0,-2.0zM133.2,568.0l2.0,2.0l-2.0,2.0l-2.0,-2.0zM161.9,614.4l2.0,2.0l-2.0,2.0l-2.0,-2.0zM160.5,614.1l2.0,2.0l-2.0,2.0l-2.0,-2.0zM167.4,612.6l2.0,2.0l-2.0,2.0l-2.0,-2.0zM166.7,625.4l2.0,2.0l-2.0,2.0l-2.0,-2.0zM148.4,601.1l2.0,2.0l-2.0,2.0l-2.0,-2.0zM127.3,576.7l2.0,2.0l-2.0,2.0l-2.0,-2.0zM136.5,583.3l2.0,2.0l-2.0,2.0l-2.0,-2.0zM129.7,572.8l2.0,2.0l-2.0,2.0l-2.0,-2.0zM156.6,603.0l2.0,2.0l-2.0,2.0l-2.0,-2.0zM135.7,600.8l2.0,2.0l-2.0,2.0l-2.0,-2.0zM137.1,592.3l2.0,2.0l-2.0,2.0l-2.0,-2.0zM147.4,579.5l2.0,2.0l-2.0,2.0l-2.0,-2.0zM141.7,580.8l2.0,2.0l-2.0,2.0l-2.0,-2.0zM183.3,631.5l2.0,2.0l-2.0,2.0l-2.0,-2.0zM137.9,571.2l2.0,2.0l-2.0,2.0l-2.0,-2.0zM177.3,631.5l2.0,2.0l-2.0,2.0l-2.0,-2.0zM135.8,584.4l2.0,2.0l-2.0,2.0l-2.0,-2.0zM146.5,592.5l2.0,2.0l-2.0,2.0l-2.0,-2.0zM145.3,582.8l2.0,2.0l-2.0,2.0l-2.0,-2.0zM155.4,602.6l2.0,2.0l-2.0,2.0l-2.0,-2.0zM160.5,616.1l2.0,2.0l-2.0,2.0l-2.0,-2.0zM117.1,565.0l2.0,2.0l-2.0,2.0l-2.0,-2.0zM146.2,601.4l2.0,2.0l-2.0,2.0l-2.0,-2.0zM136.1,586.5l2.0,2.0l-2.0,2.0l-2.0,-2.0zM148.6,610.9l2.0,2.0l-2.0,2.0l-2.0,-2.0zM123.8,577.6l2.0,2.0l-2.0,2.0l-2.0,-2.0zM118.2,579.3l2.0,2.0l-2.0,2.0l-2.0,-2.0zM153.8,576.9l2.0,2.0l-2.0,2.0l-2.0,-2.0zM133.3,593.2l2.0,2.0l-2.0,2.0l-2.0,-2.0zM151.4,602.4l2.0,2.0l-2.0,2.0l-2.0,-2.0zM150.2,610.1l2.0,2.0l-2.0,2.0l-2.0,-2.0zM167.1,610.2l2.0,2.0l-2.0,2.0l-2.0,-2.0zM165.6,613.4l2.0,2.0l-2.0,2.0l-2.0,-2.0zM164.3,609.9l2.0,2.0l-2.0,2.0l-2.0,-2.0zM170.1,619.2l2.0,2.0l-2.0,2.0l-2.0,-2.0zM167.1,618.1l2.0,2.0l-2.0,2.0l-2.0,-2.0zM173.6,629.9l2.0,2.0l-2.0,2.0l-2.0,-2.0zM168.7,626.3l2.0,2.0l-2.0,2.0l-2.0,-2.0zM175.3,632.5l2.0,2.0l-2.0,2.0l-2.0,-2.0zM131.9,570.3l2.0,2.0l-2.0,2.0l-2.0,-2.0zM181.8,633.6l2.0,2.0l-2.0,2.0l-2.0,-2.0zM174.1,624.0l2.0,2.0l-2.0,2.0l-2.0,-2.0zM170.2,622.9l2.0,2.0l-2.0,2.0l-2.0,-2.0zM166.3,623.6l2.0,2.0l-2.0,2.0l-2.0,-2.0zM173.5,626.0l2.0,2.0l-2.0,2.0l-2.0,-2.0zM144.8,583.4l2.0,2.0l-2.0,2.0l-2.0,-2.0zM158.3,617.9l2.0,2.0l-2.0,2.0l-2.0,-2.0zM153.7,605.8l2.0,2.0l-2.0,2.0l-2.0,-2.0zM178.0,621.3l2.0,2.0l-2.0,2.0l-2.0,-2.0zM157.8,615.8l2.0,2.0l-2.0,2.0l-2.0,-2.0zM161.3,600.6l2.0,2.0l-2.0,2.0l-2.0,-2.0zM170.8,623.8l2.0,2.0l-2.0,2.0l-2.0,-2.0zM159.7,612.8l2.0,2.0l-2.0,2.0l-2.0,-2.0zM148.6,602.1l2.0,2.0l-2.0,2.0l-2.0,-2.0zM145.9,591.8l2.0,2.0l-2.0,2.0l-2.0,-2.0zM158.8,606.3l2.0,2.0l-2.0,2.0l-2.0,-2.0zM166.5,613.7l2.0,2.0l-2.0,2.0l-2.0,-2.0zM137.1,595.9l2.0,2.0l-2.0,2.0l-2.0,-2.0zM177.2,627.6l2.0,2.0l-2.0,2.0l-2.0,-2.0zM173.6,621.3l2.0,2.0l-2.0,2.0l-2.0,-2.0zM115.5,573.8l2.0,2.0l-2.0,2.0l-2.0,-2.0zM167.1,620.9l2.0,2.0l-2.0,2.0l-2.0,-2.0zM136.8,582.4l2.0,2.0l-2.0,2.0l-2.0,-2.0zM183.7,634.2l2.0,2.0l-2.0,2.0l-2.0,-2.0zM116.2,577.9l2.0,2.0l-2.0,2.0l-2.0,-2.0zM177.9,631.6l2.0,2.0l-2.0,2.0l-2.0,-2.0zM183.4,630.9l2.0,2.0l-2.0,2.0l-2.0,-2.0zM140.8,605.8l2.0,2.0l-2.0,2.0l-2.0,-2.0zM154.3,597.5l2.0,2.0l-2.0,2.0l-2.0,-2.0zM125.5,574.9l2.0,2.0l-2.0,2.0l-2.0,-2.0zM171.4,610.5l2.0,2.0l-2.0,2.0l-2.0,-2.0zM145.6,569.6l2.0,2.0l-2.0,2.0l-2.0,-2.0zM177.1,624.6l2.0,2.0l-2.0,2.0l-2.0,-2.0zM149.0,600.9l2.0,2.0l-2.0,2.0l-2.0,-2.0zM132.7,577.1l2.0,2.0l-2.0,2.0l-2.0,-2.0zM166.6,617.9l2.0,2.0l-2.0,2.0l-2.0,-2.0zM169.5,618.3l2.0,2.0l-2.0,2.0l-2.0,-2.0zM156.8,606.7l2.0,2.0l-2.0,2.0l-2.0,-2.0zM135.6,589.3l2.0,2.0l-2.0,2.0l-2.0,-2.0zM174.6,630.4l2.0,2.0l-2.0,2.0l-2.0,-2.0zM132.1,565.1l2.0,2.0l-2.0,2.0l-2.0,-2.0zM132.9,577.3l2.0,2.0l-2.0,2.0l-2.0,-2.0zM162.8,613.3l2.0,2.0l-2.0,2.0l-2.0,-2.0zM143.1,587.4l2.0,2.0l-2.0,2.0l-2.0,-2.0zM167.0,607.4l2.0,2.0l-2.0,2.0l-2.0,-2.0zM172.5,624.7l2.0,2.0l-2.0,2.0l-2.0,-2.0zM146.6,595.1l2.0,2.0l-2.0,2.0l-2.0,-2.0zM160.4,601.2l2.0,2.0l-2.0,2.0l-2.0,-2.0zM165.4,618.8l2.0,2.0l-2.0,2.0l-2.0,-2.0zM152.6,591.0l2.0,2.0l-2.0,2.0l-2.0,-2.0zM172.7,621.5l2.0,2.0l-2.0,2.0l-2.0,-2.0zM174.5,616.7l2.0,2.0l-2.0,2.0l-2.0,-2.0zM107.9,567.1l2.0,2.0l-2.0,2.0l-2.0,-2.0zM162.9,616.5l2.0,2.0l-2.0,2.0l-2.0,-2.0zM138.8,577.5l2.0,2.0l-2.0,2.0l-2.0,-2.0zM179.1,631.0l2.0,2.0l-2.0,2.0l-2.0,-2.0zM143.0,590.1l2.0,2.0l-2.0,2.0l-2.0,-2.0zM158.4,611.5l2.0,2.0l-2.0,2.0l-2.0,-2.0zM129.5,576.6l2.0,2.0l-2.0,2.0l-2.0,-2.0zM170.8,623.4l2.0,2.0l-2.0,2.0l-2.0,-2.0zM178.1,627.6l2.0,2.0l-2.0,2.0l-2.0,-2.0zM181.3,632.1l2.0,2.0l-2.0,2.0l-2.0,-2.0zM114.8,569.3l2.0,2.0l-2.0,2.0l-2.0,-2.0zM151.0,592.6l2.0,2.0l-2.0,2.0l-2.0,-2.0zM142.4,582.7l2.0,2.0l-2.0,2.0l-2.0,-2.0zM161.5,616.5l2.0,2.0l-2.0,2.0l-2.0,-2.0zM167.6,610.8l2.0,2.0l-2.0,2.0l-2.0,-2.0zM143.8,588.3l2.0,2.0l-2.0,2.0l-2.0,-2.0zM137.6,595.7l2.0,2.0l-2.0,2.0l-2.0,-2.0zM179.5,634.2l2.0,2.0l-2.0,2.0l-2.0,-2.0zM153.0,592.3l2.0,2.0l-2.0,2.0l-2.0,-2.0zM174.6,630.4l2.0,2.0l-2.0,2.0l-2.0,-2.0zM145.1,580.8l2.0,2.0l-2.0,2.0l-2.0,-2.0zM129.5,577.6l2.0,2.0l-2.0,2.0l-2.0,-2.0zM134.6,582.7l2.0,2.0l-2.0,2.0l-2.0,-2.0zM118.4,570.8l2.0,2.0l-2.0,2.0l-2.0,-2.0zM154.1,604.2l2.0,2.0l-2.0,2.0l-2.0,-2.0zM173.5,628.5l2.0,2.0l-2.0,2.0l-2.0,-2.0zM134.7,603.0l2.0,2.0l-2.0,2.0l-2.0,-2.0zM145.0,587.0l2.0,2.0l-2.0,2.0l-2.0,-2.0zM118.7,567.1l2.0,2.0l-2.0,2.0l-2.0,-2.0zM148.9,594.2l2.0,2.0l-2.0,2.0l-2.0,-2.0zM172.7,622.3l2.0,2.0l-2.0,2.0l-2.0,-2.0zM148.9,598.3l2.0,2.0l-2.0,2.0l-2.0,-2.0zM116.8,568.5l2.0,2.0l-2.0,2.0l-2.0,-2.0zM161.7,614.5l2.0,2.0l-2.0,2.0l-2.0,-2.0zM124.8,564.5l2.0,2.0l-2.0,2.0l-2.0,-2.0zM180.1,628.8l2.0,2.0l-2.0,2.0l-2.0,-2.0zM146.8,599.5l2.0,2.0l-2.0,2.0l-2.0,-2.0zM150.7,599.6l2.0,2.0l-2.0,2.0l-2.0,-2.0zM149.0,562.8l2.0,2.0l-2.0,2.0l-2.0,-2.0zM130.4,578.3l2.0,2.0l-2.0,2.0l-2.0,-2.0zM131.0,577.7l2.0,2.0l-2.0,2.0l-2.0,-2.0zM195.7,618.7l2.0,2.0l-2.0,2.0l-2.0,-2.0zM202.7,598.1l2.0,2.0l-2.0,2.0l-2.0,-2.0zM227.1,577.5l2.0,2.0l-2.0,2.0l-2.0,-2.0zM187.5,631.5l2.0,2.0l-2.0,2.0l-2.0,-2.0zM185.9,633.6l2.0,2.0l-2.0,2.0l-2.0,-2.0zM264.3,568.4l2.0,2.0l-2.0,2.0l-2.0,-2.0zM206.0,591.5l2.0,2.0l-2.0,2.0l-2.0,-2.0zM231.2,585.1l2.0,2.0l-2.0,2.0l-2.0,-2.0zM186.9,612.3l2.0,2.0l-2.0,2.0l-2.0,-2.0zM178.7,634.2l2.0,2.0l-2.0,2.0l-2.0,-2.0zM185.9,624.5l2.0,2.0l-2.0,2.0l-2.0,-2.0zM197.9,611.9l2.0,2.0l-2.0,2.0l-2.0,-2.0zM211.5,598.4l2.0,2.0l-2.0,2.0l-2.0,-2.0zM197.0,620.3l2.0,2.0l-2.0,2.0l-2.0,-2.0zM200.2,598.5l2.0,2.0l-2.0,2.0l-2.0,-2.0zM186.1,633.4l2.0,2.0l-2.0,2.0l-2.0,-2.0zM227.9,590.5l2.0,2.0l-2.0,2.0l-2.0,-2.0zM226.7,596.0l2.0,2.0l-2.0,2.0l-2.0,-2.0zM192.2,605.9l2.0,2.0l-2.0,2.0l-2.0,-2.0zM220.8,589.0l2.0,2.0l-2.0,2.0l-2.0,-2.0zM217.0,583.5l2.0,2.0l-2.0,2.0l-2.0,-2.0zM213.7,563.7l2.0,2.0l-2.0,2.0l-2.0,-2.0zM229.3,576.9l2.0,2.0l-2.0,2.0l-2.0,-2.0zM193.6,608.5l2.0,2.0l-2.0,2.0l-2.0,-2.0zM215.3,598.7l2.0,2.0l-2.0,2.0l-2.0,-2.0zM198.5,601.8l2.0,2.0l-2.0,2.0l-2.0,-2.0zM204.6,608.6l2.0,2.0l-2.0,2.0l-2.0,-2.0zM181.1,632.6l2.0,2.0l-2.0,2.0l-2.0,-2.0zM229.4,586.1l2.0,2.0l-2.0,2.0l-2.0,-2.0zM199.2,596.2l2.0,2.0l-2.0,2.0l-2.0,-2.0zM211.4,584.0l2.0,2.0l-2.0,2.0l-2.0,-2.0zM187.6,631.9l2.0,2.0l-2.0,2.0l-2.0,-2.0zM181.0,628.9l2.0,2.0l-2.0,2.0l-2.0,-2.0zM200.3,611.2l2.0,2.0l-2.0,2.0l-2.0,-2.0zM181.3,632.7l2.0,2.0l-2.0,2.0l-2.0,-2.0zM184.4,621.9l2.0,2.0l-2.0,2.0l-2.0,-2.0zM189.9,617.5l2.0,2.0l-2.0,2.0l-2.0,-2.0zM184.7,631.9l2.0,2.0l-2.0,2.0l-2.0,-2.0zM245.2,570.8l2.0,2.0l-2.0,2.0l-2.0,-2.0zM219.1,574.5l2.0,2.0l-2.0,2.0l-2.0,-2.0zM200.6,609.4l2.0,2.0l-2.0,2.0l-2.0,-2.0zM208.8,584.4l2.0,2.0l-2.0,2.0l-2.0,-2.0zM209.7,598.6l2.0,2.0l-2.0,2.0l-2.0,-2.0zM215.7,580.7l2.0,2.0l-2.0,2.0l-2.0,-2.0zM179.6,634.2l2.0,2.0l-2.0,2.0l-2.0,-2.0zM189.0,621.6l2.0,2.0l-2.0,2.0l-2.0,-2.0zM185.8,632.2l2.0,2.0l-2.0,2.0l-2.0,-2.0zM230.1,572.1l2.0,2.0l-2.0,2.0l-2.0,-2.0zM189.8,614.0l2.0,2.0l-2.0,2.0l-2.0,-2.0zM209.6,597.2l2.0,2.0l-2.0,2.0l-2.0,-2.0zM225.9,571.9l2.0,2.0l-2.0,2.0l-2.0,-2.0zM179.9,617.4l2.0,2.0l-2.0,2.0l-2.0,-2.0zM229.9,565.2l2.0,2.0l-2.0,2.0l-2.0,-2.0zM203.2,605.7l2.0,2.0l-2.0,2.0l-2.0,-2.0zM237.3,569.8l2.0,2.0l-2.0,2.0l-2.0,-2.0zM233.3,572.0l2.0,2.0l-2.0,2.0l-2.0,-2.0zM206.9,614.2l2.0,2.0l-2.0,2.0l-2.0,-2.0zM208.9,605.7l2.0,2.0l-2.0,2.0l-2.0,-2.0zM257.2,563.6l2.0,2.0l-2.0,2.0l-2.0,-2.0zM186.5,624.3l2.0,2.0l-2.0,2.0l-2.0,-2.0zM217.6,573.4l2.0,2.0l-2.0,2.0l-2.0,-2.0zM186.7,632.8l2.0,2.0l-2.0,2.0l-2.0,-2.0zM199.4,617.0l2.0,2.0l-2.0,2.0l-2.0,-2.0zM239.4,571.7l2.0,2.0l-2.0,2.0l-2.0,-2.0zM181.2,628.3l2.0,2.0l-2.0,2.0l-2.0,-2.0zM224.0,588.5l2.0,2.0l-2.0,2.0l-2.0,-2.0zM182.2,631.4l2.0,2.0l-2.0,2.0l-2.0,-2.0zM186.8,623.0l2.0,2.0l-2.0,2.0l-2.0,-2.0zM195.0,624.6l2.0,2.0l-2.0,2.0l-2.0,-2.0zM188.2,625.6l2.0,2.0l-2.0,2.0l-2.0,-2.0zM236.1,580.8l2.0,2.0l-2.0,2.0l-2.0,-2.0zM189.3,612.9l2.0,2.0l-2.0,2.0l-2.0,-2.0zM191.4,596.8l2.0,2.0l-2.0,2.0l-2.0,-2.0zM186.2,622.6l2.0,2.0l-2.0,2.0l-2.0,-2.0zM233.9,590.8l2.0,2.0l-2.0,2.0l-2.0,-2.0zM190.4,619.5l2.0,2.0l-2.0,2.0l-2.0,-2.0zM225.1,564.7l2.0,2.0l-2.0,2.0l-2.0,-2.0zM191.0,608.1l2.0,2.0l-2.0,2.0l-2.0,-2.0zM181.8,633.1l2.0,2.0l-2.0,2.0l-2.0,-2.0zM206.6,596.1l2.0,2.0l-2.0,2.0l-2.0,-2.0zM228.3,579.8l2.0,2.0l-2.0,2.0l-2.0,-2.0zM182.6,631.0l2.0,2.0l-2.0,2.0l-2.0,-2.0zM198.8,621.5l2.0,2.0l-2.0,2.0l-2.0,-2.0zM188.6,619.3l2.0,2.0l-2.0,2.0l-2.0,-2.0zM222.3,572.0l2.0,2.0l-2.0,2.0l-2.0,-2.0zM246.0,564.3l2.0,2.0l-2.0,2.0l-2.0,-2.0zM219.1,584.1l2.0,2.0l-2.0,2.0l-2.0,-2.0zM204.1,612.1l2.0,2.0l-2.0,2.0l-2.0,-2.0zM185.4,625.7l2.0,2.0l-2.0,2.0l-2.0,-2.0zM200.8,599.4l2.0,2.0l-2.0,2.0l-2.0,-2.0zM203.8,591.5l2.0,2.0l-2.0,2.0l-2.0,-2.0zM204.5,581.4l2.0,2.0l-2.0,2.0l-2.0,-2.0zM220.3,576.3l2.0,2.0l-2.0,2.0l-2.0,-2.0zM187.4,589.4l2.0,2.0l-2.0,2.0l-2.0,-2.0zM186.0,626.0l2.0,2.0l-2.0,2.0l-2.0,-2.0zM226.2,581.7l2.0,2.0l-2.0,2.0l-2.0,-2.0zM195.9,622.2l2.0,2.0l-2.0,2.0l-2.0,-2.0zM201.7,608.0l2.0,2.0l-2.0,2.0l-2.0,-2.0zM198.2,580.8l2.0,2.0l-2.0,2.0l-2.0,-2.0zM186.5,622.2l2.0,2.0l-2.0,2.0l-2.0,-2.0zM207.5,597.6l2.0,2.0l-2.0,2.0l-2.0,-2.0zM213.4,603.7l2.0,2.0l-2.0,2.0l-2.0,-2.0zM217.6,587.0l2.0,2.0l-2.0,2.0l-2.0,-2.0zM210.6,598.1l2.0,2.0l-2.0,2.0l-2.0,-2.0zM184.6,627.3l2.0,2.0l-2.0,2.0l-2.0,-2.0zM178.4,634.2l2.0,2.0l-2.0,2.0l-2.0,-2.0zM200.1,608.0l2.0,2.0l-2.0,2.0l-2.0,-2.0zM191.9,620.4l2.0,2.0l-2.0,2.0l-2.0,-2.0zM220.5,571.1l2.0,2.0l-2.0,2.0l-2.0,-2.0zM191.3,598.4l2.0,2.0l-2.0,2.0l-2.0,-2.0zM187.7,622.0l2.0,2.0l-2.0,2.0l-2.0,-2.0zM185.7,627.7l2.0,2.0l-2.0,2.0l-2.0,-2.0zM195.2,617.0l2.0,2.0l-2.0,2.0l-2.0,-2.0zM201.9,594.4l2.0,2.0l-2.0,2.0l-2.0,-2.0zM206.4,596.9l2.0,2.0l-2.0,2.0l-2.0,-2.0zM184.9,630.9l2.0,2.0l-2.0,2.0l-2.0,-2.0zM188.0,620.9l2.0,2.0l-2.0,2.0l-2.0,-2.0zM183.9,626.9l2.0,2.0l-2.0,2.0l-2.0,-2.0zM197.9,581.1l2.0,2.0l-2.0,2.0l-2.0,-2.0zM180.3,632.3l2.0,2.0l-2.0,2.0l-2.0,-2.0zM191.6,623.4l2.0,2.0l-2.0,2.0l-2.0,-2.0zM245.2,565.8l2.0,2.0l-2.0,2.0l-2.0,-2.0zM220.5,583.2l2.0,2.0l-2.0,2.0l-2.0,-2.0zM239.9,564.4l2.0,2.0l-2.0,2.0l-2.0,-2.0zM225.9,584.5l2.0,2.0l-2.0,2.0l-2.0,-2.0zM182.7,633.3l2.0,2.0l-2.0,2.0l-2.0,-2.0zM194.5,627.9l2.0,2.0l-2.0,2.0l-2.0,-2.0zM195.3,611.5l2.0,2.0l-2.0,2.0l-2.0,-2.0zM187.0,631.5l2.0,2.0l-2.0,2.0l-2.0,-2.0zM187.4,633.6l2.0,2.0l-2.0,2.0l-2.0,-2.0zM215.1,585.4l2.0,2.0l-2.0,2.0l-2.0,-2.0zM189.6,622.5l2.0,2.0l-2.0,2.0l-2.0,-2.0zM196.7,621.8l2.0,2.0l-2.0,2.0l-2.0,-2.0zM207.5,606.5l2.0,2.0l-2.0,2.0l-2.0,-2.0zM192.3,615.4l2.0,2.0l-2.0,2.0l-2.0,-2.0zM226.7,564.8l2.0,2.0l-2.0,2.0l-2.0,-2.0zM196.7,610.7l2.0,2.0l-2.0,2.0l-2.0,-2.0zM219.4,592.1l2.0,2.0l-2.0,2.0l-2.0,-2.0zM216.8,588.6l2.0,2.0l-2.0,2.0l-2.0,-2.0zM200.5,574.7l2.0,2.0l-2.0,2.0l-2.0,-2.0zM192.4,606.4l2.0,2.0l-2.0,2.0l-2.0,-2.0zM201.1,611.5l2.0,2.0l-2.0,2.0l-2.0,-2.0zM208.7,581.6l2.0,2.0l-2.0,2.0l-2.0,-2.0zM187.4,623.5l2.0,2.0l-2.0,2.0l-2.0,-2.0zM210.0,599.9l2.0,2.0l-2.0,2.0l-2.0,-2.0zM187.8,626.6l2.0,2.0l-2.0,2.0l-2.0,-2.0zM206.3,606.0l2.0,2.0l-2.0,2.0l-2.0,-2.0zM223.1,589.8l2.0,2.0l-2.0,2.0l-2.0,-2.0zM226.4,574.9l2.0,2.0l-2.0,2.0l-2.0,-2.0zM186.6,631.7l2.0,2.0l-2.0,2.0l-2.0,-2.0zM207.7,588.8l2.0,2.0l-2.0,2.0l-2.0,-2.0zM183.5,634.2l2.0,2.0l-2.0,2.0l-2.0,-2.0zM187.3,625.5l2.0,2.0l-2.0,2.0l-2.0,-2.0zM240.0,569.7l2.0,2.0l-2.0,2.0l-2.0,-2.0zM213.3,586.9l2.0,2.0l-2.0,2.0l-2.0,-2.0zM190.4,627.2l2.0,2.0l-2.0,2.0l-2.0,-2.0zM212.2,568.6l2.0,2.0l-2.0,2.0l-2.0,-2.0zM229.3,586.3l2.0,2.0l-2.0,2.0l-2.0,-2.0zM237.2,571.1l2.0,2.0l-2.0,2.0l-2.0,-2.0zM197.8,612.1l2.0,2.0l-2.0,2.0l-2.0,-2.0zM186.1,631.2l2.0,2.0l-2.0,2.0l-2.0,-2.0zM210.7,582.4l2.0,2.0l-2.0,2.0l-2.0,-2.0zM211.7,602.2l2.0,2.0l-2.0,2.0l-2.0,-2.0zM191.8,622.0l2.0,2.0l-2.0,2.0l-2.0,-2.0zM184.8,633.3l2.0,2.0l-2.0,2.0l-2.0,-2.0zM185.4,633.7l2.0,2.0l-2.0,2.0l-2.0,-2.0zM187.1,617.1l2.0,2.0l-2.0,2.0l-2.0,-2.0zM188.1,628.3l2.0,2.0l-2.0,2.0l-2.0,-2.0zM212.9,587.6l2.0,2.0l-2.0,2.0l-2.0,-2.0zM228.0,590.8l2.0,2.0l-2.0,2.0l-2.0,-2.0zM187.2,627.6l2.0,2.0l-2.0,2.0l-2.0,-2.0zM222.7,587.1l2.0,2.0l-2.0,2.0l-2.0,-2.0zM187.6,610.6l2.0,2.0l-2.0,2.0l-2.0,-2.0zM196.0,622.8l2.0,2.0l-2.0,2.0l-2.0,-2.0zM190.4,618.5l2.0,2.0l-2.0,2.0l-2.0,-2.0zM184.1,633.3l2.0,2.0l-2.0,2.0l-2.0,-2.0zM179.1,634.0l2.0,2.0l-2.0,2.0l-2.0,-2.0zM208.4,579.3l2.0,2.0l-2.0,2.0l-2.0,-2.0zM223.1,565.3l2.0,2.0l-2.0,2.0l-2.0,-2.0zM245.4,570.1l2.0,2.0l-2.0,2.0l-2.0,-2.0zM186.5,623.4l2.0,2.0l-2.0,2.0l-2.0,-2.0zM208.9,567.1l2.0,2.0l-2.0,2.0l-2.0,-2.0zM224.9,574.4l2.0,2.0l-2.0,2.0l-2.0,-2.0zM189.0,630.8l2.0,2.0l-2.0,2.0l-2.0,-2.0zM197.2,609.0l2.0,2.0l-2.0,2.0l-2.0,-2.0zM198.4,612.2l2.0,2.0l-2.0,2.0l-2.0,-2.0zM189.4,616.0l2.0,2.0l-2.0,2.0l-2.0,-2.0zM186.8,626.9l2.0,2.0l-2.0,2.0l-2.0,-2.0zM193.8,610.8l2.0,2.0l-2.0,2.0l-2.0,-2.0zM212.7,590.9l2.0,2.0l-2.0,2.0l-2.0,-2.0zM194.0,621.9l2.0,2.0l-2.0,2.0l-2.0,-2.0zM202.5,609.4l2.0,2.0l-2.0,2.0l-2.0,-2.0zM180.8,627.4l2.0,2.0l-2.0,2.0l-2.0,-2.0zM198.9,599.6l2.0,2.0l-2.0,2.0l-2.0,-2.0zM224.1,588.1l2.0,2.0l-2.0,2.0l-2.0,-2.0zM197.0,613.5l2.0,2.0l-2.0,2.0l-2.0,-2.0zM182.1,632.2l2.0,2.0l-2.0,2.0l-2.0,-2.0zM204.2,604.0l2.0,2.0l-2.0,2.0l-2.0,-2.0zM199.5,597.1l2.0,2.0l-2.0,2.0l-2.0,-2.0zM191.7,621.0l2.0,2.0l-2.0,2.0l-2.0,-2.0zM178.1,634.0l2.0,2.0l-2.0,2.0l-2.0,-2.0zM221.6,598.7l2.0,2.0l-2.0,2.0l-2.0,-2.0zM189.5,620.5l2.0,2.0l-2.0,2.0l-2.0,-2.0zM197.0,605.9l2.0,2.0l-2.0,2.0l-2.0,-2.0zM217.6,594.8l2.0,2.0l-2.0,2.0l-2.0,-2.0zM204.5,597.9l2.0,2.0l-2.0,2.0l-2.0,-2.0zM230.1,568.2l2.0,2.0l-2.0,2.0l-2.0,-2.0zM196.0,594.4l2.0,2.0l-2.0,2.0l-2.0,-2.0zM193.5,610.2l2.0,2.0l-2.0,2.0l-2.0,-2.0zM226.0,577.6l2.0,2.0l-2.0,2.0l-2.0,-2.0zM202.8,573.4l2.0,2.0l-2.0,2.0l-2.0,-2.0zM186.9,633.4l2.0,2.0l-2.0,2.0l-2.0,-2.0zM182.4,628.3l2.0,2.0l-2.0,2.0l-2.0,-2.0zM105.2,565.0l2.0,2.0l-2.0,2.0l-2.0,-2.0zM94.5,587.9l2.0,2.0l-2.0,2.0l-2.0,-2.0zM98.5,573.7l2.0,2.0l-2.0,2.0l-2.0,-2.0zM98.8,593.5l2.0,2.0l-2.0,2.0l-2.0,-2.0zM114.5,582.0l2.0,2.0l-2.0,2.0l-2.0,-2.0zM99.0,579.1l2.0,2.0l-2.0,2.0l-2.0,-2.0zM119.9,577.5l2.0,2.0l-2.0,2.0l-2.0,-2.0zM118.6,577.2l2.0,2.0l-2.0,2.0l-2.0,-2.0zM129.1,565.2l2.0,2.0l-2.0,2.0l-2.0,-2.0zM103.8,583.4l2.0,2.0l-2.0,2.0l-2.0,-2.0zM131.9,584.4l2.0,2.0l-2.0,2.0l-2.0,-2.0zM123.3,573.2l2.0,2.0l-2.0,2.0l-2.0,-2.0zM121.8,565.4l2.0,2.0l-2.0,2.0l-2.0,-2.0zM128.8,588.9l2.0,2.0l-2.0,2.0l-2.0,-2.0zM118.5,579.2l2.0,2.0l-2.0,2.0l-2.0,-2.0zM115.5,582.7l2.0,2.0l-2.0,2.0l-2.0,-2.0zM101.4,571.7l2.0,2.0l-2.0,2.0l-2.0,-2.0zM114.0,586.6l2.0,2.0l-2.0,2.0l-2.0,-2.0zM99.5,584.0l2.0,2.0l-2.0,2.0l-2.0,-2.0zM95.9,578.5l2.0,2.0l-2.0,2.0l-2.0,-2.0zM93.3,591.7l2.0,2.0l-2.0,2.0l-2.0,-2.0zM90.4,590.5l2.0,2.0l-2.0,2.0l-2.0,-2.0zM122.7,590.2l2.0,2.0l-2.0,2.0l-2.0,-2.0zM109.8,571.0l2.0,2.0l-2.0,2.0l-2.0,-2.0zM111.3,588.8l2.0,2.0l-2.0,2.0l-2.0,-2.0zM130.9,568.1l2.0,2.0l-2.0,2.0l-2.0,-2.0zM220.7,598.4l2.0,2.0l-2.0,2.0l-2.0,-2.0zM247.0,573.6l2.0,2.0l-2.0,2.0l-2.0,-2.0zM240.3,577.3l2.0,2.0l-2.0,2.0l-2.0,-2.0zM232.2,577.3l2.0,2.0l-2.0,2.0l-2.0,-2.0zM236.5,594.8l2.0,2.0l-2.0,2.0l-2.0,-2.0zM261.6,571.5l2.0,2.0l-2.0,2.0l-2.0,-2.0zM265.7,584.1l2.0,2.0l-2.0,2.0l-2.0,-2.0zM242.0,577.7l2.0,2.0l-2.0,2.0l-2.0,-2.0zM253.7,572.1l2.0,2.0l-2.0,2.0l-2.0,-2.0zM264.1,604.3l2.0,2.0l-2.0,2.0l-2.0,-2.0zM239.4,579.4l2.0,2.0l-2.0,2.0l-2.0,-2.0zM231.0,601.6l2.0,2.0l-2.0,2.0l-2.0,-2.0zM218.3,583.3l2.0,2.0l-2.0,2.0l-2.0,-2.0zM272.2,565.7l2.0,2.0l-2.0,2.0l-2.0,-2.0zM225.3,578.6l2.0,2.0l-2.0,2.0l-2.0,-2.0zM241.9,581.2l2.0,2.0l-2.0,2.0l-2.0,-2.0zM240.6,567.4l2.0,2.0l-2.0,2.0l-2.0,-2.0zM275.0,607.8l2.0,2.0l-2.0,2.0l-2.0,-2.0zM259.0,604.6l2.0,2.0l-2.0,2.0l-2.0,-2.0zM220.0,597.0l2.0,2.0l-2.0,2.0l-2.0,-2.0zM260.0,564.6l2.0,2.0l-2.0,2.0l-2.0,-2.0zM224.5,594.9l2.0,2.0l-2.0,2.0l-2.0,-2.0zM219.1,585.2l2.0,2.0l-2.0,2.0l-2.0,-2.0zM245.6,593.0l2.0,2.0l-2.0,2.0l-2.0,-2.0zM235.5,573.5l2.0,2.0l-2.0,2.0l-2.0,-2.0zM266.3,597.1l2.0,2.0l-2.0,2.0l-2.0,-2.0zM240.3,581.8l2.0,2.0l-2.0,2.0l-2.0,-2.0zM262.0,565.2l2.0,2.0l-2.0,2.0l-2.0,-2.0zM149.6,528.8l2.0,2.0l-2.0,2.0l-2.0,-2.0zM151.2,523.6l2.0,2.0l-2.0,2.0l-2.0,-2.0zM147.2,554.6l2.0,2.0l-2.0,2.0l-2.0,-2.0zM146.8,517.0l2.0,2.0l-2.0,2.0l-2.0,-2.0zM148.2,539.0l2.0,2.0l-2.0,2.0l-2.0,-2.0zM146.9,547.2l2.0,2.0l-2.0,2.0l-2.0,-2.0zM145.9,535.2l2.0,2.0l-2.0,2.0l-2.0,-2.0zM147.1,532.3l2.0,2.0l-2.0,2.0l-2.0,-2.0zM148.5,552.0l2.0,2.0l-2.0,2.0l-2.0,-2.0zM150.6,545.1l2.0,2.0l-2.0,2.0l-2.0,-2.0zM148.3,560.7l2.0,2.0l-2.0,2.0l-2.0,-2.0zM146.3,519.0l2.0,2.0l-2.0,2.0l-2.0,-2.0zM148.8,559.3l2.0,2.0l-2.0,2.0l-2.0,-2.0zM147.5,539.3l2.0,2.0l-2.0,2.0l-2.0,-2.0zM155.8,553.2l2.0,2.0l-2.0,2.0l-2.0,-2.0zM154.5,539.2l2.0,2.0l-2.0,2.0l-2.0,-2.0zM149.9,523.3l2.0,2.0l-2.0,2.0l-2.0,-2.0zM149.7,560.4l2.0,2.0l-2.0,2.0l-2.0,-2.0zM151.3,530.7l2.0,2.0l-2.0,2.0l-2.0,-2.0zM152.0,549.5l2.0,2.0l-2.0,2.0l-2.0,-2.0zM155.2,520.4l2.0,2.0l-2.0,2.0l-2.0,-2.0zM155.8,541.3l2.0,2.0l-2.0,2.0l-2.0,-2.0zM154.0,499.9l2.0,2.0l-2.0,2.0l-2.0,-2.0zM161.3,538.5l2.0,2.0l-2.0,2.0l-2.0,-2.0zM168.5,544.0l2.0,2.0l-2.0,2.0l-2.0,-2.0zM197.6,552.2l2.0,2.0l-2.0,2.0l-2.0,-2.0zM203.0,549.5l2.0,2.0l-2.0,2.0l-2.0,-2.0zM208.5,546.7l2.0,2.0l-2.0,2.0l-2.0,-2.0zM213.9,533.0l2.0,2.0l-2.0,2.0l-2.0,-2.0zM215.7,557.7l2.0,2.0l-2.0,2.0l-2.0,-2.0zM210.3,556.6l2.0,2.0l-2.0,2.0l-2.0,-2.0zM204.8,560.5l2.0,2.0l-2.0,2.0l-2.0,-2.0z" fill="#bfbfbf"/>
<path d="M90.3,519.7l2.0,2.0l-2.0,2.0l-2.0,-2.0zM137.6,561.8l2.0,2.0l-2.0,2.0l-2.0,-2.0zM142.1,547.3l2.0,2.0l-2.0,2.0l-2.0,-2.0zM97.2,550.3l2.0,2.0l-2.0,2.0l-2.0,-2.0zM144.1,535.8l2.0,2.0l-2.0,2.0l-2.0,-2.0zM98.7,544.8l2.0,2.0l-2.0,2.0l-2.0,-2.0zM124.1,521.4l2.0,2.0l-2.0,2.0l-2.0,-2.0zM143.8,532.0l2.0,2.0l-2.0,2.0l-2.0,-2.0zM134.9,545.5l2.0,2.0l-2.0,2.0l-2.0,-2.0zM92.3,547.0l2.0,2.0l-2.0,2.0l-2.0,-2.0zM106.6,547.6l2.0,2.0l-2.0,2.0l-2.0,-2.0zM129.3,560.1l2.0,2.0l-2.0,2.0l-2.0,-2.0zM128.5,518.2l2.0,2.0l-2.0,2.0l-2.0,-2.0zM113.7,523.5l2.0,2.0l-2.0,2.0l-2.0,-2.0zM137.5,559.8l2.0,2.0l-2.0,2.0l-2.0,-2.0zM122.1,562.1l2.0,2.0l-2.0,2.0l-2.0,-2.0zM117.0,544.5l2.0,2.0l-2.0,2.0l-2.0,-2.0zM79.7,555.8l2.0,2.0l-2.0,2.0l-2.0,-2.0zM86.1,549.6l2.0,2.0l-2.0,2.0l-2.0,-2.0zM76.4,542.7l2.0,2.0l-2.0,2.0l-2.0,-2.0zM78.7,555.1l2.0,2.0l-2.0,2.0l-2.0,-2.0zM137.5,552.3l2.0,2.0l-2.0,2.0l-2.0,-2.0zM139.0,527.3l2.0,2.0l-2.0,2.0l-2.0,-2.0zM135.7,528.8l2.0,2.0l-2.0,2.0l-2.0,-2.0zM112.1,559.5l2.0,2.0l-2.0,2.0l-2.0,-2.0zM122.9,545.7l2.0,2.0l-2.0,2.0l-2.0,-2.0zM134.7,530.1l2.0,2.0l-2.0,2.0l-2.0,-2.0zM143.6,527.9l2.0,2.0l-2.0,2.0l-2.0,-2.0zM121.0,530.7l2.0,2.0l-2.0,2.0l-2.0,-2.0zM138.8,540.1l2.0,2.0l-2.0,2.0l-2.0,-2.0zM76.2,544.6l2.0,2.0l-2.0,2.0l-2.0,-2.0zM87.3,559.0l2.0,2.0l-2.0,2.0l-2.0,-2.0zM134.5,509.1l2.0,2.0l-2.0,2.0l-2.0,-2.0zM142.5,506.3l2.0,2.0l-2.0,2.0l-2.0,-2.0zM92.6,541.1l2.0,2.0l-2.0,2.0l-2.0,-2.0zM106.2,560.8l2.0,2.0l-2.0,2.0l-2.0,-2.0zM95.7,534.1l2.0,2.0l-2.0,2.0l-2.0,-2.0zM138.8,546.9l2.0,2.0l-2.0,2.0l-2.0,-2.0zM141.1,561.6l2.0,2.0l-2.0,2.0l-2.0,-2.0zM90.3,559.4l2.0,2.0l-2.0,2.0l-2.0,-2.0zM137.3,545.5l2.0,2.0l-2.0,2.0l-2.0,-2.0zM84.2,560.8l2.0,2.0l-2.0,2.0l-2.0,-2.0zM76.4,555.7l2.0,2.0l-2.0,2.0l-2.0,-2.0zM99.3,556.1l2.0,2.0l-2.0,2.0l-2.0,-2.0zM104.2,542.7l2.0,2.0l-2.0,2.0l-2.0,-2.0zM129.7,527.7l2.0,2.0l-2.0,2.0l-2.0,-2.0zM131.9,529.9l2.0,2.0l-2.0,2.0l-2.0,-2.0zM139.9,522.4l2.0,2.0l-2.0,2.0l-2.0,-2.0zM119.6,558.9l2.0,2.0l-2.0,2.0l-2.0,-2.0zM108.8,547.4l2.0,2.0l-2.0,2.0l-2.0,-2.0zM126.8,550.2l2.0,2.0l-2.0,2.0l-2.0,-2.0zM123.6,558.3l2.0,2.0l-2.0,2.0l-2.0,-2.0zM91.5,544.1l2.0,2.0l-2.0,2.0l-2.0,-2.0zM120.3,537.3l2.0,2.0l-2.0,2.0l-2.0,-2.0zM101.3,554.3l2.0,2.0l-2.0,2.0l-2.0,-2.0zM111.2,551.7l2.0,2.0l-2.0,2.0l-2.0,-2.0zM88.4,523.8l2.0,2.0l-2.0,2.0l-2.0,-2.0zM109.5,541.5l2.0,2.0l-2.0,2.0l-2.0,-2.0zM142.5,543.5l2.0,2.0l-2.0,2.0l-2.0,-2.0zM79.5,551.2l2.0,2.0l-2.0,2.0l-2.0,-2.0zM102.0,524.2l2.0,2.0l-2.0,2.0l-2.0,-2.0zM139.7,503.8l2.0,2.0l-2.0,2.0l-2.0,-2.0zM133.5,543.4l2.0,2.0l-2.0,2.0l-2.0,-2.0zM88.8,530.9l2.0,2.0l-2.0,2.0l-2.0,-2.0zM113.8,560.0l2.0,2.0l-2.0,2.0l-2.0,-2.0zM126.6,546.4l2.0,2.0l-2.0,2.0l-2.0,-2.0zM99.7,524.5l2.0,2.0l-2.0,2.0l-2.0,-2.0zM79.9,561.9l2.0,2.0l-2.0,2.0l-2.0,-2.0zM107.0,540.0l2.0,2.0l-2.0,2.0l-2.0,-2.0zM129.7,524.3l2.0,2.0l-2.0,2.0l-2.0,-2.0zM109.2,496.4l2.0,2.0l-2.0,2.0l-2.0,-2.0zM124.5,510.2l2.0,2.0l-2.0,2.0l-2.0,-2.0zM105.7,521.7l2.0,2.0l-2.0,2.0l-2.0,-2.0zM119.9,544.6l2.0,2.0l-2.0,2.0l-2.0,-2.0zM105.2,555.1l2.0,2.0l-2.0,2.0l-2.0,-2.0zM126.2,558.4l2.0,2.0l-2.0,2.0l-2.0,-2.0zM124.6,518.2l2.0,2.0l-2.0,2.0l-2.0,-2.0zM105.8,528.3l2.0,2.0l-2.0,2.0l-2.0,-2.0zM98.1,553.4l2.0,2.0l-2.0,2.0l-2.0,-2.0zM95.2,559.3l2.0,2.0l-2.0,2.0l-2.0,-2.0zM119.4,562.0l2.0,2.0l-2.0,2.0l-2.0,-2.0zM84.8,561.9l2.0,2.0l-2.0,2.0l-2.0,-2.0zM127.4,535.1l2.0,2.0l-2.0,2.0l-2.0,-2.0zM94.1,550.7l2.0,2.0l-2.0,2.0l-2.0,-2.0zM116.6,559.1l2.0,2.0l-2.0,2.0l-2.0,-2.0zM141.6,536.9l2.0,2.0l-2.0,2.0l-2.0,-2.0zM131.0,515.0l2.0,2.0l-2.0,2.0l-2.0,-2.0zM142.9,555.1l2.0,2.0l-2.0,2.0l-2.0,-2.0zM120.6,533.4l2.0,2.0l-2.0,2.0l-2.0,-2.0zM141.0,508.2l2.0,2.0l-2.0,2.0l-2.0,-2.0zM78.6,543.8l2.0,2.0l-2.0,2.0l-2.0,-2.0zM91.6,518.8l2.0,2.0l-2.0,2.0l-2.0,-2.0zM100.6,557.9l2.0,2.0l-2.0,2.0l-2.0,-2.0zM140.7,550.8l2.0,2.0l-2.0,2.0l-2.0,-2.0zM78.4,526.6l2.0,2.0l-2.0,2.0l-2.0,-2.0zM123.1,560.6l2.0,2.0l-2.0,2.0l-2.0,-2.0zM133.0,559.6l2.0,2.0l-2.0,2.0l-2.0,-2.0zM118.0,525.7l2.0,2.0l-2.0,2.0l-2.0,-2.0zM84.1,545.1l2.0,2.0l-2.0,2.0l-2.0,-2.0zM130.7,518.4l2.0,2.0l-2.0,2.0l-2.0,-2.0zM122.2,539.5l2.0,2.0l-2.0,2.0l-2.0,-2.0zM127.0,542.7l2.0,2.0l-2.0,2.0l-2.0,-2.0zM90.1,561.1l2.0,2.0l-2.0,2.0l-2.0,-2.0zM115.1,534.3l2.0,2.0l-2.0,2.0l-2.0,-2.0zM141.2,546.5l2.0,2.0l-2.0,2.0l-2.0,-2.0zM129.8,539.0l2.0,2.0l-2.0,2.0l-2.0,-2.0zM118.1,562.1l2.0,2.0l-2.0,2.0l-2.0,-2.0zM78.9,546.9l2.0,2.0l-2.0,2.0l-2.0,-2.0zM109.8,546.7l2.0,2.0l-2.0,2.0l-2.0,-2.0zM110.4,550.0l2.0,2.0l-2.0,2.0l-2.0,-2.0zM117.3,536.6l2.0,2.0l-2.0,2.0l-2.0,-2.0zM141.4,553.4l2.0,2.0l-2.0,2.0l-2.0,-2.0zM124.1,551.6l2.0,2.0l-2.0,2.0l-2.0,-2.0zM103.3,560.4l2.0,2.0l-2.0,2.0l-2.0,-2.0zM128.9,549.8l2.0,2.0l-2.0,2.0l-2.0,-2.0zM96.3,561.4l2.0,2.0l-2.0,2.0l-2.0,-2.0zM107.7,533.9l2.0,2.0l-2.0,2.0l-2.0,-2.0zM97.2,531.8l2.0,2.0l-2.0,2.0l-2.0,-2.0zM123.0,523.6l2.0,2.0l-2.0,2.0l-2.0,-2.0zM121.4,517.3l2.0,2.0l-2.0,2.0l-2.0,-2.0zM125.7,541.5l2.0,2.0l-2.0,2.0l-2.0,-2.0zM129.4,518.8l2.0,2.0l-2.0,2.0l-2.0,-2.0zM142.3,559.4l2.0,2.0l-2.0,2.0l-2.0,-2.0zM113.6,559.5l2.0,2.0l-2.0,2.0l-2.0,-2.0zM140.4,550.3l2.0,2.0l-2.0,2.0l-2.0,-2.0zM82.4,555.5l2.0,2.0l-2.0,2.0l-2.0,-2.0zM123.2,535.1l2.0,2.0l-2.0,2.0l-2.0,-2.0zM86.7,539.8l2.0,2.0l-2.0,2.0l-2.0,-2.0zM143.6,542.6l2.0,2.0l-2.0,2.0l-2.0,-2.0zM81.9,538.3l2.0,2.0l-2.0,2.0l-2.0,-2.0zM102.5,545.5l2.0,2.0l-2.0,2.0l-2.0,-2.0zM98.1,557.5l2.0,2.0l-2.0,2.0l-2.0,-2.0zM110.7,555.9l2.0,2.0l-2.0,2.0l-2.0,-2.0zM127.5,530.8l2.0,2.0l-2.0,2.0l-2.0,-2.0zM115.7,545.5l2.0,2.0l-2.0,2.0l-2.0,-2.0zM127.0,531.4l2.0,2.0l-2.0,2.0l-2.0,-2.0zM134.5,552.9l2.0,2.0l-2.0,2.0l-2.0,-2.0zM99.1,532.1l2.0,2.0l-2.0,2.0l-2.0,-2.0zM91.0,546.2l2.0,2.0l-2.0,2.0l-2.0,-2.0zM100.3,542.5l2.0,2.0l-2.0,2.0l-2.0,-2.0zM120.3,538.8l2.0,2.0l-2.0,2.0l-2.0,-2.0zM141.0,550.5l2.0,2.0l-2.0,2.0l-2.0,-2.0zM89.1,561.7l2.0,2.0l-2.0,2.0l-2.0,-2.0zM113.3,548.9l2.0,2.0l-2.0,2.0l-2.0,-2.0zM141.2,514.4l2.0,2.0l-2.0,2.0l-2.0,-2.0zM135.4,556.0l2.0,2.0l-2.0,2.0l-2.0,-2.0zM140.2,516.1l2.0,2.0l-2.0,2.0l-2.0,-2.0zM111.0,503.4l2.0,2.0l-2.0,2.0l-2.0,-2.0zM100.1,551.3l2.0,2.0l-2.0,2.0l-2.0,-2.0zM132.8,553.6l2.0,2.0l-2.0,2.0l-2.0,-2.0zM143.9,535.0l2.0,2.0l-2.0,2.0l-2.0,-2.0zM133.4,558.9l2.0,2.0l-2.0,2.0l-2.0,-2.0zM118.3,552.3l2.0,2.0l-2.0,2.0l-2.0,-2.0zM116.5,505.9l2.0,2.0l-2.0,2.0l-2.0,-2.0zM138.4,507.3l2.0,2.0l-2.0,2.0l-2.0,-2.0zM113.9,518.9l2.0,2.0l-2.0,2.0l-2.0,-2.0zM114.6,525.2l2.0,2.0l-2.0,2.0l-2.0,-2.0zM133.0,561.3l2.0,2.0l-2.0,2.0l-2.0,-2.0zM81.1,547.1l2.0,2.0l-2.0,2.0l-2.0,-2.0zM120.6,546.6l2.0,2.0l-2.0,2.0l-2.0,-2.0zM127.6,554.4l2.0,2.0l-2.0,2.0l-2.0,-2.0zM79.9,559.6l2.0,2.0l-2.0,2.0l-2.0,-2.0zM142.3,503.2l2.0,2.0l-2.0,2.0l-2.0,-2.0zM141.1,532.9l2.0,2.0l-2.0,2.0l-2.0,-2.0zM130.1,506.1l2.0,2.0l-2.0,2.0l-2.0,-2.0zM142.6,524.7l2.0,2.0l-2.0,2.0l-2.0,-2.0zM142.1,535.8l2.0,2.0l-2.0,2.0l-2.0,-2.0zM137.2,535.8l2.0,2.0l-2.0,2.0l-2.0,-2.0zM136.5,521.4l2.0,2.0l-2.0,2.0l-2.0,-2.0zM123.0,538.8l2.0,2.0l-2.0,2.0l-2.0,-2.0zM112.6,558.7l2.0,2.0l-2.0,2.0l-2.0,-2.0zM81.2,561.9l2.0,2.0l-2.0,2.0l-2.0,-2.0zM117.9,530.9l2.0,2.0l-2.0,2.0l-2.0,-2.0zM141.7,536.4l2.0,2.0l-2.0,2.0l-2.0,-2.0zM140.6,506.4l2.0,2.0l-2.0,2.0l-2.0,-2.0zM79.2,561.9l2.0,2.0l-2.0,2.0l-2.0,-2.0zM102.6,536.3l2.0,2.0l-2.0,2.0l-2.0,-2.0zM111.2,516.8l2.0,2.0l-2.0,2.0l-2.0,-2.0zM142.4,513.4l2.0,2.0l-2.0,2.0l-2.0,-2.0zM127.7,562.0l2.0,2.0l-2.0,2.0l-2.0,-2.0zM95.7,552.9l2.0,2.0l-2.0,2.0l-2.0,-2.0zM128.4,524.0l2.0,2.0l-2.0,2.0l-2.0,-2.0zM120.4,554.3l2.0,2.0l-2.0,2.0l-2.0,-2.0zM138.9,553.4l2.0,2.0l-2.0,2.0l-2.0,-2.0zM118.7,514.4l2.0,2.0l-2.0,2.0l-2.0,-2.0zM105.3,553.0l2.0,2.0l-2.0,2.0l-2.0,-2.0zM115.5,553.3l2.0,2.0l-2.0,2.0l-2.0,-2.0zM134.6,550.7l2.0,2.0l-2.0,2.0l-2.0,-2.0zM128.8,519.5l2.0,2.0l-2.0,2.0l-2.0,-2.0zM114.2,560.6l2.0,2.0l-2.0,2.0l-2.0,-2.0zM96.3,553.8l2.0,2.0l-2.0,2.0l-2.0,-2.0zM76.2,546.6l2.0,2.0l-2.0,2.0l-2.0,-2.0zM127.1,502.3l2.0,2.0l-2.0,2.0l-2.0,-2.0zM139.6,513.9l2.0,2.0l-2.0,2.0l-2.0,-2.0zM94.7,548.6l2.0,2.0l-2.0,2.0l-2.0,-2.0zM131.4,530.7l2.0,2.0l-2.0,2.0l-2.0,-2.0zM98.2,539.5l2.0,2.0l-2.0,2.0l-2.0,-2.0zM117.2,546.0l2.0,2.0l-2.0,2.0l-2.0,-2.0zM142.5,502.0l2.0,2.0l-2.0,2.0l-2.0,-2.0zM81.6,548.4l2.0,2.0l-2.0,2.0l-2.0,-2.0zM136.8,558.7l2.0,2.0l-2.0,2.0l-2.0,-2.0zM120.5,546.5l2.0,2.0l-2.0,2.0l-2.0,-2.0zM80.9,560.8l2.0,2.0l-2.0,2.0l-2.0,-2.0zM137.2,548.0l2.0,2.0l-2.0,2.0l-2.0,-2.0zM137.3,559.2l2.0,2.0l-2.0,2.0l-2.0,-2.0zM115.2,534.8l2.0,2.0l-2.0,2.0l-2.0,-2.0zM141.9,554.9l2.0,2.0l-2.0,2.0l-2.0,-2.0zM116.9,557.7l2.0,2.0l-2.0,2.0l-2.0,-2.0zM131.0,513.6l2.0,2.0l-2.0,2.0l-2.0,-2.0zM77.8,540.7l2.0,2.0l-2.0,2.0l-2.0,-2.0zM119.7,556.4l2.0,2.0l-2.0,2.0l-2.0,-2.0zM124.2,561.3l2.0,2.0l-2.0,2.0l-2.0,-2.0zM138.3,557.2l2.0,2.0l-2.0,2.0l-2.0,-2.0zM143.9,555.0l2.0,2.0l-2.0,2.0l-2.0,-2.0zM93.3,537.9l2.0,2.0l-2.0,2.0l-2.0,-2.0zM137.3,562.0l2.0,2.0l-2.0,2.0l-2.0,-2.0zM130.4,561.6l2.0,2.0l-2.0,2.0l-2.0,-2.0zM126.2,539.8l2.0,2.0l-2.0,2.0l-2.0,-2.0zM107.7,549.8l2.0,2.0l-2.0,2.0l-2.0,-2.0zM111.1,543.6l2.0,2.0l-2.0,2.0l-2.0,-2.0zM114.2,540.6l2.0,2.0l-2.0,2.0l-2.0,-2.0zM134.6,499.8l2.0,2.0l-2.0,2.0l-2.0,-2.0zM76.7,551.5l2.0,2.0l-2.0,2.0l-2.0,-2.0zM137.9,519.8l2.0,2.0l-2.0,2.0l-2.0,-2.0zM138.5,498.7l2.0,2.0l-2.0,2.0l-2.0,-2.0zM131.6,560.1l2.0,2.0l-2.0,2.0l-2.0,-2.0zM112.7,538.0l2.0,2.0l-2.0,2.0l-2.0,-2.0zM82.4,536.8l2.0,2.0l-2.0,2.0l-2.0,-2.0zM117.4,552.5l2.0,2.0l-2.0,2.0l-2.0,-2.0zM111.6,527.6l2.0,2.0l-2.0,2.0l-2.0,-2.0zM117.3,539.1l2.0,2.0l-2.0,2.0l-2.0,-2.0zM141.8,512.9l2.0,2.0l-2.0,2.0l-2.0,-2.0zM134.5,510.2l2.0,2.0l-2.0,2.0l-2.0,-2.0zM84.1,537.5l2.0,2.0l-2.0,2.0l-2.0,-2.0zM122.4,533.7l2.0,2.0l-2.0,2.0l-2.0,-2.0zM118.5,551.4l2.0,2.0l-2.0,2.0l-2.0,-2.0zM89.6,537.6l2.0,2.0l-2.0,2.0l-2.0,-2.0zM135.6,509.7l2.0,2.0l-2.0,2.0l-2.0,-2.0zM92.4,512.8l2.0,2.0l-2.0,2.0l-2.0,-2.0zM130.4,553.8l2.0,2.0l-2.0,2.0l-2.0,-2.0zM82.6,561.9l2.0,2.0l-2.0,2.0l-2.0,-2.0zM93.9,529.3l2.0,2.0l-2.0,2.0l-2.0,-2.0zM104.3,559.6l2.0,2.0l-2.0,2.0l-2.0,-2.0zM102.1,516.7l2.0,2.0l-2.0,2.0l-2.0,-2.0zM76.6,528.3l2.0,2.0l-2.0,2.0l-2.0,-2.0zM142.7,506.5l2.0,2.0l-2.0,2.0l-2.0,-2.0zM95.9,514.2l2.0,2.0l-2.0,2.0l-2.0,-2.0zM117.8,545.7l2.0,2.0l-2.0,2.0l-2.0,-2.0zM138.4,513.3l2.0,2.0l-2.0,2.0l-2.0,-2.0zM134.8,525.8l2.0,2.0l-2.0,2.0l-2.0,-2.0zM116.0,549.9l2.0,2.0l-2.0,2.0l-2.0,-2.0zM132.3,556.6l2.0,2.0l-2.0,2.0l-2.0,-2.0zM80.6,549.1l2.0,2.0l-2.0,2.0l-2.0,-2.0zM108.1,497.2l2.0,2.0l-2.0,2.0l-2.0,-2.0zM95.4,548.9l2.0,2.0l-2.0,2.0l-2.0,-2.0zM118.1,561.7l2.0,2.0l-2.0,2.0l-2.0,-2.0zM87.7,535.2l2.0,2.0l-2.0,2.0l-2.0,-2.0zM133.6,556.0l2.0,2.0l-2.0,2.0l-2.0,-2.0zM111.1,554.0l2.0,2.0l-2.0,2.0l-2.0,-2.0zM142.9,547.6l2.0,2.0l-2.0,2.0l-2.0,-2.0zM123.7,554.3l2.0,2.0l-2.0,2.0l-2.0,-2.0zM102.8,516.3l2.0,2.0l-2.0,2.0l-2.0,-2.0zM113.1,526.8l2.0,2.0l-2.0,2.0l-2.0,-2.0zM133.5,534.7l2.0,2.0l-2.0,2.0l-2.0,-2.0zM75.5,535.8l2.0,2.0l-2.0,2.0l-2.0,-2.0zM142.8,558.1l2.0,2.0l-2.0,2.0l-2.0,-2.0zM113.4,552.3l2.0,2.0l-2.0,2.0l-2.0,-2.0zM129.5,515.9l2.0,2.0l-2.0,2.0l-2.0,-2.0zM105.8,521.3l2.0,2.0l-2.0,2.0l-2.0,-2.0zM140.9,539.6l2.0,2.0l-2.0,2.0l-2.0,-2.0zM132.5,522.3l2.0,2.0l-2.0,2.0l-2.0,-2.0zM121.6,559.0l2.0,2.0l-2.0,2.0l-2.0,-2.0zM97.9,544.5l2.0,2.0l-2.0,2.0l-2.0,-2.0zM105.7,523.4l2.0,2.0l-2.0,2.0l-2.0,-2.0zM100.7,559.0l2.0,2.0l-2.0,2.0l-2.0,-2.0zM142.9,539.7l2.0,2.0l-2.0,2.0l-2.0,-2.0zM124.8,540.1l2.0,2.0l-2.0,2.0l-2.0,-2.0zM140.9,498.0l2.0,2.0l-2.0,2.0l-2.0,-2.0zM110.6,549.9l2.0,2.0l-2.0,2.0l-2.0,-2.0zM76.8,559.3l2.0,2.0l-2.0,2.0l-2.0,-2.0zM87.5,537.2l2.0,2.0l-2.0,2.0l-2.0,-2.0zM123.5,544.8l2.0,2.0l-2.0,2.0l-2.0,-2.0zM93.9,521.1l2.0,2.0l-2.0,2.0l-2.0,-2.0zM120.9,546.9l2.0,2.0l-2.0,2.0l-2.0,-2.0zM129.7,528.2l2.0,2.0l-2.0,2.0l-2.0,-2.0zM123.4,550.6l2.0,2.0l-2.0,2.0l-2.0,-2.0zM120.4,546.3l2.0,2.0l-2.0,2.0l-2.0,-2.0zM94.4,544.6l2.0,2.0l-2.0,2.0l-2.0,-2.0zM104.0,518.2l2.0,2.0l-2.0,2.0l-2.0,-2.0zM79.9,525.6l2.0,2.0l-2.0,2.0l-2.0,-2.0zM85.1,473.5l2.0,2.0l-2.0,2.0l-2.0,-2.0zM113.7,477.4l2.0,2.0l-2.0,2.0l-2.0,-2.0zM110.5,486.2l2.0,2.0l-2.0,2.0l-2.0,-2.0zM95.9,494.4l2.0,2.0l-2.0,2.0l-2.0,-2.0zM101.4,497.2l2.0,2.0l-2.0,2.0l-2.0,-2.0zM126.8,497.2l2.0,2.0l-2.0,2.0l-2.0,-2.0z" fill="#5b8cc8"/>
<path d="M265.5,492.0l2.0,2.0l-2.0,2.0l-2.0,-2.0zM268.6,494.7l2.0,2.0l-2.0,2.0l-2.0,-2.0zM266.2,495.8l2.0,2.0l-2.0,2.0l-2.0,-2.0zM273.2,507.0l2.0,2.0l-2.0,2.0l-2.0,-2.0zM267.4,513.2l2.0,2.0l-2.0,2.0l-2.0,-2.0zM250.0,517.0l2.0,2.0l-2.0,2.0l-2.0,-2.0zM253.9,519.0l2.0,2.0l-2.0,2.0l-2.0,-2.0zM263.5,519.0l2.0,2.0l-2.0,2.0l-2.0,-2.0zM285.5,529.8l2.0,2.0l-2.0,2.0l-2.0,-2.0zM223.8,529.8l2.0,2.0l-2.0,2.0l-2.0,-2.0zM228.8,531.3l2.0,2.0l-2.0,2.0l-2.0,-2.0zM234.6,529.4l2.0,2.0l-2.0,2.0l-2.0,-2.0zM242.3,528.6l2.0,2.0l-2.0,2.0l-2.0,-2.0zM218.4,543.7l2.0,2.0l-2.0,2.0l-2.0,-2.0zM247.3,543.7l2.0,2.0l-2.0,2.0l-2.0,-2.0zM233.8,547.9l2.0,2.0l-2.0,2.0l-2.0,-2.0zM235.4,552.5l2.0,2.0l-2.0,2.0l-2.0,-2.0zM261.6,549.1l2.0,2.0l-2.0,2.0l-2.0,-2.0zM230.0,557.5l2.0,2.0l-2.0,2.0l-2.0,-2.0zM232.7,560.2l2.0,2.0l-2.0,2.0l-2.0,-2.0zM236.5,562.2l2.0,2.0l-2.0,2.0l-2.0,-2.0zM242.3,560.2l2.0,2.0l-2.0,2.0l-2.0,-2.0zM248.1,559.1l2.0,2.0l-2.0,2.0l-2.0,-2.0zM250.0,557.5l2.0,2.0l-2.0,2.0l-2.0,-2.0zM228.8,555.2l2.0,2.0l-2.0,2.0l-2.0,-2.0zM238.5,561.4l2.0,2.0l-2.0,2.0l-2.0,-2.0z" fill="#c00000"/>
<rect x="61" y="406" width="240.3" height="241" fill="none" stroke="#8a8a8a" stroke-width="1.2"/>
<line x1="144.95" y1="406" x2="144.95" y2="647" stroke="#333" stroke-width="1" stroke-dasharray="3,2"/>
<line x1="217.55" y1="406" x2="217.55" y2="647" stroke="#333" stroke-width="1" stroke-dasharray="3,2"/>
<line x1="61" y1="565.2349999999999" x2="301.3" y2="565.2349999999999" stroke="#333" stroke-width="1" stroke-dasharray="3,2"/>
<line x1="58" y1="636.8" x2="61" y2="636.8" stroke="#555" stroke-width="1"/>
<text x="56.6" y="641.4" font-size="12.8" font-weight="bold" fill="#111" text-anchor="end" >0</text>
<line x1="58" y1="581.75" x2="61" y2="581.75" stroke="#555" stroke-width="1"/>
<text x="56.6" y="586.35" font-size="12.8" font-weight="bold" fill="#111" text-anchor="end" >1</text>
<line x1="58" y1="526.6999999999999" x2="61" y2="526.6999999999999" stroke="#555" stroke-width="1"/>
<text x="56.6" y="531.3" font-size="12.8" font-weight="bold" fill="#111" text-anchor="end" >2</text>
<line x1="58" y1="471.65" x2="61" y2="471.65" stroke="#555" stroke-width="1"/>
<text x="56.6" y="476.25" font-size="12.8" font-weight="bold" fill="#111" text-anchor="end" >3</text>
<line x1="58" y1="416.59999999999997" x2="61" y2="416.59999999999997" stroke="#555" stroke-width="1"/>
<text x="56.6" y="421.2" font-size="12.8" font-weight="bold" fill="#111" text-anchor="end" >4</text>
<line x1="108.65" y1="647" x2="108.65" y2="650" stroke="#555" stroke-width="1"/>
<text x="108.65" y="662.7" font-size="12.8" font-weight="bold" fill="#111" text-anchor="middle" >-2</text>
<line x1="181.25" y1="647" x2="181.25" y2="650" stroke="#555" stroke-width="1"/>
<text x="181.25" y="662.7" font-size="12.8" font-weight="bold" fill="#111" text-anchor="middle" >0</text>
<line x1="253.85" y1="647" x2="253.85" y2="650" stroke="#555" stroke-width="1"/>
<text x="253.85" y="662.7" font-size="12.8" font-weight="bold" fill="#111" text-anchor="middle" >2</text>
<text x="82" y="676.3" font-size="12.8" font-weight="bold" fill="#111">Log<tspan font-size="9" dy="2.5">2</tspan><tspan dy="-2.5"> Fold Change (Virus/Control)</tspan></text>
<text transform="translate(42.4,525.6) rotate(-90)" text-anchor="middle" font-size="13.2" font-weight="bold" fill="#111">-Log<tspan font-size="8.6" font-weight="normal" dy="2.6">10</tspan><tspan dy="-2.6"> (adjusted p-value)</tspan></text>
<rect x="224.6" y="413.7" width="72" height="54.8" fill="#fff" stroke="#707070" stroke-width="1.4"/>
<text x="231" y="423.4" font-size="8.4" font-weight="bold" fill="#111" text-anchor="start" >Labeled lysine</text>
<path d="M238.0,433.9l1.6,1.6l-1.6,1.6l-1.6,-1.6z" fill="#5b8cc8"/>
<text x="249.5" y="438.1" font-size="7.2" font-weight="bold" fill="#222" text-anchor="start" >Down</text>
<path d="M238.0,447.6l1.6,1.6l-1.6,1.6l-1.6,-1.6z" fill="#bdbdbd"/>
<text x="249.5" y="451.8" font-size="7.2" font-weight="bold" fill="#222" text-anchor="start" >Unchanged</text>
<path d="M238.0,460.9l1.6,1.6l-1.6,1.6l-1.6,-1.6z" fill="#c00000"/>
<text x="249.5" y="465.1" font-size="7.2" font-weight="bold" fill="#222" text-anchor="start" >Up</text>
<text x="331.2" y="411.9" font-size="20" font-weight="bold" fill="#000" text-anchor="start" >c</text>
<rect x="373.3" y="391.3" width="213.49999999999994" height="253.7" fill="none" stroke="#111" stroke-width="1.1"/>
<line x1="373.3" y1="645" x2="586.8" y2="645" stroke="#111" stroke-width="1.5"/>
<line x1="365.6" y1="645.0" x2="373.3" y2="645.0" stroke="#111" stroke-width="1.2"/>
<text x="363.2" y="648.9" font-size="10.8" font-weight="bold" fill="#111" text-anchor="end" >0</text>
<line x1="365.6" y1="594.55" x2="373.3" y2="594.55" stroke="#111" stroke-width="1.2"/>
<text x="363.2" y="598.4499999999999" font-size="10.8" font-weight="bold" fill="#111" text-anchor="end" >5</text>
<line x1="365.6" y1="544.1" x2="373.3" y2="544.1" stroke="#111" stroke-width="1.2"/>
<text x="363.2" y="548.0" font-size="10.8" font-weight="bold" fill="#111" text-anchor="end" >10</text>
<line x1="365.6" y1="493.65" x2="373.3" y2="493.65" stroke="#111" stroke-width="1.2"/>
<text x="363.2" y="497.54999999999995" font-size="10.8" font-weight="bold" fill="#111" text-anchor="end" >15</text>
<rect x="410.6" y="408.5" width="6" height="6.5" fill="#4472c4"/>
<rect x="410.6" y="421.4" width="6" height="6.5" fill="#d0d0d0"/>
<text x="435.8" y="415.7" font-size="10.4" font-weight="bold" fill="#111" text-anchor="start" >Sialic acid proteins</text>
<text x="435.8" y="427.8" font-size="10.4" font-weight="bold" fill="#111" text-anchor="start" >Non-sialic acid proteins</text>
<circle cx="416.5" cy="468.3" r="20.7" fill="#d0cfd2"/>
<path d="M416.5,468.3 L416.5,447.6 A20.7,20.7 0 0 1 430.19,483.83 Z" fill="#4472c4" stroke="#fff" stroke-width="1.3" stroke-linejoin="round"/>
<circle cx="480.8" cy="468.3" r="20.7" fill="#d0cfd2"/>
<path d="M480.8,468.3 L480.8,447.6 A20.7,20.7 0 0 1 484.68,488.63 Z" fill="#4472c4" stroke="#fff" stroke-width="1.3" stroke-linejoin="round"/>
<circle cx="544.6" cy="468.3" r="20.7" fill="#d0cfd2"/>
<path d="M544.6,468.3 L544.6,447.6 A20.7,20.7 0 1 1 524.40,472.82 Z" fill="#4472c4" stroke="#fff" stroke-width="1.3" stroke-linejoin="round"/>
<line x1="416.2" y1="503.74" x2="416.2" y2="634.91" stroke="#111" stroke-width="1.3"/>
<line x1="406.2" y1="503.74" x2="426.2" y2="503.74" stroke="#111" stroke-width="1.6"/>
<rect x="397.45" y="634.91" width="37.5" height="10.090000000000032" fill="#4472c4" stroke="#111" stroke-width="1.2"/>
<line x1="397.45" y1="645.0" x2="434.95" y2="645.0" stroke="#111" stroke-width="1.4"/>
<line x1="416.2" y1="645" x2="416.2" y2="653" stroke="#111" stroke-width="1.2"/>
<circle cx="416.20" cy="503.74" r="1.45" fill="#000"/>
<circle cx="416.20" cy="554.19" r="1.45" fill="#000"/>
<circle cx="416.20" cy="564.28" r="1.45" fill="#000"/>
<circle cx="416.20" cy="574.37" r="1.45" fill="#000"/>
<circle cx="416.20" cy="594.55" r="1.45" fill="#000"/>
<circle cx="416.20" cy="604.64" r="1.45" fill="#000"/>
<circle cx="413.05" cy="614.73" r="1.45" fill="#000"/>
<circle cx="415.15" cy="614.73" r="1.45" fill="#000"/>
<circle cx="417.25" cy="614.73" r="1.45" fill="#000"/>
<circle cx="419.35" cy="614.73" r="1.45" fill="#000"/>
<circle cx="414.10" cy="624.82" r="1.45" fill="#000"/>
<circle cx="416.20" cy="624.82" r="1.45" fill="#000"/>
<circle cx="418.30" cy="624.82" r="1.45" fill="#000"/>
<circle cx="410.95" cy="634.91" r="1.45" fill="#000"/>
<circle cx="413.05" cy="634.91" r="1.45" fill="#000"/>
<circle cx="415.15" cy="634.91" r="1.45" fill="#000"/>
<circle cx="417.25" cy="634.91" r="1.45" fill="#000"/>
<circle cx="419.35" cy="634.91" r="1.45" fill="#000"/>
<circle cx="421.45" cy="634.91" r="1.45" fill="#000"/>
<circle cx="399.20" cy="644.2" r="1.35" fill="#000"/>
<circle cx="400.56" cy="644.2" r="1.35" fill="#000"/>
<circle cx="401.92" cy="644.2" r="1.35" fill="#000"/>
<circle cx="403.28" cy="644.2" r="1.35" fill="#000"/>
<circle cx="404.64" cy="644.2" r="1.35" fill="#000"/>
<circle cx="406.00" cy="644.2" r="1.35" fill="#000"/>
<circle cx="407.36" cy="644.2" r="1.35" fill="#000"/>
<circle cx="408.72" cy="644.2" r="1.35" fill="#000"/>
<circle cx="410.08" cy="644.2" r="1.35" fill="#000"/>
<circle cx="411.44" cy="644.2" r="1.35" fill="#000"/>
<circle cx="412.80" cy="644.2" r="1.35" fill="#000"/>
<circle cx="414.16" cy="644.2" r="1.35" fill="#000"/>
<circle cx="415.52" cy="644.2" r="1.35" fill="#000"/>
<circle cx="416.88" cy="644.2" r="1.35" fill="#000"/>
<circle cx="418.24" cy="644.2" r="1.35" fill="#000"/>
<circle cx="419.60" cy="644.2" r="1.35" fill="#000"/>
<circle cx="420.96" cy="644.2" r="1.35" fill="#000"/>
<circle cx="422.32" cy="644.2" r="1.35" fill="#000"/>
<circle cx="423.68" cy="644.2" r="1.35" fill="#000"/>
<circle cx="425.04" cy="644.2" r="1.35" fill="#000"/>
<circle cx="426.40" cy="644.2" r="1.35" fill="#000"/>
<circle cx="427.76" cy="644.2" r="1.35" fill="#000"/>
<circle cx="429.12" cy="644.2" r="1.35" fill="#000"/>
<circle cx="430.48" cy="644.2" r="1.35" fill="#000"/>
<circle cx="431.84" cy="644.2" r="1.35" fill="#000"/>
<circle cx="433.20" cy="644.2" r="1.35" fill="#000"/>
<line x1="479.8" y1="534.01" x2="479.8" y2="616.748" stroke="#111" stroke-width="1.3"/>
<line x1="469.8" y1="534.01" x2="489.8" y2="534.01" stroke="#111" stroke-width="1.6"/>
<rect x="461.05" y="616.748" width="37.5" height="28.251999999999953" fill="#4472c4" stroke="#111" stroke-width="1.2"/>
<line x1="461.05" y1="645.0" x2="498.55" y2="645.0" stroke="#111" stroke-width="1.4"/>
<line x1="479.8" y1="645" x2="479.8" y2="653" stroke="#111" stroke-width="1.2"/>
<circle cx="479.80" cy="534.01" r="1.45" fill="#000"/>
<circle cx="479.80" cy="554.19" r="1.45" fill="#000"/>
<circle cx="479.80" cy="564.28" r="1.45" fill="#000"/>
<circle cx="479.80" cy="574.37" r="1.45" fill="#000"/>
<circle cx="479.80" cy="584.46" r="1.45" fill="#000"/>
<circle cx="476.65" cy="594.55" r="1.45" fill="#000"/>
<circle cx="478.75" cy="594.55" r="1.45" fill="#000"/>
<circle cx="480.85" cy="594.55" r="1.45" fill="#000"/>
<circle cx="482.95" cy="594.55" r="1.45" fill="#000"/>
<circle cx="476.65" cy="604.64" r="1.45" fill="#000"/>
<circle cx="478.75" cy="604.64" r="1.45" fill="#000"/>
<circle cx="480.85" cy="604.64" r="1.45" fill="#000"/>
<circle cx="482.95" cy="604.64" r="1.45" fill="#000"/>
<circle cx="476.65" cy="614.73" r="1.45" fill="#000"/>
<circle cx="478.75" cy="614.73" r="1.45" fill="#000"/>
<circle cx="480.85" cy="614.73" r="1.45" fill="#000"/>
<circle cx="482.95" cy="614.73" r="1.45" fill="#000"/>
<circle cx="474.55" cy="624.82" r="1.45" fill="#000"/>
<circle cx="476.65" cy="624.82" r="1.45" fill="#000"/>
<circle cx="478.75" cy="624.82" r="1.45" fill="#000"/>
<circle cx="480.85" cy="624.82" r="1.45" fill="#000"/>
<circle cx="482.95" cy="624.82" r="1.45" fill="#000"/>
<circle cx="485.05" cy="624.82" r="1.45" fill="#000"/>
<circle cx="476.65" cy="634.91" r="1.45" fill="#000"/>
<circle cx="478.75" cy="634.91" r="1.45" fill="#000"/>
<circle cx="480.85" cy="634.91" r="1.45" fill="#000"/>
<circle cx="482.95" cy="634.91" r="1.45" fill="#000"/>
<circle cx="462.80" cy="644.2" r="1.35" fill="#000"/>
<circle cx="464.16" cy="644.2" r="1.35" fill="#000"/>
<circle cx="465.52" cy="644.2" r="1.35" fill="#000"/>
<circle cx="466.88" cy="644.2" r="1.35" fill="#000"/>
<circle cx="468.24" cy="644.2" r="1.35" fill="#000"/>
<circle cx="469.60" cy="644.2" r="1.35" fill="#000"/>
<circle cx="470.96" cy="644.2" r="1.35" fill="#000"/>
<circle cx="472.32" cy="644.2" r="1.35" fill="#000"/>
<circle cx="473.68" cy="644.2" r="1.35" fill="#000"/>
<circle cx="475.04" cy="644.2" r="1.35" fill="#000"/>
<circle cx="476.40" cy="644.2" r="1.35" fill="#000"/>
<circle cx="477.76" cy="644.2" r="1.35" fill="#000"/>
<circle cx="479.12" cy="644.2" r="1.35" fill="#000"/>
<circle cx="480.48" cy="644.2" r="1.35" fill="#000"/>
<circle cx="481.84" cy="644.2" r="1.35" fill="#000"/>
<circle cx="483.20" cy="644.2" r="1.35" fill="#000"/>
<circle cx="484.56" cy="644.2" r="1.35" fill="#000"/>
<circle cx="485.92" cy="644.2" r="1.35" fill="#000"/>
<circle cx="487.28" cy="644.2" r="1.35" fill="#000"/>
<circle cx="488.64" cy="644.2" r="1.35" fill="#000"/>
<circle cx="490.00" cy="644.2" r="1.35" fill="#000"/>
<circle cx="491.36" cy="644.2" r="1.35" fill="#000"/>
<circle cx="492.72" cy="644.2" r="1.35" fill="#000"/>
<circle cx="494.08" cy="644.2" r="1.35" fill="#000"/>
<circle cx="495.44" cy="644.2" r="1.35" fill="#000"/>
<circle cx="496.80" cy="644.2" r="1.35" fill="#000"/>
<line x1="543.7" y1="503.74" x2="543.7" y2="584.46" stroke="#111" stroke-width="1.3"/>
<line x1="533.7" y1="503.74" x2="553.7" y2="503.74" stroke="#111" stroke-width="1.6"/>
<rect x="524.95" y="584.46" width="37.5" height="60.539999999999964" fill="#4472c4" stroke="#111" stroke-width="1.2"/>
<line x1="524.95" y1="614.73" x2="562.45" y2="614.73" stroke="#111" stroke-width="1.4"/>
<line x1="543.7" y1="645" x2="543.7" y2="653" stroke="#111" stroke-width="1.2"/>
<circle cx="543.70" cy="503.74" r="1.45" fill="#000"/>
<circle cx="543.70" cy="534.01" r="1.45" fill="#000"/>
<circle cx="543.70" cy="544.10" r="1.45" fill="#000"/>
<circle cx="542.65" cy="554.19" r="1.45" fill="#000"/>
<circle cx="544.75" cy="554.19" r="1.45" fill="#000"/>
<circle cx="541.60" cy="564.28" r="1.45" fill="#000"/>
<circle cx="543.70" cy="564.28" r="1.45" fill="#000"/>
<circle cx="545.80" cy="564.28" r="1.45" fill="#000"/>
<circle cx="541.60" cy="574.37" r="1.45" fill="#000"/>
<circle cx="543.70" cy="574.37" r="1.45" fill="#000"/>
<circle cx="545.80" cy="574.37" r="1.45" fill="#000"/>
<circle cx="537.40" cy="584.46" r="1.45" fill="#000"/>
<circle cx="539.50" cy="584.46" r="1.45" fill="#000"/>
<circle cx="541.60" cy="584.46" r="1.45" fill="#000"/>
<circle cx="543.70" cy="584.46" r="1.45" fill="#000"/>
<circle cx="545.80" cy="584.46" r="1.45" fill="#000"/>
<circle cx="547.90" cy="584.46" r="1.45" fill="#000"/>
<circle cx="550.00" cy="584.46" r="1.45" fill="#000"/>
<circle cx="540.55" cy="594.55" r="1.45" fill="#000"/>
<circle cx="542.65" cy="594.55" r="1.45" fill="#000"/>
<circle cx="544.75" cy="594.55" r="1.45" fill="#000"/>
<circle cx="546.85" cy="594.55" r="1.45" fill="#000"/>
<circle cx="538.45" cy="604.64" r="1.45" fill="#000"/>
<circle cx="540.55" cy="604.64" r="1.45" fill="#000"/>
<circle cx="542.65" cy="604.64" r="1.45" fill="#000"/>
<circle cx="544.75" cy="604.64" r="1.45" fill="#000"/>
<circle cx="546.85" cy="604.64" r="1.45" fill="#000"/>
<circle cx="548.95" cy="604.64" r="1.45" fill="#000"/>
<circle cx="535.30" cy="614.73" r="1.45" fill="#000"/>
<circle cx="537.40" cy="614.73" r="1.45" fill="#000"/>
<circle cx="539.50" cy="614.73" r="1.45" fill="#000"/>
<circle cx="541.60" cy="614.73" r="1.45" fill="#000"/>
<circle cx="543.70" cy="614.73" r="1.45" fill="#000"/>
<circle cx="545.80" cy="614.73" r="1.45" fill="#000"/>
<circle cx="547.90" cy="614.73" r="1.45" fill="#000"/>
<circle cx="550.00" cy="614.73" r="1.45" fill="#000"/>
<circle cx="552.10" cy="614.73" r="1.45" fill="#000"/>
<circle cx="538.45" cy="624.82" r="1.45" fill="#000"/>
<circle cx="540.55" cy="624.82" r="1.45" fill="#000"/>
<circle cx="542.65" cy="624.82" r="1.45" fill="#000"/>
<circle cx="544.75" cy="624.82" r="1.45" fill="#000"/>
<circle cx="546.85" cy="624.82" r="1.45" fill="#000"/>
<circle cx="548.95" cy="624.82" r="1.45" fill="#000"/>
<circle cx="538.45" cy="634.91" r="1.45" fill="#000"/>
<circle cx="540.55" cy="634.91" r="1.45" fill="#000"/>
<circle cx="542.65" cy="634.91" r="1.45" fill="#000"/>
<circle cx="544.75" cy="634.91" r="1.45" fill="#000"/>
<circle cx="546.85" cy="634.91" r="1.45" fill="#000"/>
<circle cx="548.95" cy="634.91" r="1.45" fill="#000"/>
<circle cx="526.70" cy="644.2" r="1.35" fill="#000"/>
<circle cx="529.32" cy="644.2" r="1.35" fill="#000"/>
<circle cx="531.93" cy="644.2" r="1.35" fill="#000"/>
<circle cx="534.55" cy="644.2" r="1.35" fill="#000"/>
<circle cx="537.16" cy="644.2" r="1.35" fill="#000"/>
<circle cx="539.78" cy="644.2" r="1.35" fill="#000"/>
<circle cx="542.39" cy="644.2" r="1.35" fill="#000"/>
<circle cx="545.01" cy="644.2" r="1.35" fill="#000"/>
<circle cx="547.62" cy="644.2" r="1.35" fill="#000"/>
<circle cx="550.24" cy="644.2" r="1.35" fill="#000"/>
<circle cx="552.85" cy="644.2" r="1.35" fill="#000"/>
<circle cx="555.47" cy="644.2" r="1.35" fill="#000"/>
<circle cx="558.08" cy="644.2" r="1.35" fill="#000"/>
<circle cx="560.70" cy="644.2" r="1.35" fill="#000"/>
<text x="416.2" y="665" font-size="10" font-weight="bold" fill="#111" text-anchor="middle" >0</text>
<text x="479.8" y="665" font-size="10" font-weight="bold" fill="#111" text-anchor="middle" >1</text>
<text x="543.7" y="665" font-size="10" font-weight="bold" fill="#111" text-anchor="middle" >&gt;=2</text>
<text x="480.1" y="685.6" font-size="11.8" font-weight="bold" fill="#111" text-anchor="middle" >No. of changed lysines per protein</text>
<text x="0" y="0" font-size="12" font-weight="bold" fill="#111" text-anchor="middle" transform="translate(342.8,521.5) rotate(-90)">No. of sialic acid per protein</text>
<text x="11.4" y="706.7" font-size="20" font-weight="bold" fill="#000" text-anchor="start" >d</text>
<rect x="143" y="706.3" width="107.9" height="23.6" fill="#d4d4d4"/>
<text x="197" y="722.3" font-size="12.2" font-weight="bold" fill="#111" text-anchor="middle" >GOMF</text>
<circle cx="201.0" cy="745.5" r="3.4" fill="#8b6aa0"/>
<circle cx="156.4785" cy="767.4" r="2.5" fill="#cc4352"/>
<circle cx="149.16899999999998" cy="789.3" r="2.0" fill="#d04050"/>
<circle cx="223.14999999999998" cy="811.4" r="3.5" fill="#8a6aad"/>
<circle cx="245.29999999999998" cy="833" r="3.8" fill="#7a7a7a"/>
<circle cx="185.938" cy="854.9" r="3.0" fill="#c94455"/>
<rect x="144.6" y="733.3" width="105.1" height="132.9000000000001" fill="none" stroke="#111" stroke-width="1.3"/>
<line x1="141.6" y1="745.3" x2="144.6" y2="745.3" stroke="#333" stroke-width="0.9"/>
<text x="140.79999999999998" y="749.5" font-size="10.2" font-weight="bold" fill="#111" text-anchor="end" >virus receptor activity</text>
<line x1="141.6" y1="767.3" x2="144.6" y2="767.3" stroke="#333" stroke-width="0.9"/>
<text x="140.79999999999998" y="761.1" font-size="10.2" font-weight="bold" fill="#111" text-anchor="end" >vascular endothelial</text>
<text x="140.79999999999998" y="771.5" font-size="10.2" font-weight="bold" fill="#111" text-anchor="end" >growth factor receptor</text>
<text x="140.79999999999998" y="781.9" font-size="10.2" font-weight="bold" fill="#111" text-anchor="end" >activity</text>
<line x1="141.6" y1="789.2" x2="144.6" y2="789.2" stroke="#333" stroke-width="0.9"/>
<text x="140.79999999999998" y="793.4000000000001" font-size="10.2" font-weight="bold" fill="#111" text-anchor="end" >laminin binding</text>
<line x1="141.6" y1="811.4" x2="144.6" y2="811.4" stroke="#333" stroke-width="0.9"/>
<text x="140.79999999999998" y="815.6" font-size="10.2" font-weight="bold" fill="#111" text-anchor="end" >integrin binding</text>
<line x1="141.6" y1="833.0" x2="144.6" y2="833.0" stroke="#333" stroke-width="0.9"/>
<text x="140.79999999999998" y="832.0" font-size="10.2" font-weight="bold" fill="#111" text-anchor="end" >identical protein</text>
<text x="140.79999999999998" y="842.4" font-size="10.2" font-weight="bold" fill="#111" text-anchor="end" >binding</text>
<line x1="141.6" y1="854.9" x2="144.6" y2="854.9" stroke="#333" stroke-width="0.9"/>
<text x="140.79999999999998" y="859.1" font-size="10.2" font-weight="bold" fill="#111" text-anchor="end" >cadherin binding</text>
<line x1="156.7" y1="866.2" x2="156.7" y2="869.5" stroke="#333" stroke-width="0.9"/>
<text x="156.7" y="877.9" font-size="10" font-weight="bold" fill="#111" text-anchor="middle" >10</text>
<line x1="178.85" y1="866.2" x2="178.85" y2="869.5" stroke="#333" stroke-width="0.9"/>
<text x="178.85" y="877.9" font-size="10" font-weight="bold" fill="#111" text-anchor="middle" >15</text>
<line x1="201.0" y1="866.2" x2="201.0" y2="869.5" stroke="#333" stroke-width="0.9"/>
<text x="201.0" y="877.9" font-size="10" font-weight="bold" fill="#111" text-anchor="middle" >20</text>
<line x1="223.14999999999998" y1="866.2" x2="223.14999999999998" y2="869.5" stroke="#333" stroke-width="0.9"/>
<text x="223.14999999999998" y="877.9" font-size="10" font-weight="bold" fill="#111" text-anchor="middle" >25</text>
<line x1="245.29999999999998" y1="866.2" x2="245.29999999999998" y2="869.5" stroke="#333" stroke-width="0.9"/>
<text x="245.29999999999998" y="877.9" font-size="10" font-weight="bold" fill="#111" text-anchor="middle" >30</text>
<text x="197" y="890.2" font-size="10" font-weight="bold" fill="#111" text-anchor="middle" >Gene ratio (%)</text>
<rect x="394.3" y="706.3" width="102.39999999999998" height="23.6" fill="#d4d4d4"/>
<text x="445" y="722.3" font-size="12.2" font-weight="bold" fill="#111" text-anchor="middle" >GOBP</text>
<circle cx="426.9" cy="745.5" r="3.3" fill="#8a68a8"/>
<circle cx="409.7" cy="767.4" r="2.8" fill="#b85a70"/>
<circle cx="397.8" cy="789.3" r="2.8" fill="#c0506a"/>
<circle cx="491" cy="810.9" r="4.2" fill="#808080"/>
<circle cx="444" cy="831.8" r="3.5" fill="#8a6aae"/>
<circle cx="415" cy="854.3" r="3.1" fill="#c44a5a"/>
<rect x="393.5" y="733.3" width="102.19999999999999" height="132.9000000000001" fill="none" stroke="#111" stroke-width="1.3"/>
<line x1="390.5" y1="745.5" x2="393.5" y2="745.5" stroke="#333" stroke-width="0.9"/>
<text x="389.7" y="744.5" font-size="10.2" font-weight="bold" fill="#111" text-anchor="end" >symbiont entry into</text>
<text x="389.7" y="754.9" font-size="10.2" font-weight="bold" fill="#111" text-anchor="end" >host cell</text>
<line x1="390.5" y1="767.4" x2="393.5" y2="767.4" stroke="#333" stroke-width="0.9"/>
<text x="389.7" y="766.4" font-size="10.2" font-weight="bold" fill="#111" text-anchor="end" >integrin-mediated</text>
<text x="389.7" y="776.8" font-size="10.2" font-weight="bold" fill="#111" text-anchor="end" >signaling pathway</text>
<line x1="390.5" y1="789.3" x2="393.5" y2="789.3" stroke="#333" stroke-width="0.9"/>
<text x="389.7" y="788.3" font-size="10.2" font-weight="bold" fill="#111" text-anchor="end" >cell adhesion mediated</text>
<text x="389.7" y="798.6999999999999" font-size="10.2" font-weight="bold" fill="#111" text-anchor="end" >by integrin</text>
<line x1="390.5" y1="811.1" x2="393.5" y2="811.1" stroke="#333" stroke-width="0.9"/>
<text x="389.7" y="815.3000000000001" font-size="10.2" font-weight="bold" fill="#111" text-anchor="end" >cell adhesion</text>
<line x1="390.5" y1="832.3" x2="393.5" y2="832.3" stroke="#333" stroke-width="0.9"/>
<text x="389.7" y="836.5" font-size="10.2" font-weight="bold" fill="#111" text-anchor="end" >cell-cell adhesion</text>
<line x1="390.5" y1="854.8" x2="393.5" y2="854.8" stroke="#333" stroke-width="0.9"/>
<text x="389.7" y="859.0" font-size="10.2" font-weight="bold" fill="#111" text-anchor="end" >angiogenesis</text>
<line x1="423.0" y1="866.2" x2="423.0" y2="869.5" stroke="#333" stroke-width="0.9"/>
<text x="423.0" y="877.9" font-size="10" font-weight="bold" fill="#111" text-anchor="middle" >20</text>
<line x1="457.0" y1="866.2" x2="457.0" y2="869.5" stroke="#333" stroke-width="0.9"/>
<text x="457.0" y="877.9" font-size="10" font-weight="bold" fill="#111" text-anchor="middle" >30</text>
<line x1="491.0" y1="866.2" x2="491.0" y2="869.5" stroke="#333" stroke-width="0.9"/>
<text x="491.0" y="877.9" font-size="10" font-weight="bold" fill="#111" text-anchor="middle" >40</text>
<text x="445" y="890.2" font-size="10" font-weight="bold" fill="#111" text-anchor="middle" >Gene ratio (%)</text>
<text x="538.6" y="737.6" font-size="10.2" font-weight="bold" fill="#111" text-anchor="start" >Count</text>
<rect x="538.4" y="743" width="11.2" height="56.6" fill="#f2f2f2"/>
<circle cx="543.6" cy="749" r="2.2" fill="#000"/>
<text x="555" y="752.6" font-size="10.2" font-weight="bold" fill="#111" text-anchor="start" >5</text>
<circle cx="543.6" cy="760.4" r="3.0" fill="#000"/>
<text x="555" y="764.0" font-size="10.2" font-weight="bold" fill="#111" text-anchor="start" >10</text>
<circle cx="543.6" cy="771.6" r="3.4" fill="#000"/>
<text x="555" y="775.2" font-size="10.2" font-weight="bold" fill="#111" text-anchor="start" >15</text>
<circle cx="543.6" cy="783.2" r="4.0" fill="#000"/>
<text x="555" y="786.8000000000001" font-size="10.2" font-weight="bold" fill="#111" text-anchor="start" >20</text>
<circle cx="543.6" cy="794.4" r="4.4" fill="#000"/>
<text x="555" y="798.0" font-size="10.2" font-weight="bold" fill="#111" text-anchor="start" >25</text>
<text x="538.6" y="823" font-size="10.15" font-weight="bold" fill="#111" text-anchor="start" >Log10(P-value)</text>
<rect x="538.4" y="829" width="11.6" height="56.6" fill="url(#cbar)"/>
<line x1="538.4" y1="847" x2="541" y2="847" stroke="#fff" stroke-width="0.8"/>
<line x1="547.4" y1="847" x2="550" y2="847" stroke="#fff" stroke-width="0.8"/>
<line x1="538.4" y1="866.4" x2="541" y2="866.4" stroke="#fff" stroke-width="0.8"/>
<line x1="547.4" y1="866.4" x2="550" y2="866.4" stroke="#fff" stroke-width="0.8"/>
<text x="553.5" y="833.2" font-size="10.3" font-weight="bold" fill="#111" text-anchor="start" >-5</text>
<text x="553.5" y="852.2" font-size="10.3" font-weight="bold" fill="#111" text-anchor="start" >-10</text>
<text x="553.5" y="870.6" font-size="10.3" font-weight="bold" fill="#111" text-anchor="start" >-15</text>
<text x="553.5" y="890.2" font-size="10.3" font-weight="bold" fill="#111" text-anchor="start" >-20</text>
</svg></body></html>
